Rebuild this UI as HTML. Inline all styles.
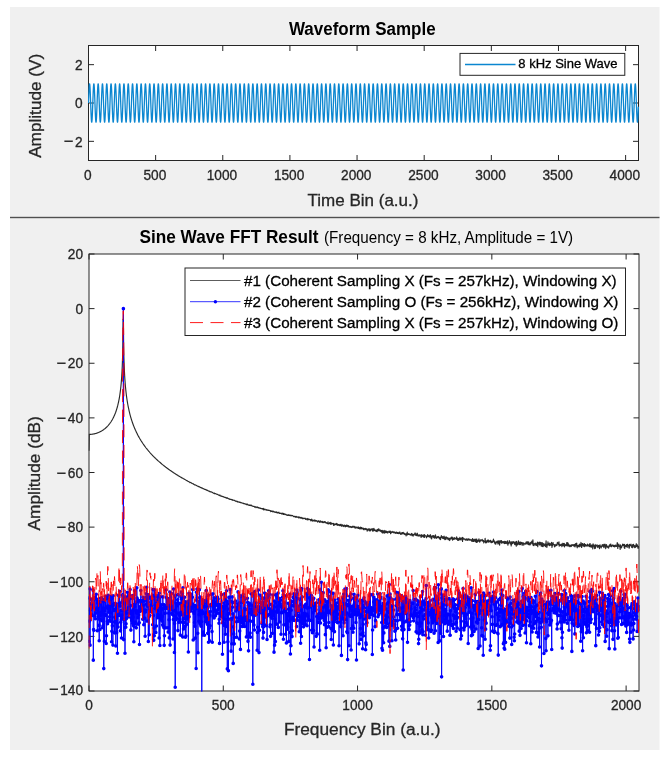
<!DOCTYPE html><html><head><meta charset="utf-8"><title>FFT</title><style>html,body{margin:0;padding:0;background:#fff;}svg{display:block;}text{font-family:'Liberation Sans', Arial, Helvetica, sans-serif;} .e{stroke:currentColor;stroke-width:0.3px;}</style></head><body><svg width="671" height="763" viewBox="0 0 671 763"><rect x="0" y="0" width="671" height="763" fill="#ffffff"/><rect x="10" y="7" width="649.5" height="743" fill="#f0f0f0"/><rect x="10" y="216.8" width="649.5" height="1.4" fill="#505050"/><defs><clipPath id="ct"><rect x="88.5" y="45.5" width="550.0" height="115.0"/></clipPath><clipPath id="ct2"><rect x="88" y="45" width="551.5" height="116"/></clipPath><clipPath id="cb2"><rect x="88.5" y="253.5" width="551" height="438"/></clipPath><clipPath id="cb"><rect x="89.0" y="254.0" width="550.0" height="437.0"/></clipPath></defs><rect x="88.5" y="45.5" width="550.0" height="115.0" fill="#fff"/><path d="M88.5 160.5V155M88.5 45.5V51M155.64 160.5V155M155.64 45.5V51M222.78 160.5V155M222.78 45.5V51M289.92 160.5V155M289.92 45.5V51M357.05 160.5V155M357.05 45.5V51M424.19 160.5V155M424.19 45.5V51M491.33 160.5V155M491.33 45.5V51M558.47 160.5V155M558.47 45.5V51M625.61 160.5V155M625.61 45.5V51M88.5 141.33H94M638.5 141.33H633M88.5 103H94M638.5 103H633M88.5 64.67H94M638.5 64.67H633" stroke="#262626" stroke-width="1" fill="none"/><rect x="88.5" y="45.5" width="550.0" height="115.0" fill="none" stroke="#262626" stroke-width="1"/><text class="e" transform="translate(87.7 180) scale(1 1.07)" font-size="13.7" fill="#262626" color="#262626" text-anchor="middle">0</text><text class="e" transform="translate(154.84 180) scale(1 1.07)" font-size="13.7" fill="#262626" color="#262626" text-anchor="middle">500</text><text class="e" transform="translate(221.98 180) scale(1 1.07)" font-size="13.7" fill="#262626" color="#262626" text-anchor="middle">1000</text><text class="e" transform="translate(289.12 180) scale(1 1.07)" font-size="13.7" fill="#262626" color="#262626" text-anchor="middle">1500</text><text class="e" transform="translate(356.25 180) scale(1 1.07)" font-size="13.7" fill="#262626" color="#262626" text-anchor="middle">2000</text><text class="e" transform="translate(423.39 180) scale(1 1.07)" font-size="13.7" fill="#262626" color="#262626" text-anchor="middle">2500</text><text class="e" transform="translate(490.53 180) scale(1 1.07)" font-size="13.7" fill="#262626" color="#262626" text-anchor="middle">3000</text><text class="e" transform="translate(557.67 180) scale(1 1.07)" font-size="13.7" fill="#262626" color="#262626" text-anchor="middle">3500</text><text class="e" transform="translate(624.81 180) scale(1 1.07)" font-size="13.7" fill="#262626" color="#262626" text-anchor="middle">4000</text><text class="e" transform="translate(82.5 146.52) scale(1 1.07)" font-size="13.7" fill="#262626" color="#262626" text-anchor="end"><tspan font-size="16.5" dy="0.8">−</tspan><tspan dx="1.6" dy="-0.8">2</tspan></text><text class="e" transform="translate(82.5 108.19) scale(1 1.07)" font-size="13.7" fill="#262626" color="#262626" text-anchor="end">0</text><text class="e" transform="translate(82.5 69.86) scale(1 1.07)" font-size="13.7" fill="#262626" color="#262626" text-anchor="end">2</text><path d="M88.5 103L88.63 99.26L88.77 95.67L88.9 92.35L89.04 89.45L89.17 87.06L89.31 85.29L89.44 84.2L89.57 83.83L89.71 84.2L89.84 85.29L89.98 87.06L90.11 89.45L90.25 92.35L90.38 95.67L90.51 99.26L90.65 103L90.78 106.74L90.92 110.33L91.05 113.65L91.19 116.55L91.32 118.94L91.45 120.71L91.59 121.8L91.72 122.17L91.86 121.8L91.99 120.71L92.13 118.94L92.26 116.55L92.39 113.65L92.53 110.33L92.66 106.74L92.8 103L92.93 99.26L93.07 95.67L93.2 92.35L93.33 89.45L93.47 87.06L93.6 85.29L93.74 84.2L93.87 83.83L94.01 84.2L94.14 85.29L94.27 87.06L94.41 89.45L94.54 92.35L94.68 95.67L94.81 99.26L94.95 103L95.08 106.74L95.21 110.33L95.35 113.65L95.48 116.55L95.62 118.94L95.75 120.71L95.89 121.8L96.02 122.17L96.15 121.8L96.29 120.71L96.42 118.94L96.56 116.55L96.69 113.65L96.83 110.33L96.96 106.74L97.09 103L97.23 99.26L97.36 95.67L97.5 92.35L97.63 89.45L97.77 87.06L97.9 85.29L98.03 84.2L98.17 83.83L98.3 84.2L98.44 85.29L98.57 87.06L98.71 89.45L98.84 92.35L98.97 95.67L99.11 99.26L99.24 103L99.38 106.74L99.51 110.33L99.65 113.65L99.78 116.55L99.91 118.94L100.05 120.71L100.18 121.8L100.32 122.17L100.45 121.8L100.58 120.71L100.72 118.94L100.85 116.55L100.99 113.65L101.12 110.33L101.26 106.74L101.39 103L101.52 99.26L101.66 95.67L101.79 92.35L101.93 89.45L102.06 87.06L102.2 85.29L102.33 84.2L102.46 83.83L102.6 84.2L102.73 85.29L102.87 87.06L103 89.45L103.14 92.35L103.27 95.67L103.4 99.26L103.54 103L103.67 106.74L103.81 110.33L103.94 113.65L104.08 116.55L104.21 118.94L104.34 120.71L104.48 121.8L104.61 122.17L104.75 121.8L104.88 120.71L105.02 118.94L105.15 116.55L105.28 113.65L105.42 110.33L105.55 106.74L105.69 103L105.82 99.26L105.96 95.67L106.09 92.35L106.22 89.45L106.36 87.06L106.49 85.29L106.63 84.2L106.76 83.83L106.9 84.2L107.03 85.29L107.16 87.06L107.3 89.45L107.43 92.35L107.57 95.67L107.7 99.26L107.84 103L107.97 106.74L108.1 110.33L108.24 113.65L108.37 116.55L108.51 118.94L108.64 120.71L108.78 121.8L108.91 122.17L109.04 121.8L109.18 120.71L109.31 118.94L109.45 116.55L109.58 113.65L109.72 110.33L109.85 106.74L109.98 103L110.12 99.26L110.25 95.67L110.39 92.35L110.52 89.45L110.66 87.06L110.79 85.29L110.92 84.2L111.06 83.83L111.19 84.2L111.33 85.29L111.46 87.06L111.6 89.45L111.73 92.35L111.86 95.67L112 99.26L112.13 103L112.27 106.74L112.4 110.33L112.54 113.65L112.67 116.55L112.8 118.94L112.94 120.71L113.07 121.8L113.21 122.17L113.34 121.8L113.48 120.71L113.61 118.94L113.74 116.55L113.88 113.65L114.01 110.33L114.15 106.74L114.28 103L114.42 99.26L114.55 95.67L114.68 92.35L114.82 89.45L114.95 87.06L115.09 85.29L115.22 84.2L115.36 83.83L115.49 84.2L115.62 85.29L115.76 87.06L115.89 89.45L116.03 92.35L116.16 95.67L116.3 99.26L116.43 103L116.56 106.74L116.7 110.33L116.83 113.65L116.97 116.55L117.1 118.94L117.24 120.71L117.37 121.8L117.5 122.17L117.64 121.8L117.77 120.71L117.91 118.94L118.04 116.55L118.18 113.65L118.31 110.33L118.44 106.74L118.58 103L118.71 99.26L118.85 95.67L118.98 92.35L119.12 89.45L119.25 87.06L119.38 85.29L119.52 84.2L119.65 83.83L119.79 84.2L119.92 85.29L120.06 87.06L120.19 89.45L120.32 92.35L120.46 95.67L120.59 99.26L120.73 103L120.86 106.74L121 110.33L121.13 113.65L121.26 116.55L121.4 118.94L121.53 120.71L121.67 121.8L121.8 122.17L121.94 121.8L122.07 120.71L122.2 118.94L122.34 116.55L122.47 113.65L122.61 110.33L122.74 106.74L122.88 103L123.01 99.26L123.14 95.67L123.28 92.35L123.41 89.45L123.55 87.06L123.68 85.29L123.81 84.2L123.95 83.83L124.08 84.2L124.22 85.29L124.35 87.06L124.49 89.45L124.62 92.35L124.75 95.67L124.89 99.26L125.02 103L125.16 106.74L125.29 110.33L125.43 113.65L125.56 116.55L125.69 118.94L125.83 120.71L125.96 121.8L126.1 122.17L126.23 121.8L126.37 120.71L126.5 118.94L126.63 116.55L126.77 113.65L126.9 110.33L127.04 106.74L127.17 103L127.31 99.26L127.44 95.67L127.57 92.35L127.71 89.45L127.84 87.06L127.98 85.29L128.11 84.2L128.25 83.83L128.38 84.2L128.51 85.29L128.65 87.06L128.78 89.45L128.92 92.35L129.05 95.67L129.19 99.26L129.32 103L129.45 106.74L129.59 110.33L129.72 113.65L129.86 116.55L129.99 118.94L130.13 120.71L130.26 121.8L130.39 122.17L130.53 121.8L130.66 120.71L130.8 118.94L130.93 116.55L131.07 113.65L131.2 110.33L131.33 106.74L131.47 103L131.6 99.26L131.74 95.67L131.87 92.35L132.01 89.45L132.14 87.06L132.27 85.29L132.41 84.2L132.54 83.83L132.68 84.2L132.81 85.29L132.95 87.06L133.08 89.45L133.21 92.35L133.35 95.67L133.48 99.26L133.62 103L133.75 106.74L133.89 110.33L134.02 113.65L134.15 116.55L134.29 118.94L134.42 120.71L134.56 121.8L134.69 122.17L134.83 121.8L134.96 120.71L135.09 118.94L135.23 116.55L135.36 113.65L135.5 110.33L135.63 106.74L135.77 103L135.9 99.26L136.03 95.67L136.17 92.35L136.3 89.45L136.44 87.06L136.57 85.29L136.71 84.2L136.84 83.83L136.97 84.2L137.11 85.29L137.24 87.06L137.38 89.45L137.51 92.35L137.65 95.67L137.78 99.26L137.91 103L138.05 106.74L138.18 110.33L138.32 113.65L138.45 116.55L138.59 118.94L138.72 120.71L138.85 121.8L138.99 122.17L139.12 121.8L139.26 120.71L139.39 118.94L139.53 116.55L139.66 113.65L139.79 110.33L139.93 106.74L140.06 103L140.2 99.26L140.33 95.67L140.47 92.35L140.6 89.45L140.73 87.06L140.87 85.29L141 84.2L141.14 83.83L141.27 84.2L141.41 85.29L141.54 87.06L141.67 89.45L141.81 92.35L141.94 95.67L142.08 99.26L142.21 103L142.35 106.74L142.48 110.33L142.61 113.65L142.75 116.55L142.88 118.94L143.02 120.71L143.15 121.8L143.29 122.17L143.42 121.8L143.55 120.71L143.69 118.94L143.82 116.55L143.96 113.65L144.09 110.33L144.23 106.74L144.36 103L144.49 99.26L144.63 95.67L144.76 92.35L144.9 89.45L145.03 87.06L145.17 85.29L145.3 84.2L145.43 83.83L145.57 84.2L145.7 85.29L145.84 87.06L145.97 89.45L146.1 92.35L146.24 95.67L146.37 99.26L146.51 103L146.64 106.74L146.78 110.33L146.91 113.65L147.04 116.55L147.18 118.94L147.31 120.71L147.45 121.8L147.58 122.17L147.72 121.8L147.85 120.71L147.98 118.94L148.12 116.55L148.25 113.65L148.39 110.33L148.52 106.74L148.66 103L148.79 99.26L148.92 95.67L149.06 92.35L149.19 89.45L149.33 87.06L149.46 85.29L149.6 84.2L149.73 83.83L149.86 84.2L150 85.29L150.13 87.06L150.27 89.45L150.4 92.35L150.54 95.67L150.67 99.26L150.8 103L150.94 106.74L151.07 110.33L151.21 113.65L151.34 116.55L151.48 118.94L151.61 120.71L151.74 121.8L151.88 122.17L152.01 121.8L152.15 120.71L152.28 118.94L152.42 116.55L152.55 113.65L152.68 110.33L152.82 106.74L152.95 103L153.09 99.26L153.22 95.67L153.36 92.35L153.49 89.45L153.62 87.06L153.76 85.29L153.89 84.2L154.03 83.83L154.16 84.2L154.3 85.29L154.43 87.06L154.56 89.45L154.7 92.35L154.83 95.67L154.97 99.26L155.1 103L155.24 106.74L155.37 110.33L155.5 113.65L155.64 116.55L155.77 118.94L155.91 120.71L156.04 121.8L156.18 122.17L156.31 121.8L156.44 120.71L156.58 118.94L156.71 116.55L156.85 113.65L156.98 110.33L157.12 106.74L157.25 103L157.38 99.26L157.52 95.67L157.65 92.35L157.79 89.45L157.92 87.06L158.06 85.29L158.19 84.2L158.32 83.83L158.46 84.2L158.59 85.29L158.73 87.06L158.86 89.45L159 92.35L159.13 95.67L159.26 99.26L159.4 103L159.53 106.74L159.67 110.33L159.8 113.65L159.94 116.55L160.07 118.94L160.2 120.71L160.34 121.8L160.47 122.17L160.61 121.8L160.74 120.71L160.88 118.94L161.01 116.55L161.14 113.65L161.28 110.33L161.41 106.74L161.55 103L161.68 99.26L161.82 95.67L161.95 92.35L162.08 89.45L162.22 87.06L162.35 85.29L162.49 84.2L162.62 83.83L162.76 84.2L162.89 85.29L163.02 87.06L163.16 89.45L163.29 92.35L163.43 95.67L163.56 99.26L163.7 103L163.83 106.74L163.96 110.33L164.1 113.65L164.23 116.55L164.37 118.94L164.5 120.71L164.64 121.8L164.77 122.17L164.9 121.8L165.04 120.71L165.17 118.94L165.31 116.55L165.44 113.65L165.58 110.33L165.71 106.74L165.84 103L165.98 99.26L166.11 95.67L166.25 92.35L166.38 89.45L166.52 87.06L166.65 85.29L166.78 84.2L166.92 83.83L167.05 84.2L167.19 85.29L167.32 87.06L167.46 89.45L167.59 92.35L167.72 95.67L167.86 99.26L167.99 103L168.13 106.74L168.26 110.33L168.4 113.65L168.53 116.55L168.66 118.94L168.8 120.71L168.93 121.8L169.07 122.17L169.2 121.8L169.33 120.71L169.47 118.94L169.6 116.55L169.74 113.65L169.87 110.33L170.01 106.74L170.14 103L170.27 99.26L170.41 95.67L170.54 92.35L170.68 89.45L170.81 87.06L170.95 85.29L171.08 84.2L171.21 83.83L171.35 84.2L171.48 85.29L171.62 87.06L171.75 89.45L171.89 92.35L172.02 95.67L172.15 99.26L172.29 103L172.42 106.74L172.56 110.33L172.69 113.65L172.83 116.55L172.96 118.94L173.09 120.71L173.23 121.8L173.36 122.17L173.5 121.8L173.63 120.71L173.77 118.94L173.9 116.55L174.03 113.65L174.17 110.33L174.3 106.74L174.44 103L174.57 99.26L174.71 95.67L174.84 92.35L174.97 89.45L175.11 87.06L175.24 85.29L175.38 84.2L175.51 83.83L175.65 84.2L175.78 85.29L175.91 87.06L176.05 89.45L176.18 92.35L176.32 95.67L176.45 99.26L176.59 103L176.72 106.74L176.85 110.33L176.99 113.65L177.12 116.55L177.26 118.94L177.39 120.71L177.53 121.8L177.66 122.17L177.79 121.8L177.93 120.71L178.06 118.94L178.2 116.55L178.33 113.65L178.47 110.33L178.6 106.74L178.73 103L178.87 99.26L179 95.67L179.14 92.35L179.27 89.45L179.41 87.06L179.54 85.29L179.67 84.2L179.81 83.83L179.94 84.2L180.08 85.29L180.21 87.06L180.35 89.45L180.48 92.35L180.61 95.67L180.75 99.26L180.88 103L181.02 106.74L181.15 110.33L181.29 113.65L181.42 116.55L181.55 118.94L181.69 120.71L181.82 121.8L181.96 122.17L182.09 121.8L182.23 120.71L182.36 118.94L182.49 116.55L182.63 113.65L182.76 110.33L182.9 106.74L183.03 103L183.17 99.26L183.3 95.67L183.43 92.35L183.57 89.45L183.7 87.06L183.84 85.29L183.97 84.2L184.11 83.83L184.24 84.2L184.37 85.29L184.51 87.06L184.64 89.45L184.78 92.35L184.91 95.67L185.05 99.26L185.18 103L185.31 106.74L185.45 110.33L185.58 113.65L185.72 116.55L185.85 118.94L185.99 120.71L186.12 121.8L186.25 122.17L186.39 121.8L186.52 120.71L186.66 118.94L186.79 116.55L186.93 113.65L187.06 110.33L187.19 106.74L187.33 103L187.46 99.26L187.6 95.67L187.73 92.35L187.87 89.45L188 87.06L188.13 85.29L188.27 84.2L188.4 83.83L188.54 84.2L188.67 85.29L188.81 87.06L188.94 89.45L189.07 92.35L189.21 95.67L189.34 99.26L189.48 103L189.61 106.74L189.75 110.33L189.88 113.65L190.01 116.55L190.15 118.94L190.28 120.71L190.42 121.8L190.55 122.17L190.69 121.8L190.82 120.71L190.95 118.94L191.09 116.55L191.22 113.65L191.36 110.33L191.49 106.74L191.62 103L191.76 99.26L191.89 95.67L192.03 92.35L192.16 89.45L192.3 87.06L192.43 85.29L192.56 84.2L192.7 83.83L192.83 84.2L192.97 85.29L193.1 87.06L193.24 89.45L193.37 92.35L193.5 95.67L193.64 99.26L193.77 103L193.91 106.74L194.04 110.33L194.18 113.65L194.31 116.55L194.44 118.94L194.58 120.71L194.71 121.8L194.85 122.17L194.98 121.8L195.12 120.71L195.25 118.94L195.38 116.55L195.52 113.65L195.65 110.33L195.79 106.74L195.92 103L196.06 99.26L196.19 95.67L196.32 92.35L196.46 89.45L196.59 87.06L196.73 85.29L196.86 84.2L197 83.83L197.13 84.2L197.26 85.29L197.4 87.06L197.53 89.45L197.67 92.35L197.8 95.67L197.94 99.26L198.07 103L198.2 106.74L198.34 110.33L198.47 113.65L198.61 116.55L198.74 118.94L198.88 120.71L199.01 121.8L199.14 122.17L199.28 121.8L199.41 120.71L199.55 118.94L199.68 116.55L199.82 113.65L199.95 110.33L200.08 106.74L200.22 103L200.35 99.26L200.49 95.67L200.62 92.35L200.76 89.45L200.89 87.06L201.02 85.29L201.16 84.2L201.29 83.83L201.43 84.2L201.56 85.29L201.7 87.06L201.83 89.45L201.96 92.35L202.1 95.67L202.23 99.26L202.37 103L202.5 106.74L202.64 110.33L202.77 113.65L202.9 116.55L203.04 118.94L203.17 120.71L203.31 121.8L203.44 122.17L203.58 121.8L203.71 120.71L203.84 118.94L203.98 116.55L204.11 113.65L204.25 110.33L204.38 106.74L204.52 103L204.65 99.26L204.78 95.67L204.92 92.35L205.05 89.45L205.19 87.06L205.32 85.29L205.46 84.2L205.59 83.83L205.72 84.2L205.86 85.29L205.99 87.06L206.13 89.45L206.26 92.35L206.4 95.67L206.53 99.26L206.66 103L206.8 106.74L206.93 110.33L207.07 113.65L207.2 116.55L207.34 118.94L207.47 120.71L207.6 121.8L207.74 122.17L207.87 121.8L208.01 120.71L208.14 118.94L208.28 116.55L208.41 113.65L208.54 110.33L208.68 106.74L208.81 103L208.95 99.26L209.08 95.67L209.22 92.35L209.35 89.45L209.48 87.06L209.62 85.29L209.75 84.2L209.89 83.83L210.02 84.2L210.16 85.29L210.29 87.06L210.42 89.45L210.56 92.35L210.69 95.67L210.83 99.26L210.96 103L211.1 106.74L211.23 110.33L211.36 113.65L211.5 116.55L211.63 118.94L211.77 120.71L211.9 121.8L212.04 122.17L212.17 121.8L212.3 120.71L212.44 118.94L212.57 116.55L212.71 113.65L212.84 110.33L212.98 106.74L213.11 103L213.24 99.26L213.38 95.67L213.51 92.35L213.65 89.45L213.78 87.06L213.92 85.29L214.05 84.2L214.18 83.83L214.32 84.2L214.45 85.29L214.59 87.06L214.72 89.45L214.85 92.35L214.99 95.67L215.12 99.26L215.26 103L215.39 106.74L215.53 110.33L215.66 113.65L215.79 116.55L215.93 118.94L216.06 120.71L216.2 121.8L216.33 122.17L216.47 121.8L216.6 120.71L216.73 118.94L216.87 116.55L217 113.65L217.14 110.33L217.27 106.74L217.41 103L217.54 99.26L217.67 95.67L217.81 92.35L217.94 89.45L218.08 87.06L218.21 85.29L218.35 84.2L218.48 83.83L218.61 84.2L218.75 85.29L218.88 87.06L219.02 89.45L219.15 92.35L219.29 95.67L219.42 99.26L219.55 103L219.69 106.74L219.82 110.33L219.96 113.65L220.09 116.55L220.23 118.94L220.36 120.71L220.49 121.8L220.63 122.17L220.76 121.8L220.9 120.71L221.03 118.94L221.17 116.55L221.3 113.65L221.43 110.33L221.57 106.74L221.7 103L221.84 99.26L221.97 95.67L222.11 92.35L222.24 89.45L222.37 87.06L222.51 85.29L222.64 84.2L222.78 83.83L222.91 84.2L223.05 85.29L223.18 87.06L223.31 89.45L223.45 92.35L223.58 95.67L223.72 99.26L223.85 103L223.99 106.74L224.12 110.33L224.25 113.65L224.39 116.55L224.52 118.94L224.66 120.71L224.79 121.8L224.93 122.17L225.06 121.8L225.19 120.71L225.33 118.94L225.46 116.55L225.6 113.65L225.73 110.33L225.87 106.74L226 103L226.13 99.26L226.27 95.67L226.4 92.35L226.54 89.45L226.67 87.06L226.81 85.29L226.94 84.2L227.07 83.83L227.21 84.2L227.34 85.29L227.48 87.06L227.61 89.45L227.75 92.35L227.88 95.67L228.01 99.26L228.15 103L228.28 106.74L228.42 110.33L228.55 113.65L228.69 116.55L228.82 118.94L228.95 120.71L229.09 121.8L229.22 122.17L229.36 121.8L229.49 120.71L229.63 118.94L229.76 116.55L229.89 113.65L230.03 110.33L230.16 106.74L230.3 103L230.43 99.26L230.57 95.67L230.7 92.35L230.83 89.45L230.97 87.06L231.1 85.29L231.24 84.2L231.37 83.83L231.51 84.2L231.64 85.29L231.77 87.06L231.91 89.45L232.04 92.35L232.18 95.67L232.31 99.26L232.45 103L232.58 106.74L232.71 110.33L232.85 113.65L232.98 116.55L233.12 118.94L233.25 120.71L233.39 121.8L233.52 122.17L233.65 121.8L233.79 120.71L233.92 118.94L234.06 116.55L234.19 113.65L234.33 110.33L234.46 106.74L234.59 103L234.73 99.26L234.86 95.67L235 92.35L235.13 89.45L235.27 87.06L235.4 85.29L235.53 84.2L235.67 83.83L235.8 84.2L235.94 85.29L236.07 87.06L236.21 89.45L236.34 92.35L236.47 95.67L236.61 99.26L236.74 103L236.88 106.74L237.01 110.33L237.15 113.65L237.28 116.55L237.41 118.94L237.55 120.71L237.68 121.8L237.82 122.17L237.95 121.8L238.08 120.71L238.22 118.94L238.35 116.55L238.49 113.65L238.62 110.33L238.76 106.74L238.89 103L239.02 99.26L239.16 95.67L239.29 92.35L239.43 89.45L239.56 87.06L239.7 85.29L239.83 84.2L239.96 83.83L240.1 84.2L240.23 85.29L240.37 87.06L240.5 89.45L240.64 92.35L240.77 95.67L240.9 99.26L241.04 103L241.17 106.74L241.31 110.33L241.44 113.65L241.58 116.55L241.71 118.94L241.84 120.71L241.98 121.8L242.11 122.17L242.25 121.8L242.38 120.71L242.52 118.94L242.65 116.55L242.78 113.65L242.92 110.33L243.05 106.74L243.19 103L243.32 99.26L243.46 95.67L243.59 92.35L243.72 89.45L243.86 87.06L243.99 85.29L244.13 84.2L244.26 83.83L244.4 84.2L244.53 85.29L244.66 87.06L244.8 89.45L244.93 92.35L245.07 95.67L245.2 99.26L245.34 103L245.47 106.74L245.6 110.33L245.74 113.65L245.87 116.55L246.01 118.94L246.14 120.71L246.28 121.8L246.41 122.17L246.54 121.8L246.68 120.71L246.81 118.94L246.95 116.55L247.08 113.65L247.22 110.33L247.35 106.74L247.48 103L247.62 99.26L247.75 95.67L247.89 92.35L248.02 89.45L248.16 87.06L248.29 85.29L248.42 84.2L248.56 83.83L248.69 84.2L248.83 85.29L248.96 87.06L249.1 89.45L249.23 92.35L249.36 95.67L249.5 99.26L249.63 103L249.77 106.74L249.9 110.33L250.04 113.65L250.17 116.55L250.3 118.94L250.44 120.71L250.57 121.8L250.71 122.17L250.84 121.8L250.98 120.71L251.11 118.94L251.24 116.55L251.38 113.65L251.51 110.33L251.65 106.74L251.78 103L251.92 99.26L252.05 95.67L252.18 92.35L252.32 89.45L252.45 87.06L252.59 85.29L252.72 84.2L252.86 83.83L252.99 84.2L253.12 85.29L253.26 87.06L253.39 89.45L253.53 92.35L253.66 95.67L253.8 99.26L253.93 103L254.06 106.74L254.2 110.33L254.33 113.65L254.47 116.55L254.6 118.94L254.74 120.71L254.87 121.8L255 122.17L255.14 121.8L255.27 120.71L255.41 118.94L255.54 116.55L255.68 113.65L255.81 110.33L255.94 106.74L256.08 103L256.21 99.26L256.35 95.67L256.48 92.35L256.62 89.45L256.75 87.06L256.88 85.29L257.02 84.2L257.15 83.83L257.29 84.2L257.42 85.29L257.56 87.06L257.69 89.45L257.82 92.35L257.96 95.67L258.09 99.26L258.23 103L258.36 106.74L258.5 110.33L258.63 113.65L258.76 116.55L258.9 118.94L259.03 120.71L259.17 121.8L259.3 122.17L259.44 121.8L259.57 120.71L259.7 118.94L259.84 116.55L259.97 113.65L260.11 110.33L260.24 106.74L260.38 103L260.51 99.26L260.64 95.67L260.78 92.35L260.91 89.45L261.05 87.06L261.18 85.29L261.31 84.2L261.45 83.83L261.58 84.2L261.72 85.29L261.85 87.06L261.99 89.45L262.12 92.35L262.25 95.67L262.39 99.26L262.52 103L262.66 106.74L262.79 110.33L262.93 113.65L263.06 116.55L263.19 118.94L263.33 120.71L263.46 121.8L263.6 122.17L263.73 121.8L263.87 120.71L264 118.94L264.13 116.55L264.27 113.65L264.4 110.33L264.54 106.74L264.67 103L264.81 99.26L264.94 95.67L265.07 92.35L265.21 89.45L265.34 87.06L265.48 85.29L265.61 84.2L265.75 83.83L265.88 84.2L266.01 85.29L266.15 87.06L266.28 89.45L266.42 92.35L266.55 95.67L266.69 99.26L266.82 103L266.95 106.74L267.09 110.33L267.22 113.65L267.36 116.55L267.49 118.94L267.63 120.71L267.76 121.8L267.89 122.17L268.03 121.8L268.16 120.71L268.3 118.94L268.43 116.55L268.57 113.65L268.7 110.33L268.83 106.74L268.97 103L269.1 99.26L269.24 95.67L269.37 92.35L269.51 89.45L269.64 87.06L269.77 85.29L269.91 84.2L270.04 83.83L270.18 84.2L270.31 85.29L270.45 87.06L270.58 89.45L270.71 92.35L270.85 95.67L270.98 99.26L271.12 103L271.25 106.74L271.39 110.33L271.52 113.65L271.65 116.55L271.79 118.94L271.92 120.71L272.06 121.8L272.19 122.17L272.33 121.8L272.46 120.71L272.59 118.94L272.73 116.55L272.86 113.65L273 110.33L273.13 106.74L273.27 103L273.4 99.26L273.53 95.67L273.67 92.35L273.8 89.45L273.94 87.06L274.07 85.29L274.21 84.2L274.34 83.83L274.47 84.2L274.61 85.29L274.74 87.06L274.88 89.45L275.01 92.35L275.15 95.67L275.28 99.26L275.41 103L275.55 106.74L275.68 110.33L275.82 113.65L275.95 116.55L276.09 118.94L276.22 120.71L276.35 121.8L276.49 122.17L276.62 121.8L276.76 120.71L276.89 118.94L277.03 116.55L277.16 113.65L277.29 110.33L277.43 106.74L277.56 103L277.7 99.26L277.83 95.67L277.97 92.35L278.1 89.45L278.23 87.06L278.37 85.29L278.5 84.2L278.64 83.83L278.77 84.2L278.91 85.29L279.04 87.06L279.17 89.45L279.31 92.35L279.44 95.67L279.58 99.26L279.71 103L279.85 106.74L279.98 110.33L280.11 113.65L280.25 116.55L280.38 118.94L280.52 120.71L280.65 121.8L280.79 122.17L280.92 121.8L281.05 120.71L281.19 118.94L281.32 116.55L281.46 113.65L281.59 110.33L281.73 106.74L281.86 103L281.99 99.26L282.13 95.67L282.26 92.35L282.4 89.45L282.53 87.06L282.67 85.29L282.8 84.2L282.93 83.83L283.07 84.2L283.2 85.29L283.34 87.06L283.47 89.45L283.6 92.35L283.74 95.67L283.87 99.26L284.01 103L284.14 106.74L284.28 110.33L284.41 113.65L284.54 116.55L284.68 118.94L284.81 120.71L284.95 121.8L285.08 122.17L285.22 121.8L285.35 120.71L285.48 118.94L285.62 116.55L285.75 113.65L285.89 110.33L286.02 106.74L286.16 103L286.29 99.26L286.42 95.67L286.56 92.35L286.69 89.45L286.83 87.06L286.96 85.29L287.1 84.2L287.23 83.83L287.36 84.2L287.5 85.29L287.63 87.06L287.77 89.45L287.9 92.35L288.04 95.67L288.17 99.26L288.3 103L288.44 106.74L288.57 110.33L288.71 113.65L288.84 116.55L288.98 118.94L289.11 120.71L289.24 121.8L289.38 122.17L289.51 121.8L289.65 120.71L289.78 118.94L289.92 116.55L290.05 113.65L290.18 110.33L290.32 106.74L290.45 103L290.59 99.26L290.72 95.67L290.86 92.35L290.99 89.45L291.12 87.06L291.26 85.29L291.39 84.2L291.53 83.83L291.66 84.2L291.8 85.29L291.93 87.06L292.06 89.45L292.2 92.35L292.33 95.67L292.47 99.26L292.6 103L292.74 106.74L292.87 110.33L293 113.65L293.14 116.55L293.27 118.94L293.41 120.71L293.54 121.8L293.68 122.17L293.81 121.8L293.94 120.71L294.08 118.94L294.21 116.55L294.35 113.65L294.48 110.33L294.62 106.74L294.75 103L294.88 99.26L295.02 95.67L295.15 92.35L295.29 89.45L295.42 87.06L295.56 85.29L295.69 84.2L295.82 83.83L295.96 84.2L296.09 85.29L296.23 87.06L296.36 89.45L296.5 92.35L296.63 95.67L296.76 99.26L296.9 103L297.03 106.74L297.17 110.33L297.3 113.65L297.44 116.55L297.57 118.94L297.7 120.71L297.84 121.8L297.97 122.17L298.11 121.8L298.24 120.71L298.38 118.94L298.51 116.55L298.64 113.65L298.78 110.33L298.91 106.74L299.05 103L299.18 99.26L299.32 95.67L299.45 92.35L299.58 89.45L299.72 87.06L299.85 85.29L299.99 84.2L300.12 83.83L300.26 84.2L300.39 85.29L300.52 87.06L300.66 89.45L300.79 92.35L300.93 95.67L301.06 99.26L301.2 103L301.33 106.74L301.46 110.33L301.6 113.65L301.73 116.55L301.87 118.94L302 120.71L302.14 121.8L302.27 122.17L302.4 121.8L302.54 120.71L302.67 118.94L302.81 116.55L302.94 113.65L303.08 110.33L303.21 106.74L303.34 103L303.48 99.26L303.61 95.67L303.75 92.35L303.88 89.45L304.02 87.06L304.15 85.29L304.28 84.2L304.42 83.83L304.55 84.2L304.69 85.29L304.82 87.06L304.96 89.45L305.09 92.35L305.22 95.67L305.36 99.26L305.49 103L305.63 106.74L305.76 110.33L305.9 113.65L306.03 116.55L306.16 118.94L306.3 120.71L306.43 121.8L306.57 122.17L306.7 121.8L306.83 120.71L306.97 118.94L307.1 116.55L307.24 113.65L307.37 110.33L307.51 106.74L307.64 103L307.77 99.26L307.91 95.67L308.04 92.35L308.18 89.45L308.31 87.06L308.45 85.29L308.58 84.2L308.71 83.83L308.85 84.2L308.98 85.29L309.12 87.06L309.25 89.45L309.39 92.35L309.52 95.67L309.65 99.26L309.79 103L309.92 106.74L310.06 110.33L310.19 113.65L310.33 116.55L310.46 118.94L310.59 120.71L310.73 121.8L310.86 122.17L311 121.8L311.13 120.71L311.27 118.94L311.4 116.55L311.53 113.65L311.67 110.33L311.8 106.74L311.94 103L312.07 99.26L312.21 95.67L312.34 92.35L312.47 89.45L312.61 87.06L312.74 85.29L312.88 84.2L313.01 83.83L313.15 84.2L313.28 85.29L313.41 87.06L313.55 89.45L313.68 92.35L313.82 95.67L313.95 99.26L314.09 103L314.22 106.74L314.35 110.33L314.49 113.65L314.62 116.55L314.76 118.94L314.89 120.71L315.03 121.8L315.16 122.17L315.29 121.8L315.43 120.71L315.56 118.94L315.7 116.55L315.83 113.65L315.97 110.33L316.1 106.74L316.23 103L316.37 99.26L316.5 95.67L316.64 92.35L316.77 89.45L316.91 87.06L317.04 85.29L317.17 84.2L317.31 83.83L317.44 84.2L317.58 85.29L317.71 87.06L317.85 89.45L317.98 92.35L318.11 95.67L318.25 99.26L318.38 103L318.52 106.74L318.65 110.33L318.79 113.65L318.92 116.55L319.05 118.94L319.19 120.71L319.32 121.8L319.46 122.17L319.59 121.8L319.73 120.71L319.86 118.94L319.99 116.55L320.13 113.65L320.26 110.33L320.4 106.74L320.53 103L320.67 99.26L320.8 95.67L320.93 92.35L321.07 89.45L321.2 87.06L321.34 85.29L321.47 84.2L321.61 83.83L321.74 84.2L321.87 85.29L322.01 87.06L322.14 89.45L322.28 92.35L322.41 95.67L322.55 99.26L322.68 103L322.81 106.74L322.95 110.33L323.08 113.65L323.22 116.55L323.35 118.94L323.49 120.71L323.62 121.8L323.75 122.17L323.89 121.8L324.02 120.71L324.16 118.94L324.29 116.55L324.43 113.65L324.56 110.33L324.69 106.74L324.83 103L324.96 99.26L325.1 95.67L325.23 92.35L325.37 89.45L325.5 87.06L325.63 85.29L325.77 84.2L325.9 83.83L326.04 84.2L326.17 85.29L326.31 87.06L326.44 89.45L326.57 92.35L326.71 95.67L326.84 99.26L326.98 103L327.11 106.74L327.25 110.33L327.38 113.65L327.51 116.55L327.65 118.94L327.78 120.71L327.92 121.8L328.05 122.17L328.19 121.8L328.32 120.71L328.45 118.94L328.59 116.55L328.72 113.65L328.86 110.33L328.99 106.74L329.12 103L329.26 99.26L329.39 95.67L329.53 92.35L329.66 89.45L329.8 87.06L329.93 85.29L330.06 84.2L330.2 83.83L330.33 84.2L330.47 85.29L330.6 87.06L330.74 89.45L330.87 92.35L331 95.67L331.14 99.26L331.27 103L331.41 106.74L331.54 110.33L331.68 113.65L331.81 116.55L331.94 118.94L332.08 120.71L332.21 121.8L332.35 122.17L332.48 121.8L332.62 120.71L332.75 118.94L332.88 116.55L333.02 113.65L333.15 110.33L333.29 106.74L333.42 103L333.56 99.26L333.69 95.67L333.82 92.35L333.96 89.45L334.09 87.06L334.23 85.29L334.36 84.2L334.5 83.83L334.63 84.2L334.76 85.29L334.9 87.06L335.03 89.45L335.17 92.35L335.3 95.67L335.44 99.26L335.57 103L335.7 106.74L335.84 110.33L335.97 113.65L336.11 116.55L336.24 118.94L336.38 120.71L336.51 121.8L336.64 122.17L336.78 121.8L336.91 120.71L337.05 118.94L337.18 116.55L337.32 113.65L337.45 110.33L337.58 106.74L337.72 103L337.85 99.26L337.99 95.67L338.12 92.35L338.26 89.45L338.39 87.06L338.52 85.29L338.66 84.2L338.79 83.83L338.93 84.2L339.06 85.29L339.2 87.06L339.33 89.45L339.46 92.35L339.6 95.67L339.73 99.26L339.87 103L340 106.74L340.14 110.33L340.27 113.65L340.4 116.55L340.54 118.94L340.67 120.71L340.81 121.8L340.94 122.17L341.08 121.8L341.21 120.71L341.34 118.94L341.48 116.55L341.61 113.65L341.75 110.33L341.88 106.74L342.02 103L342.15 99.26L342.28 95.67L342.42 92.35L342.55 89.45L342.69 87.06L342.82 85.29L342.96 84.2L343.09 83.83L343.22 84.2L343.36 85.29L343.49 87.06L343.63 89.45L343.76 92.35L343.9 95.67L344.03 99.26L344.16 103L344.3 106.74L344.43 110.33L344.57 113.65L344.7 116.55L344.84 118.94L344.97 120.71L345.1 121.8L345.24 122.17L345.37 121.8L345.51 120.71L345.64 118.94L345.78 116.55L345.91 113.65L346.04 110.33L346.18 106.74L346.31 103L346.45 99.26L346.58 95.67L346.72 92.35L346.85 89.45L346.98 87.06L347.12 85.29L347.25 84.2L347.39 83.83L347.52 84.2L347.66 85.29L347.79 87.06L347.92 89.45L348.06 92.35L348.19 95.67L348.33 99.26L348.46 103L348.6 106.74L348.73 110.33L348.86 113.65L349 116.55L349.13 118.94L349.27 120.71L349.4 121.8L349.54 122.17L349.67 121.8L349.8 120.71L349.94 118.94L350.07 116.55L350.21 113.65L350.34 110.33L350.48 106.74L350.61 103L350.74 99.26L350.88 95.67L351.01 92.35L351.15 89.45L351.28 87.06L351.42 85.29L351.55 84.2L351.68 83.83L351.82 84.2L351.95 85.29L352.09 87.06L352.22 89.45L352.35 92.35L352.49 95.67L352.62 99.26L352.76 103L352.89 106.74L353.03 110.33L353.16 113.65L353.29 116.55L353.43 118.94L353.56 120.71L353.7 121.8L353.83 122.17L353.97 121.8L354.1 120.71L354.23 118.94L354.37 116.55L354.5 113.65L354.64 110.33L354.77 106.74L354.91 103L355.04 99.26L355.17 95.67L355.31 92.35L355.44 89.45L355.58 87.06L355.71 85.29L355.85 84.2L355.98 83.83L356.11 84.2L356.25 85.29L356.38 87.06L356.52 89.45L356.65 92.35L356.79 95.67L356.92 99.26L357.05 103L357.19 106.74L357.32 110.33L357.46 113.65L357.59 116.55L357.73 118.94L357.86 120.71L357.99 121.8L358.13 122.17L358.26 121.8L358.4 120.71L358.53 118.94L358.67 116.55L358.8 113.65L358.93 110.33L359.07 106.74L359.2 103L359.34 99.26L359.47 95.67L359.61 92.35L359.74 89.45L359.87 87.06L360.01 85.29L360.14 84.2L360.28 83.83L360.41 84.2L360.55 85.29L360.68 87.06L360.81 89.45L360.95 92.35L361.08 95.67L361.22 99.26L361.35 103L361.49 106.74L361.62 110.33L361.75 113.65L361.89 116.55L362.02 118.94L362.16 120.71L362.29 121.8L362.43 122.17L362.56 121.8L362.69 120.71L362.83 118.94L362.96 116.55L363.1 113.65L363.23 110.33L363.37 106.74L363.5 103L363.63 99.26L363.77 95.67L363.9 92.35L364.04 89.45L364.17 87.06L364.31 85.29L364.44 84.2L364.57 83.83L364.71 84.2L364.84 85.29L364.98 87.06L365.11 89.45L365.25 92.35L365.38 95.67L365.51 99.26L365.65 103L365.78 106.74L365.92 110.33L366.05 113.65L366.19 116.55L366.32 118.94L366.45 120.71L366.59 121.8L366.72 122.17L366.86 121.8L366.99 120.71L367.13 118.94L367.26 116.55L367.39 113.65L367.53 110.33L367.66 106.74L367.8 103L367.93 99.26L368.07 95.67L368.2 92.35L368.33 89.45L368.47 87.06L368.6 85.29L368.74 84.2L368.87 83.83L369.01 84.2L369.14 85.29L369.27 87.06L369.41 89.45L369.54 92.35L369.68 95.67L369.81 99.26L369.95 103L370.08 106.74L370.21 110.33L370.35 113.65L370.48 116.55L370.62 118.94L370.75 120.71L370.89 121.8L371.02 122.17L371.15 121.8L371.29 120.71L371.42 118.94L371.56 116.55L371.69 113.65L371.83 110.33L371.96 106.74L372.09 103L372.23 99.26L372.36 95.67L372.5 92.35L372.63 89.45L372.77 87.06L372.9 85.29L373.03 84.2L373.17 83.83L373.3 84.2L373.44 85.29L373.57 87.06L373.71 89.45L373.84 92.35L373.97 95.67L374.11 99.26L374.24 103L374.38 106.74L374.51 110.33L374.65 113.65L374.78 116.55L374.91 118.94L375.05 120.71L375.18 121.8L375.32 122.17L375.45 121.8L375.58 120.71L375.72 118.94L375.85 116.55L375.99 113.65L376.12 110.33L376.26 106.74L376.39 103L376.52 99.26L376.66 95.67L376.79 92.35L376.93 89.45L377.06 87.06L377.2 85.29L377.33 84.2L377.46 83.83L377.6 84.2L377.73 85.29L377.87 87.06L378 89.45L378.14 92.35L378.27 95.67L378.4 99.26L378.54 103L378.67 106.74L378.81 110.33L378.94 113.65L379.08 116.55L379.21 118.94L379.34 120.71L379.48 121.8L379.61 122.17L379.75 121.8L379.88 120.71L380.02 118.94L380.15 116.55L380.28 113.65L380.42 110.33L380.55 106.74L380.69 103L380.82 99.26L380.96 95.67L381.09 92.35L381.22 89.45L381.36 87.06L381.49 85.29L381.63 84.2L381.76 83.83L381.9 84.2L382.03 85.29L382.16 87.06L382.3 89.45L382.43 92.35L382.57 95.67L382.7 99.26L382.84 103L382.97 106.74L383.1 110.33L383.24 113.65L383.37 116.55L383.51 118.94L383.64 120.71L383.78 121.8L383.91 122.17L384.04 121.8L384.18 120.71L384.31 118.94L384.45 116.55L384.58 113.65L384.72 110.33L384.85 106.74L384.98 103L385.12 99.26L385.25 95.67L385.39 92.35L385.52 89.45L385.66 87.06L385.79 85.29L385.92 84.2L386.06 83.83L386.19 84.2L386.33 85.29L386.46 87.06L386.6 89.45L386.73 92.35L386.86 95.67L387 99.26L387.13 103L387.27 106.74L387.4 110.33L387.54 113.65L387.67 116.55L387.8 118.94L387.94 120.71L388.07 121.8L388.21 122.17L388.34 121.8L388.48 120.71L388.61 118.94L388.74 116.55L388.88 113.65L389.01 110.33L389.15 106.74L389.28 103L389.42 99.26L389.55 95.67L389.68 92.35L389.82 89.45L389.95 87.06L390.09 85.29L390.22 84.2L390.36 83.83L390.49 84.2L390.62 85.29L390.76 87.06L390.89 89.45L391.03 92.35L391.16 95.67L391.3 99.26L391.43 103L391.56 106.74L391.7 110.33L391.83 113.65L391.97 116.55L392.1 118.94L392.24 120.71L392.37 121.8L392.5 122.17L392.64 121.8L392.77 120.71L392.91 118.94L393.04 116.55L393.18 113.65L393.31 110.33L393.44 106.74L393.58 103L393.71 99.26L393.85 95.67L393.98 92.35L394.12 89.45L394.25 87.06L394.38 85.29L394.52 84.2L394.65 83.83L394.79 84.2L394.92 85.29L395.06 87.06L395.19 89.45L395.32 92.35L395.46 95.67L395.59 99.26L395.73 103L395.86 106.74L396 110.33L396.13 113.65L396.26 116.55L396.4 118.94L396.53 120.71L396.67 121.8L396.8 122.17L396.94 121.8L397.07 120.71L397.2 118.94L397.34 116.55L397.47 113.65L397.61 110.33L397.74 106.74L397.88 103L398.01 99.26L398.14 95.67L398.28 92.35L398.41 89.45L398.55 87.06L398.68 85.29L398.81 84.2L398.95 83.83L399.08 84.2L399.22 85.29L399.35 87.06L399.49 89.45L399.62 92.35L399.75 95.67L399.89 99.26L400.02 103L400.16 106.74L400.29 110.33L400.43 113.65L400.56 116.55L400.69 118.94L400.83 120.71L400.96 121.8L401.1 122.17L401.23 121.8L401.37 120.71L401.5 118.94L401.63 116.55L401.77 113.65L401.9 110.33L402.04 106.74L402.17 103L402.31 99.26L402.44 95.67L402.57 92.35L402.71 89.45L402.84 87.06L402.98 85.29L403.11 84.2L403.25 83.83L403.38 84.2L403.51 85.29L403.65 87.06L403.78 89.45L403.92 92.35L404.05 95.67L404.19 99.26L404.32 103L404.45 106.74L404.59 110.33L404.72 113.65L404.86 116.55L404.99 118.94L405.13 120.71L405.26 121.8L405.39 122.17L405.53 121.8L405.66 120.71L405.8 118.94L405.93 116.55L406.07 113.65L406.2 110.33L406.33 106.74L406.47 103L406.6 99.26L406.74 95.67L406.87 92.35L407.01 89.45L407.14 87.06L407.27 85.29L407.41 84.2L407.54 83.83L407.68 84.2L407.81 85.29L407.95 87.06L408.08 89.45L408.21 92.35L408.35 95.67L408.48 99.26L408.62 103L408.75 106.74L408.89 110.33L409.02 113.65L409.15 116.55L409.29 118.94L409.42 120.71L409.56 121.8L409.69 122.17L409.83 121.8L409.96 120.71L410.09 118.94L410.23 116.55L410.36 113.65L410.5 110.33L410.63 106.74L410.77 103L410.9 99.26L411.03 95.67L411.17 92.35L411.3 89.45L411.44 87.06L411.57 85.29L411.71 84.2L411.84 83.83L411.97 84.2L412.11 85.29L412.24 87.06L412.38 89.45L412.51 92.35L412.65 95.67L412.78 99.26L412.91 103L413.05 106.74L413.18 110.33L413.32 113.65L413.45 116.55L413.59 118.94L413.72 120.71L413.85 121.8L413.99 122.17L414.12 121.8L414.26 120.71L414.39 118.94L414.53 116.55L414.66 113.65L414.79 110.33L414.93 106.74L415.06 103L415.2 99.26L415.33 95.67L415.47 92.35L415.6 89.45L415.73 87.06L415.87 85.29L416 84.2L416.14 83.83L416.27 84.2L416.41 85.29L416.54 87.06L416.67 89.45L416.81 92.35L416.94 95.67L417.08 99.26L417.21 103L417.35 106.74L417.48 110.33L417.61 113.65L417.75 116.55L417.88 118.94L418.02 120.71L418.15 121.8L418.29 122.17L418.42 121.8L418.55 120.71L418.69 118.94L418.82 116.55L418.96 113.65L419.09 110.33L419.23 106.74L419.36 103L419.49 99.26L419.63 95.67L419.76 92.35L419.9 89.45L420.03 87.06L420.17 85.29L420.3 84.2L420.43 83.83L420.57 84.2L420.7 85.29L420.84 87.06L420.97 89.45L421.1 92.35L421.24 95.67L421.37 99.26L421.51 103L421.64 106.74L421.78 110.33L421.91 113.65L422.04 116.55L422.18 118.94L422.31 120.71L422.45 121.8L422.58 122.17L422.72 121.8L422.85 120.71L422.98 118.94L423.12 116.55L423.25 113.65L423.39 110.33L423.52 106.74L423.66 103L423.79 99.26L423.92 95.67L424.06 92.35L424.19 89.45L424.33 87.06L424.46 85.29L424.6 84.2L424.73 83.83L424.86 84.2L425 85.29L425.13 87.06L425.27 89.45L425.4 92.35L425.54 95.67L425.67 99.26L425.8 103L425.94 106.74L426.07 110.33L426.21 113.65L426.34 116.55L426.48 118.94L426.61 120.71L426.74 121.8L426.88 122.17L427.01 121.8L427.15 120.71L427.28 118.94L427.42 116.55L427.55 113.65L427.68 110.33L427.82 106.74L427.95 103L428.09 99.26L428.22 95.67L428.36 92.35L428.49 89.45L428.62 87.06L428.76 85.29L428.89 84.2L429.03 83.83L429.16 84.2L429.3 85.29L429.43 87.06L429.56 89.45L429.7 92.35L429.83 95.67L429.97 99.26L430.1 103L430.24 106.74L430.37 110.33L430.5 113.65L430.64 116.55L430.77 118.94L430.91 120.71L431.04 121.8L431.18 122.17L431.31 121.8L431.44 120.71L431.58 118.94L431.71 116.55L431.85 113.65L431.98 110.33L432.12 106.74L432.25 103L432.38 99.26L432.52 95.67L432.65 92.35L432.79 89.45L432.92 87.06L433.06 85.29L433.19 84.2L433.32 83.83L433.46 84.2L433.59 85.29L433.73 87.06L433.86 89.45L434 92.35L434.13 95.67L434.26 99.26L434.4 103L434.53 106.74L434.67 110.33L434.8 113.65L434.94 116.55L435.07 118.94L435.2 120.71L435.34 121.8L435.47 122.17L435.61 121.8L435.74 120.71L435.88 118.94L436.01 116.55L436.14 113.65L436.28 110.33L436.41 106.74L436.55 103L436.68 99.26L436.82 95.67L436.95 92.35L437.08 89.45L437.22 87.06L437.35 85.29L437.49 84.2L437.62 83.83L437.76 84.2L437.89 85.29L438.02 87.06L438.16 89.45L438.29 92.35L438.43 95.67L438.56 99.26L438.7 103L438.83 106.74L438.96 110.33L439.1 113.65L439.23 116.55L439.37 118.94L439.5 120.71L439.64 121.8L439.77 122.17L439.9 121.8L440.04 120.71L440.17 118.94L440.31 116.55L440.44 113.65L440.58 110.33L440.71 106.74L440.84 103L440.98 99.26L441.11 95.67L441.25 92.35L441.38 89.45L441.52 87.06L441.65 85.29L441.78 84.2L441.92 83.83L442.05 84.2L442.19 85.29L442.32 87.06L442.46 89.45L442.59 92.35L442.72 95.67L442.86 99.26L442.99 103L443.13 106.74L443.26 110.33L443.4 113.65L443.53 116.55L443.66 118.94L443.8 120.71L443.93 121.8L444.07 122.17L444.2 121.8L444.33 120.71L444.47 118.94L444.6 116.55L444.74 113.65L444.87 110.33L445.01 106.74L445.14 103L445.27 99.26L445.41 95.67L445.54 92.35L445.68 89.45L445.81 87.06L445.95 85.29L446.08 84.2L446.21 83.83L446.35 84.2L446.48 85.29L446.62 87.06L446.75 89.45L446.89 92.35L447.02 95.67L447.15 99.26L447.29 103L447.42 106.74L447.56 110.33L447.69 113.65L447.83 116.55L447.96 118.94L448.09 120.71L448.23 121.8L448.36 122.17L448.5 121.8L448.63 120.71L448.77 118.94L448.9 116.55L449.03 113.65L449.17 110.33L449.3 106.74L449.44 103L449.57 99.26L449.71 95.67L449.84 92.35L449.97 89.45L450.11 87.06L450.24 85.29L450.38 84.2L450.51 83.83L450.65 84.2L450.78 85.29L450.91 87.06L451.05 89.45L451.18 92.35L451.32 95.67L451.45 99.26L451.59 103L451.72 106.74L451.85 110.33L451.99 113.65L452.12 116.55L452.26 118.94L452.39 120.71L452.53 121.8L452.66 122.17L452.79 121.8L452.93 120.71L453.06 118.94L453.2 116.55L453.33 113.65L453.47 110.33L453.6 106.74L453.73 103L453.87 99.26L454 95.67L454.14 92.35L454.27 89.45L454.41 87.06L454.54 85.29L454.67 84.2L454.81 83.83L454.94 84.2L455.08 85.29L455.21 87.06L455.35 89.45L455.48 92.35L455.61 95.67L455.75 99.26L455.88 103L456.02 106.74L456.15 110.33L456.29 113.65L456.42 116.55L456.55 118.94L456.69 120.71L456.82 121.8L456.96 122.17L457.09 121.8L457.23 120.71L457.36 118.94L457.49 116.55L457.63 113.65L457.76 110.33L457.9 106.74L458.03 103L458.17 99.26L458.3 95.67L458.43 92.35L458.57 89.45L458.7 87.06L458.84 85.29L458.97 84.2L459.11 83.83L459.24 84.2L459.37 85.29L459.51 87.06L459.64 89.45L459.78 92.35L459.91 95.67L460.05 99.26L460.18 103L460.31 106.74L460.45 110.33L460.58 113.65L460.72 116.55L460.85 118.94L460.99 120.71L461.12 121.8L461.25 122.17L461.39 121.8L461.52 120.71L461.66 118.94L461.79 116.55L461.93 113.65L462.06 110.33L462.19 106.74L462.33 103L462.46 99.26L462.6 95.67L462.73 92.35L462.87 89.45L463 87.06L463.13 85.29L463.27 84.2L463.4 83.83L463.54 84.2L463.67 85.29L463.81 87.06L463.94 89.45L464.07 92.35L464.21 95.67L464.34 99.26L464.48 103L464.61 106.74L464.75 110.33L464.88 113.65L465.01 116.55L465.15 118.94L465.28 120.71L465.42 121.8L465.55 122.17L465.69 121.8L465.82 120.71L465.95 118.94L466.09 116.55L466.22 113.65L466.36 110.33L466.49 106.74L466.62 103L466.76 99.26L466.89 95.67L467.03 92.35L467.16 89.45L467.3 87.06L467.43 85.29L467.56 84.2L467.7 83.83L467.83 84.2L467.97 85.29L468.1 87.06L468.24 89.45L468.37 92.35L468.5 95.67L468.64 99.26L468.77 103L468.91 106.74L469.04 110.33L469.18 113.65L469.31 116.55L469.44 118.94L469.58 120.71L469.71 121.8L469.85 122.17L469.98 121.8L470.12 120.71L470.25 118.94L470.38 116.55L470.52 113.65L470.65 110.33L470.79 106.74L470.92 103L471.06 99.26L471.19 95.67L471.32 92.35L471.46 89.45L471.59 87.06L471.73 85.29L471.86 84.2L472 83.83L472.13 84.2L472.26 85.29L472.4 87.06L472.53 89.45L472.67 92.35L472.8 95.67L472.94 99.26L473.07 103L473.2 106.74L473.34 110.33L473.47 113.65L473.61 116.55L473.74 118.94L473.88 120.71L474.01 121.8L474.14 122.17L474.28 121.8L474.41 120.71L474.55 118.94L474.68 116.55L474.82 113.65L474.95 110.33L475.08 106.74L475.22 103L475.35 99.26L475.49 95.67L475.62 92.35L475.76 89.45L475.89 87.06L476.02 85.29L476.16 84.2L476.29 83.83L476.43 84.2L476.56 85.29L476.7 87.06L476.83 89.45L476.96 92.35L477.1 95.67L477.23 99.26L477.37 103L477.5 106.74L477.64 110.33L477.77 113.65L477.9 116.55L478.04 118.94L478.17 120.71L478.31 121.8L478.44 122.17L478.58 121.8L478.71 120.71L478.84 118.94L478.98 116.55L479.11 113.65L479.25 110.33L479.38 106.74L479.52 103L479.65 99.26L479.78 95.67L479.92 92.35L480.05 89.45L480.19 87.06L480.32 85.29L480.46 84.2L480.59 83.83L480.72 84.2L480.86 85.29L480.99 87.06L481.13 89.45L481.26 92.35L481.4 95.67L481.53 99.26L481.66 103L481.8 106.74L481.93 110.33L482.07 113.65L482.2 116.55L482.34 118.94L482.47 120.71L482.6 121.8L482.74 122.17L482.87 121.8L483.01 120.71L483.14 118.94L483.28 116.55L483.41 113.65L483.54 110.33L483.68 106.74L483.81 103L483.95 99.26L484.08 95.67L484.22 92.35L484.35 89.45L484.48 87.06L484.62 85.29L484.75 84.2L484.89 83.83L485.02 84.2L485.16 85.29L485.29 87.06L485.42 89.45L485.56 92.35L485.69 95.67L485.83 99.26L485.96 103L486.1 106.74L486.23 110.33L486.36 113.65L486.5 116.55L486.63 118.94L486.77 120.71L486.9 121.8L487.04 122.17L487.17 121.8L487.3 120.71L487.44 118.94L487.57 116.55L487.71 113.65L487.84 110.33L487.98 106.74L488.11 103L488.24 99.26L488.38 95.67L488.51 92.35L488.65 89.45L488.78 87.06L488.92 85.29L489.05 84.2L489.18 83.83L489.32 84.2L489.45 85.29L489.59 87.06L489.72 89.45L489.85 92.35L489.99 95.67L490.12 99.26L490.26 103L490.39 106.74L490.53 110.33L490.66 113.65L490.79 116.55L490.93 118.94L491.06 120.71L491.2 121.8L491.33 122.17L491.47 121.8L491.6 120.71L491.73 118.94L491.87 116.55L492 113.65L492.14 110.33L492.27 106.74L492.41 103L492.54 99.26L492.67 95.67L492.81 92.35L492.94 89.45L493.08 87.06L493.21 85.29L493.35 84.2L493.48 83.83L493.61 84.2L493.75 85.29L493.88 87.06L494.02 89.45L494.15 92.35L494.29 95.67L494.42 99.26L494.55 103L494.69 106.74L494.82 110.33L494.96 113.65L495.09 116.55L495.23 118.94L495.36 120.71L495.49 121.8L495.63 122.17L495.76 121.8L495.9 120.71L496.03 118.94L496.17 116.55L496.3 113.65L496.43 110.33L496.57 106.74L496.7 103L496.84 99.26L496.97 95.67L497.11 92.35L497.24 89.45L497.37 87.06L497.51 85.29L497.64 84.2L497.78 83.83L497.91 84.2L498.05 85.29L498.18 87.06L498.31 89.45L498.45 92.35L498.58 95.67L498.72 99.26L498.85 103L498.99 106.74L499.12 110.33L499.25 113.65L499.39 116.55L499.52 118.94L499.66 120.71L499.79 121.8L499.93 122.17L500.06 121.8L500.19 120.71L500.33 118.94L500.46 116.55L500.6 113.65L500.73 110.33L500.87 106.74L501 103L501.13 99.26L501.27 95.67L501.4 92.35L501.54 89.45L501.67 87.06L501.81 85.29L501.94 84.2L502.07 83.83L502.21 84.2L502.34 85.29L502.48 87.06L502.61 89.45L502.75 92.35L502.88 95.67L503.01 99.26L503.15 103L503.28 106.74L503.42 110.33L503.55 113.65L503.69 116.55L503.82 118.94L503.95 120.71L504.09 121.8L504.22 122.17L504.36 121.8L504.49 120.71L504.63 118.94L504.76 116.55L504.89 113.65L505.03 110.33L505.16 106.74L505.3 103L505.43 99.26L505.57 95.67L505.7 92.35L505.83 89.45L505.97 87.06L506.1 85.29L506.24 84.2L506.37 83.83L506.51 84.2L506.64 85.29L506.77 87.06L506.91 89.45L507.04 92.35L507.18 95.67L507.31 99.26L507.45 103L507.58 106.74L507.71 110.33L507.85 113.65L507.98 116.55L508.12 118.94L508.25 120.71L508.39 121.8L508.52 122.17L508.65 121.8L508.79 120.71L508.92 118.94L509.06 116.55L509.19 113.65L509.33 110.33L509.46 106.74L509.59 103L509.73 99.26L509.86 95.67L510 92.35L510.13 89.45L510.27 87.06L510.4 85.29L510.53 84.2L510.67 83.83L510.8 84.2L510.94 85.29L511.07 87.06L511.21 89.45L511.34 92.35L511.47 95.67L511.61 99.26L511.74 103L511.88 106.74L512.01 110.33L512.15 113.65L512.28 116.55L512.41 118.94L512.55 120.71L512.68 121.8L512.82 122.17L512.95 121.8L513.08 120.71L513.22 118.94L513.35 116.55L513.49 113.65L513.62 110.33L513.76 106.74L513.89 103L514.02 99.26L514.16 95.67L514.29 92.35L514.43 89.45L514.56 87.06L514.7 85.29L514.83 84.2L514.96 83.83L515.1 84.2L515.23 85.29L515.37 87.06L515.5 89.45L515.64 92.35L515.77 95.67L515.9 99.26L516.04 103L516.17 106.74L516.31 110.33L516.44 113.65L516.58 116.55L516.71 118.94L516.84 120.71L516.98 121.8L517.11 122.17L517.25 121.8L517.38 120.71L517.52 118.94L517.65 116.55L517.78 113.65L517.92 110.33L518.05 106.74L518.19 103L518.32 99.26L518.46 95.67L518.59 92.35L518.72 89.45L518.86 87.06L518.99 85.29L519.13 84.2L519.26 83.83L519.4 84.2L519.53 85.29L519.66 87.06L519.8 89.45L519.93 92.35L520.07 95.67L520.2 99.26L520.34 103L520.47 106.74L520.6 110.33L520.74 113.65L520.87 116.55L521.01 118.94L521.14 120.71L521.28 121.8L521.41 122.17L521.54 121.8L521.68 120.71L521.81 118.94L521.95 116.55L522.08 113.65L522.22 110.33L522.35 106.74L522.48 103L522.62 99.26L522.75 95.67L522.89 92.35L523.02 89.45L523.16 87.06L523.29 85.29L523.42 84.2L523.56 83.83L523.69 84.2L523.83 85.29L523.96 87.06L524.1 89.45L524.23 92.35L524.36 95.67L524.5 99.26L524.63 103L524.77 106.74L524.9 110.33L525.04 113.65L525.17 116.55L525.3 118.94L525.44 120.71L525.57 121.8L525.71 122.17L525.84 121.8L525.98 120.71L526.11 118.94L526.24 116.55L526.38 113.65L526.51 110.33L526.65 106.74L526.78 103L526.92 99.26L527.05 95.67L527.18 92.35L527.32 89.45L527.45 87.06L527.59 85.29L527.72 84.2L527.86 83.83L527.99 84.2L528.12 85.29L528.26 87.06L528.39 89.45L528.53 92.35L528.66 95.67L528.8 99.26L528.93 103L529.06 106.74L529.2 110.33L529.33 113.65L529.47 116.55L529.6 118.94L529.74 120.71L529.87 121.8L530 122.17L530.14 121.8L530.27 120.71L530.41 118.94L530.54 116.55L530.68 113.65L530.81 110.33L530.94 106.74L531.08 103L531.21 99.26L531.35 95.67L531.48 92.35L531.62 89.45L531.75 87.06L531.88 85.29L532.02 84.2L532.15 83.83L532.29 84.2L532.42 85.29L532.56 87.06L532.69 89.45L532.82 92.35L532.96 95.67L533.09 99.26L533.23 103L533.36 106.74L533.5 110.33L533.63 113.65L533.76 116.55L533.9 118.94L534.03 120.71L534.17 121.8L534.3 122.17L534.44 121.8L534.57 120.71L534.7 118.94L534.84 116.55L534.97 113.65L535.11 110.33L535.24 106.74L535.38 103L535.51 99.26L535.64 95.67L535.78 92.35L535.91 89.45L536.05 87.06L536.18 85.29L536.31 84.2L536.45 83.83L536.58 84.2L536.72 85.29L536.85 87.06L536.99 89.45L537.12 92.35L537.25 95.67L537.39 99.26L537.52 103L537.66 106.74L537.79 110.33L537.93 113.65L538.06 116.55L538.19 118.94L538.33 120.71L538.46 121.8L538.6 122.17L538.73 121.8L538.87 120.71L539 118.94L539.13 116.55L539.27 113.65L539.4 110.33L539.54 106.74L539.67 103L539.81 99.26L539.94 95.67L540.07 92.35L540.21 89.45L540.34 87.06L540.48 85.29L540.61 84.2L540.75 83.83L540.88 84.2L541.01 85.29L541.15 87.06L541.28 89.45L541.42 92.35L541.55 95.67L541.69 99.26L541.82 103L541.95 106.74L542.09 110.33L542.22 113.65L542.36 116.55L542.49 118.94L542.63 120.71L542.76 121.8L542.89 122.17L543.03 121.8L543.16 120.71L543.3 118.94L543.43 116.55L543.57 113.65L543.7 110.33L543.83 106.74L543.97 103L544.1 99.26L544.24 95.67L544.37 92.35L544.51 89.45L544.64 87.06L544.77 85.29L544.91 84.2L545.04 83.83L545.18 84.2L545.31 85.29L545.45 87.06L545.58 89.45L545.71 92.35L545.85 95.67L545.98 99.26L546.12 103L546.25 106.74L546.39 110.33L546.52 113.65L546.65 116.55L546.79 118.94L546.92 120.71L547.06 121.8L547.19 122.17L547.33 121.8L547.46 120.71L547.59 118.94L547.73 116.55L547.86 113.65L548 110.33L548.13 106.74L548.27 103L548.4 99.26L548.53 95.67L548.67 92.35L548.8 89.45L548.94 87.06L549.07 85.29L549.21 84.2L549.34 83.83L549.47 84.2L549.61 85.29L549.74 87.06L549.88 89.45L550.01 92.35L550.15 95.67L550.28 99.26L550.41 103L550.55 106.74L550.68 110.33L550.82 113.65L550.95 116.55L551.09 118.94L551.22 120.71L551.35 121.8L551.49 122.17L551.62 121.8L551.76 120.71L551.89 118.94L552.03 116.55L552.16 113.65L552.29 110.33L552.43 106.74L552.56 103L552.7 99.26L552.83 95.67L552.97 92.35L553.1 89.45L553.23 87.06L553.37 85.29L553.5 84.2L553.64 83.83L553.77 84.2L553.91 85.29L554.04 87.06L554.17 89.45L554.31 92.35L554.44 95.67L554.58 99.26L554.71 103L554.85 106.74L554.98 110.33L555.11 113.65L555.25 116.55L555.38 118.94L555.52 120.71L555.65 121.8L555.79 122.17L555.92 121.8L556.05 120.71L556.19 118.94L556.32 116.55L556.46 113.65L556.59 110.33L556.73 106.74L556.86 103L556.99 99.26L557.13 95.67L557.26 92.35L557.4 89.45L557.53 87.06L557.67 85.29L557.8 84.2L557.93 83.83L558.07 84.2L558.2 85.29L558.34 87.06L558.47 89.45L558.6 92.35L558.74 95.67L558.87 99.26L559.01 103L559.14 106.74L559.28 110.33L559.41 113.65L559.54 116.55L559.68 118.94L559.81 120.71L559.95 121.8L560.08 122.17L560.22 121.8L560.35 120.71L560.48 118.94L560.62 116.55L560.75 113.65L560.89 110.33L561.02 106.74L561.16 103L561.29 99.26L561.42 95.67L561.56 92.35L561.69 89.45L561.83 87.06L561.96 85.29L562.1 84.2L562.23 83.83L562.36 84.2L562.5 85.29L562.63 87.06L562.77 89.45L562.9 92.35L563.04 95.67L563.17 99.26L563.3 103L563.44 106.74L563.57 110.33L563.71 113.65L563.84 116.55L563.98 118.94L564.11 120.71L564.24 121.8L564.38 122.17L564.51 121.8L564.65 120.71L564.78 118.94L564.92 116.55L565.05 113.65L565.18 110.33L565.32 106.74L565.45 103L565.59 99.26L565.72 95.67L565.86 92.35L565.99 89.45L566.12 87.06L566.26 85.29L566.39 84.2L566.53 83.83L566.66 84.2L566.8 85.29L566.93 87.06L567.06 89.45L567.2 92.35L567.33 95.67L567.47 99.26L567.6 103L567.74 106.74L567.87 110.33L568 113.65L568.14 116.55L568.27 118.94L568.41 120.71L568.54 121.8L568.68 122.17L568.81 121.8L568.94 120.71L569.08 118.94L569.21 116.55L569.35 113.65L569.48 110.33L569.62 106.74L569.75 103L569.88 99.26L570.02 95.67L570.15 92.35L570.29 89.45L570.42 87.06L570.56 85.29L570.69 84.2L570.82 83.83L570.96 84.2L571.09 85.29L571.23 87.06L571.36 89.45L571.5 92.35L571.63 95.67L571.76 99.26L571.9 103L572.03 106.74L572.17 110.33L572.3 113.65L572.44 116.55L572.57 118.94L572.7 120.71L572.84 121.8L572.97 122.17L573.11 121.8L573.24 120.71L573.38 118.94L573.51 116.55L573.64 113.65L573.78 110.33L573.91 106.74L574.05 103L574.18 99.26L574.32 95.67L574.45 92.35L574.58 89.45L574.72 87.06L574.85 85.29L574.99 84.2L575.12 83.83L575.26 84.2L575.39 85.29L575.52 87.06L575.66 89.45L575.79 92.35L575.93 95.67L576.06 99.26L576.2 103L576.33 106.74L576.46 110.33L576.6 113.65L576.73 116.55L576.87 118.94L577 120.71L577.14 121.8L577.27 122.17L577.4 121.8L577.54 120.71L577.67 118.94L577.81 116.55L577.94 113.65L578.08 110.33L578.21 106.74L578.34 103L578.48 99.26L578.61 95.67L578.75 92.35L578.88 89.45L579.02 87.06L579.15 85.29L579.28 84.2L579.42 83.83L579.55 84.2L579.69 85.29L579.82 87.06L579.96 89.45L580.09 92.35L580.22 95.67L580.36 99.26L580.49 103L580.63 106.74L580.76 110.33L580.9 113.65L581.03 116.55L581.16 118.94L581.3 120.71L581.43 121.8L581.57 122.17L581.7 121.8L581.83 120.71L581.97 118.94L582.1 116.55L582.24 113.65L582.37 110.33L582.51 106.74L582.64 103L582.77 99.26L582.91 95.67L583.04 92.35L583.18 89.45L583.31 87.06L583.45 85.29L583.58 84.2L583.71 83.83L583.85 84.2L583.98 85.29L584.12 87.06L584.25 89.45L584.39 92.35L584.52 95.67L584.65 99.26L584.79 103L584.92 106.74L585.06 110.33L585.19 113.65L585.33 116.55L585.46 118.94L585.59 120.71L585.73 121.8L585.86 122.17L586 121.8L586.13 120.71L586.27 118.94L586.4 116.55L586.53 113.65L586.67 110.33L586.8 106.74L586.94 103L587.07 99.26L587.21 95.67L587.34 92.35L587.47 89.45L587.61 87.06L587.74 85.29L587.88 84.2L588.01 83.83L588.15 84.2L588.28 85.29L588.41 87.06L588.55 89.45L588.68 92.35L588.82 95.67L588.95 99.26L589.09 103L589.22 106.74L589.35 110.33L589.49 113.65L589.62 116.55L589.76 118.94L589.89 120.71L590.03 121.8L590.16 122.17L590.29 121.8L590.43 120.71L590.56 118.94L590.7 116.55L590.83 113.65L590.97 110.33L591.1 106.74L591.23 103L591.37 99.26L591.5 95.67L591.64 92.35L591.77 89.45L591.91 87.06L592.04 85.29L592.17 84.2L592.31 83.83L592.44 84.2L592.58 85.29L592.71 87.06L592.85 89.45L592.98 92.35L593.11 95.67L593.25 99.26L593.38 103L593.52 106.74L593.65 110.33L593.79 113.65L593.92 116.55L594.05 118.94L594.19 120.71L594.32 121.8L594.46 122.17L594.59 121.8L594.73 120.71L594.86 118.94L594.99 116.55L595.13 113.65L595.26 110.33L595.4 106.74L595.53 103L595.67 99.26L595.8 95.67L595.93 92.35L596.07 89.45L596.2 87.06L596.34 85.29L596.47 84.2L596.61 83.83L596.74 84.2L596.87 85.29L597.01 87.06L597.14 89.45L597.28 92.35L597.41 95.67L597.55 99.26L597.68 103L597.81 106.74L597.95 110.33L598.08 113.65L598.22 116.55L598.35 118.94L598.49 120.71L598.62 121.8L598.75 122.17L598.89 121.8L599.02 120.71L599.16 118.94L599.29 116.55L599.43 113.65L599.56 110.33L599.69 106.74L599.83 103L599.96 99.26L600.1 95.67L600.23 92.35L600.37 89.45L600.5 87.06L600.63 85.29L600.77 84.2L600.9 83.83L601.04 84.2L601.17 85.29L601.31 87.06L601.44 89.45L601.57 92.35L601.71 95.67L601.84 99.26L601.98 103L602.11 106.74L602.25 110.33L602.38 113.65L602.51 116.55L602.65 118.94L602.78 120.71L602.92 121.8L603.05 122.17L603.19 121.8L603.32 120.71L603.45 118.94L603.59 116.55L603.72 113.65L603.86 110.33L603.99 106.74L604.12 103L604.26 99.26L604.39 95.67L604.53 92.35L604.66 89.45L604.8 87.06L604.93 85.29L605.06 84.2L605.2 83.83L605.33 84.2L605.47 85.29L605.6 87.06L605.74 89.45L605.87 92.35L606 95.67L606.14 99.26L606.27 103L606.41 106.74L606.54 110.33L606.68 113.65L606.81 116.55L606.94 118.94L607.08 120.71L607.21 121.8L607.35 122.17L607.48 121.8L607.62 120.71L607.75 118.94L607.88 116.55L608.02 113.65L608.15 110.33L608.29 106.74L608.42 103L608.56 99.26L608.69 95.67L608.82 92.35L608.96 89.45L609.09 87.06L609.23 85.29L609.36 84.2L609.5 83.83L609.63 84.2L609.76 85.29L609.9 87.06L610.03 89.45L610.17 92.35L610.3 95.67L610.44 99.26L610.57 103L610.7 106.74L610.84 110.33L610.97 113.65L611.11 116.55L611.24 118.94L611.38 120.71L611.51 121.8L611.64 122.17L611.78 121.8L611.91 120.71L612.05 118.94L612.18 116.55L612.32 113.65L612.45 110.33L612.58 106.74L612.72 103L612.85 99.26L612.99 95.67L613.12 92.35L613.26 89.45L613.39 87.06L613.52 85.29L613.66 84.2L613.79 83.83L613.93 84.2L614.06 85.29L614.2 87.06L614.33 89.45L614.46 92.35L614.6 95.67L614.73 99.26L614.87 103L615 106.74L615.14 110.33L615.27 113.65L615.4 116.55L615.54 118.94L615.67 120.71L615.81 121.8L615.94 122.17L616.08 121.8L616.21 120.71L616.34 118.94L616.48 116.55L616.61 113.65L616.75 110.33L616.88 106.74L617.02 103L617.15 99.26L617.28 95.67L617.42 92.35L617.55 89.45L617.69 87.06L617.82 85.29L617.96 84.2L618.09 83.83L618.22 84.2L618.36 85.29L618.49 87.06L618.63 89.45L618.76 92.35L618.9 95.67L619.03 99.26L619.16 103L619.3 106.74L619.43 110.33L619.57 113.65L619.7 116.55L619.84 118.94L619.97 120.71L620.1 121.8L620.24 122.17L620.37 121.8L620.51 120.71L620.64 118.94L620.78 116.55L620.91 113.65L621.04 110.33L621.18 106.74L621.31 103L621.45 99.26L621.58 95.67L621.72 92.35L621.85 89.45L621.98 87.06L622.12 85.29L622.25 84.2L622.39 83.83L622.52 84.2L622.66 85.29L622.79 87.06L622.92 89.45L623.06 92.35L623.19 95.67L623.33 99.26L623.46 103L623.6 106.74L623.73 110.33L623.86 113.65L624 116.55L624.13 118.94L624.27 120.71L624.4 121.8L624.54 122.17L624.67 121.8L624.8 120.71L624.94 118.94L625.07 116.55L625.21 113.65L625.34 110.33L625.48 106.74L625.61 103L625.74 99.26L625.88 95.67L626.01 92.35L626.15 89.45L626.28 87.06L626.42 85.29L626.55 84.2L626.68 83.83L626.82 84.2L626.95 85.29L627.09 87.06L627.22 89.45L627.35 92.35L627.49 95.67L627.62 99.26L627.76 103L627.89 106.74L628.03 110.33L628.16 113.65L628.29 116.55L628.43 118.94L628.56 120.71L628.7 121.8L628.83 122.17L628.97 121.8L629.1 120.71L629.23 118.94L629.37 116.55L629.5 113.65L629.64 110.33L629.77 106.74L629.91 103L630.04 99.26L630.17 95.67L630.31 92.35L630.44 89.45L630.58 87.06L630.71 85.29L630.85 84.2L630.98 83.83L631.11 84.2L631.25 85.29L631.38 87.06L631.52 89.45L631.65 92.35L631.79 95.67L631.92 99.26L632.05 103L632.19 106.74L632.32 110.33L632.46 113.65L632.59 116.55L632.73 118.94L632.86 120.71L632.99 121.8L633.13 122.17L633.26 121.8L633.4 120.71L633.53 118.94L633.67 116.55L633.8 113.65L633.93 110.33L634.07 106.74L634.2 103L634.34 99.26L634.47 95.67L634.61 92.35L634.74 89.45L634.87 87.06L635.01 85.29L635.14 84.2L635.28 83.83L635.41 84.2L635.55 85.29L635.68 87.06L635.81 89.45L635.95 92.35L636.08 95.67L636.22 99.26L636.35 103L636.49 106.74L636.62 110.33L636.75 113.65L636.89 116.55L637.02 118.94L637.16 120.71L637.29 121.8L637.43 122.17L637.56 121.8L637.69 120.71L637.83 118.94L637.96 116.55L638.1 113.65L638.23 110.33L638.37 106.74" fill="none" stroke="#0b86d0" stroke-width="1.3" stroke-linejoin="round" clip-path="url(#ct2)"/><text transform="translate(362.3 35.0) scale(1 1.05)" font-size="17" font-weight="bold" fill="#000" text-anchor="middle">Waveform Sample</text><text class="e" x="363" y="205.6" font-size="17" fill="#262626" color="#262626" text-anchor="middle">Time Bin (a.u.)</text><text class="e" transform="translate(40.8 105.8) rotate(-90)" font-size="17.2" fill="#262626" color="#262626" text-anchor="middle">Amplitude (V)</text><rect x="460" y="53.4" width="164.8" height="21.9" fill="#fff" stroke="#262626" stroke-width="1"/><path d="M465 64.5H515.5" stroke="#0b86d0" stroke-width="1.5"/><text class="e" x="518.3" y="68.3" font-size="13" fill="#000" color="#000">8 kHz Sine Wave</text><rect x="89.0" y="254.0" width="550.0" height="437.0" fill="#fff"/><path d="M89 691V685.5M89 254V259.5M223.28 691V685.5M223.28 254V259.5M357.55 691V685.5M357.55 254V259.5M491.83 691V685.5M491.83 254V259.5M626.11 691V685.5M626.11 254V259.5M89 691H94.5M639 691H633.5M89 636.38H94.5M639 636.38H633.5M89 581.75H94.5M639 581.75H633.5M89 527.12H94.5M639 527.12H633.5M89 472.5H94.5M639 472.5H633.5M89 417.88H94.5M639 417.88H633.5M89 363.25H94.5M639 363.25H633.5M89 308.62H94.5M639 308.62H633.5M89 254H94.5M639 254H633.5" stroke="#262626" stroke-width="1" fill="none"/><rect x="89.0" y="254.0" width="550.0" height="437.0" fill="none" stroke="#262626" stroke-width="1"/><text class="e" transform="translate(89 710.4) scale(1 1.07)" font-size="13.7" fill="#262626" color="#262626" text-anchor="middle">0</text><text class="e" transform="translate(223.28 710.4) scale(1 1.07)" font-size="13.7" fill="#262626" color="#262626" text-anchor="middle">500</text><text class="e" transform="translate(357.55 710.4) scale(1 1.07)" font-size="13.7" fill="#262626" color="#262626" text-anchor="middle">1000</text><text class="e" transform="translate(491.83 710.4) scale(1 1.07)" font-size="13.7" fill="#262626" color="#262626" text-anchor="middle">1500</text><text class="e" transform="translate(626.11 710.4) scale(1 1.07)" font-size="13.7" fill="#262626" color="#262626" text-anchor="middle">2000</text><text class="e" transform="translate(83 694.59) scale(1 1.07)" font-size="13.7" fill="#262626" color="#262626" text-anchor="end"><tspan font-size="16.5" dy="0.8">−</tspan><tspan dx="1.6" dy="-0.8">140</tspan></text><text class="e" transform="translate(83 641.56) scale(1 1.07)" font-size="13.7" fill="#262626" color="#262626" text-anchor="end"><tspan font-size="16.5" dy="0.8">−</tspan><tspan dx="1.6" dy="-0.8">120</tspan></text><text class="e" transform="translate(83 586.94) scale(1 1.07)" font-size="13.7" fill="#262626" color="#262626" text-anchor="end"><tspan font-size="16.5" dy="0.8">−</tspan><tspan dx="1.6" dy="-0.8">100</tspan></text><text class="e" transform="translate(83 532.31) scale(1 1.07)" font-size="13.7" fill="#262626" color="#262626" text-anchor="end"><tspan font-size="16.5" dy="0.8">−</tspan><tspan dx="1.6" dy="-0.8">80</tspan></text><text class="e" transform="translate(83 477.69) scale(1 1.07)" font-size="13.7" fill="#262626" color="#262626" text-anchor="end"><tspan font-size="16.5" dy="0.8">−</tspan><tspan dx="1.6" dy="-0.8">60</tspan></text><text class="e" transform="translate(83 423.06) scale(1 1.07)" font-size="13.7" fill="#262626" color="#262626" text-anchor="end"><tspan font-size="16.5" dy="0.8">−</tspan><tspan dx="1.6" dy="-0.8">40</tspan></text><text class="e" transform="translate(83 368.44) scale(1 1.07)" font-size="13.7" fill="#262626" color="#262626" text-anchor="end"><tspan font-size="16.5" dy="0.8">−</tspan><tspan dx="1.6" dy="-0.8">20</tspan></text><text class="e" transform="translate(83 313.81) scale(1 1.07)" font-size="13.7" fill="#262626" color="#262626" text-anchor="end">0</text><text class="e" transform="translate(83 259.19) scale(1 1.07)" font-size="13.7" fill="#262626" color="#262626" text-anchor="end">20</text><g clip-path="url(#cb2)"><path d="M89 450.65L89.27 434.4L89.54 434.41L89.81 434.41L90.07 434.4L90.34 434.4L90.61 434.37L90.88 434.32L91.15 434.31L91.42 434.28L91.69 434.29L91.95 434.25L92.22 434.21L92.49 434.16L92.76 434.12L93.03 434.08L93.3 434.03L93.57 433.98L93.83 433.92L94.1 433.9L94.37 433.83L94.64 433.74L94.91 433.68L95.18 433.63L95.45 433.56L95.71 433.47L95.98 433.41L96.25 433.32L96.52 433.26L96.79 433.16L97.06 433.05L97.33 432.97L97.59 432.86L97.86 432.76L98.13 432.67L98.4 432.56L98.67 432.44L98.94 432.31L99.21 432.21L99.47 432.07L99.74 431.96L100.01 431.82L100.28 431.7L100.55 431.54L100.82 431.41L101.08 431.26L101.35 431.1L101.62 430.95L101.89 430.79L102.16 430.61L102.43 430.43L102.7 430.27L102.96 430.1L103.23 429.92L103.5 429.72L103.77 429.52L104.04 429.31L104.31 429.12L104.58 428.91L104.84 428.69L105.11 428.46L105.38 428.23L105.65 428L105.92 427.76L106.19 427.5L106.46 427.26L106.72 426.98L106.99 426.73L107.26 426.47L107.53 426.16L107.8 425.87L108.07 425.59L108.34 425.28L108.6 424.96L108.87 424.65L109.14 424.32L109.41 423.98L109.68 423.63L109.95 423.27L110.22 422.88L110.48 422.53L110.75 422.12L111.02 421.73L111.29 421.32L111.56 420.88L111.83 420.45L112.1 420L112.36 419.53L112.63 419.04L112.9 418.55L113.17 418.02L113.44 417.49L113.71 416.93L113.98 416.36L114.24 415.78L114.51 415.17L114.78 414.53L115.05 413.87L115.32 413.17L115.59 412.47L115.86 411.72L116.12 410.95L116.39 410.14L116.66 409.29L116.93 408.4L117.2 407.48L117.47 406.5L117.74 405.47L118 404.38L118.27 403.23L118.54 402.02L118.81 400.72L119.08 399.33L119.35 397.85L119.62 396.25L119.88 394.52L120.15 392.64L120.42 390.58L120.69 388.3L120.96 385.76L121.23 382.89L121.5 379.59L121.76 375.72L122.03 371.06L122.3 365.19L122.57 357.31L122.84 345.29L123.11 319.38L123.38 319.29L123.64 345.51L123.91 357.73L124.18 365.81L124.45 371.86L124.72 376.72L124.99 380.77L125.25 384.26L125.52 387.31L125.79 390.04L126.06 392.5L126.33 394.75L126.6 396.82L126.87 398.73L127.13 400.52L127.4 402.18L127.67 403.76L127.94 405.23L128.21 406.63L128.48 407.98L128.75 409.24L129.01 410.45L129.28 411.62L129.55 412.74L129.82 413.81L130.09 414.84L130.36 415.84L130.63 416.8L130.89 417.73L131.16 418.64L131.43 419.5L131.7 420.36L131.97 421.17L132.24 421.97L132.51 422.75L132.77 423.5L133.04 424.25L133.31 424.98L133.58 425.68L133.85 426.36L134.12 427.04L134.39 427.7L134.65 428.35L134.92 428.98L135.19 429.58L135.46 430.2L135.73 430.78L136 431.35L136.27 431.95L136.53 432.5L136.8 433.06L137.07 433.6L137.34 434.12L137.61 434.64L137.88 435.16L138.15 435.66L138.41 436.15L138.68 436.64L138.95 437.15L139.22 437.6L139.49 438.1L139.76 438.55L140.03 439.04L140.29 439.45L140.56 439.9L140.83 440.34L141.1 440.74L141.37 441.18L141.64 441.6L141.91 442.02L142.17 442.43L142.44 442.83L142.71 443.27L142.98 443.67L143.25 443.99L143.52 444.44L143.79 444.8L144.05 445.18L144.32 445.56L144.59 445.93L144.86 446.29L145.13 446.66L145.4 447L145.67 447.34L145.93 447.73L146.2 448.08L146.47 448.39L146.74 448.75L147.01 449.05L147.28 449.42L147.54 449.73L147.81 450.04L148.08 450.4L148.35 450.72L148.62 451.05L148.89 451.37L149.16 451.71L149.42 451.96L149.69 452.29L149.96 452.55L150.23 452.9L150.5 453.23L150.77 453.48L151.04 453.72L151.3 454.07L151.57 454.35L151.84 454.62L152.11 454.95L152.38 455.23L152.65 455.47L152.92 455.76L153.18 456.07L153.45 456.37L153.72 456.57L153.99 456.93L154.26 457.14L154.53 457.36L154.8 457.72L155.06 457.94L155.33 458.17L155.6 458.43L155.87 458.73L156.14 458.92L156.41 459.26L156.68 459.43L156.94 459.7L157.21 459.98L157.48 460.26L157.75 460.48L158.02 460.65L158.29 460.95L158.56 461.17L158.82 461.43L159.09 461.67L159.36 461.92L159.63 462.06L159.9 462.33L160.17 462.52L160.44 462.79L160.7 463.01L160.97 463.27L161.24 463.58L161.51 463.76L161.78 464.03L162.05 464.21L162.32 464.39L162.58 464.64L162.85 464.84L163.12 465.07L163.39 465.31L163.66 465.46L163.93 465.73L164.2 465.88L164.46 466.07L164.73 466.37L165 466.48L165.27 466.79L165.54 466.92L165.81 467.22L166.08 467.44L166.34 467.47L166.61 467.71L166.88 468.07L167.15 468.26L167.42 468.4L167.69 468.51L167.96 468.77L168.22 469.05L168.49 469.24L168.76 469.37L169.03 469.6L169.3 469.68L169.57 469.97L169.83 470.14L170.1 470.42L170.37 470.54L170.64 470.6L170.91 470.91L171.18 471.08L171.45 471.17L171.71 471.51L171.98 471.56L172.25 471.79L172.52 471.98L172.79 472.1L173.06 472.38L173.33 472.49L173.59 472.7L173.86 472.88L174.13 473.1L174.4 473.22L174.67 473.34L174.94 473.61L175.21 473.79L175.47 473.96L175.74 474.17L176.01 474.21L176.28 474.51L176.55 474.69L176.82 474.78L177.09 474.89L177.35 475.04L177.62 475.2L177.89 475.49L178.16 475.65L178.43 475.7L178.7 475.99L178.97 476.09L179.23 476.34L179.5 476.53L179.77 476.49L180.04 476.68L180.31 476.98L180.58 477.13L180.85 477.19L181.11 477.32L181.38 477.49L181.65 477.74L181.92 477.94L182.19 477.93L182.46 478.19L182.73 478.28L182.99 478.39L183.26 478.56L183.53 478.72L183.8 478.83L184.07 479.03L184.34 479.26L184.61 479.31L184.87 479.54L185.14 479.59L185.41 479.79L185.68 479.86L185.95 480.17L186.22 480.34L186.49 480.28L186.75 480.65L187.02 480.77L187.29 480.82L187.56 480.97L187.83 481.18L188.1 481.36L188.37 481.44L188.63 481.5L188.9 481.71L189.17 481.91L189.44 482.09L189.71 482.17L189.98 482.55L190.25 482.42L190.51 482.56L190.78 482.71L191.05 482.66L191.32 482.89L191.59 483.2L191.86 483.24L192.12 483.42L192.39 483.58L192.66 483.79L192.93 483.79L193.2 483.73L193.47 484.02L193.74 484.26L194 484.49L194.27 484.6L194.54 484.85L194.81 484.83L195.08 484.83L195.35 484.93L195.62 485.04L195.88 485.2L196.15 485.38L196.42 485.46L196.69 485.67L196.96 485.84L197.23 485.77L197.5 486.15L197.76 486.02L198.03 486.17L198.3 486.49L198.57 486.65L198.84 486.49L199.11 486.74L199.38 486.86L199.64 486.82L199.91 487.16L200.18 487.27L200.45 487.36L200.72 487.6L200.99 487.68L201.26 487.76L201.52 487.7L201.79 488.09L202.06 487.85L202.33 488.29L202.6 488.34L202.87 488.57L203.14 488.76L203.4 488.66L203.67 488.94L203.94 489L204.21 489.09L204.48 489.09L204.75 489.5L205.02 489.45L205.28 489.42L205.55 489.72L205.82 489.67L206.09 489.95L206.36 490.12L206.63 490.19L206.9 489.97L207.16 490.33L207.43 490.39L207.7 490.62L207.97 490.7L208.24 490.76L208.51 491.03L208.78 491.12L209.04 491.04L209.31 491.14L209.58 491.5L209.85 491.77L210.12 491.63L210.39 491.85L210.66 491.86L210.92 491.66L211.19 492.03L211.46 492.06L211.73 492.15L212 492.29L212.27 492.35L212.54 492.49L212.8 492.72L213.07 492.73L213.34 493.13L213.61 492.98L213.88 493.1L214.15 493.51L214.42 493.6L214.68 493.16L214.95 493.7L215.22 493.68L215.49 493.63L215.76 493.72L216.03 493.88L216.29 493.96L216.56 494.19L216.83 494.2L217.1 494.32L217.37 494.47L217.64 494.3L217.91 494.71L218.17 494.96L218.44 494.95L218.71 494.96L218.98 495.23L219.25 495.42L219.52 495.21L219.79 495.67L220.05 495.11L220.32 495.72L220.59 495.77L220.86 496.06L221.13 495.95L221.4 496.11L221.67 496.33L221.93 496.19L222.2 496.37L222.47 496.34L222.74 496.66L223.01 496.63L223.28 496.67L223.55 496.71L223.81 497.04L224.08 497.25L224.35 497.06L224.62 497.36L224.89 497.4L225.16 497.51L225.43 497.75L225.69 497.42L225.96 497.59L226.23 497.54L226.5 498.16L226.77 498.11L227.04 498.16L227.31 498.22L227.57 497.97L227.84 498.32L228.11 498.26L228.38 498.67L228.65 498.72L228.92 498.73L229.19 499.05L229.45 498.95L229.72 499.01L229.99 499.44L230.26 499.11L230.53 499.29L230.8 499.44L231.07 499.51L231.33 499.54L231.6 499.38L231.87 500L232.14 500.05L232.41 499.7L232.68 500.31L232.95 500.25L233.21 500.1L233.48 500.25L233.75 500.24L234.02 500.34L234.29 500.38L234.56 500.73L234.83 500.46L235.09 500.62L235.36 501.04L235.63 500.99L235.9 501.35L236.17 501.14L236.44 501.12L236.71 501.41L236.97 501.52L237.24 501.81L237.51 501.35L237.78 501.75L238.05 501.93L238.32 502.05L238.58 501.94L238.85 501.82L239.12 502.2L239.39 502.07L239.66 502.43L239.93 501.98L240.2 502.28L240.46 502.29L240.73 502.82L241 502.69L241.27 502.69L241.54 502.89L241.81 502.9L242.08 503.11L242.34 503.27L242.61 503.2L242.88 503.09L243.15 502.99L243.42 503.56L243.69 503.54L243.96 503.79L244.22 503.81L244.49 503.62L244.76 503.74L245.03 503.75L245.3 504L245.57 504.07L245.84 504.02L246.1 504.37L246.37 504.24L246.64 504.03L246.91 504.94L247.18 504.69L247.45 504L247.72 504.7L247.98 504.49L248.25 505.08L248.52 504.99L248.79 505.28L249.06 505.3L249.33 504.93L249.6 505.4L249.86 505.41L250.13 505.24L250.4 505.1L250.67 505.21L250.94 505.6L251.21 505.01L251.48 505.53L251.74 505.52L252.01 506.03L252.28 506.28L252.55 506.15L252.82 506.22L253.09 506.35L253.36 506.38L253.62 506.41L253.89 506.23L254.16 506.55L254.43 506.57L254.7 507.27L254.97 506.82L255.24 506.67L255.5 506.9L255.77 507.24L256.04 507.71L256.31 507.37L256.58 507.29L256.85 506.93L257.12 506.82L257.38 507.57L257.65 507.67L257.92 507.28L258.19 507.44L258.46 507.87L258.73 507.52L259 507.74L259.26 508.22L259.53 508.27L259.8 508.25L260.07 507.93L260.34 508.27L260.61 508.51L260.88 508.49L261.14 508.6L261.41 508.66L261.68 508.73L261.95 508.41L262.22 508.81L262.49 509.16L262.75 508.77L263.02 508.59L263.29 508.37L263.56 509.85L263.83 508.91L264.1 509.42L264.37 509.61L264.63 509.57L264.9 509.05L265.17 509.62L265.44 509.7L265.71 509.84L265.98 509.97L266.25 509.71L266.51 510.07L266.78 509.74L267.05 510.04L267.32 509.92L267.59 510.15L267.86 510.34L268.13 510.52L268.39 510.15L268.66 510.45L268.93 510.14L269.2 510.39L269.47 510.31L269.74 510.6L270.01 510.7L270.27 510.5L270.54 510.89L270.81 511.72L271.08 510.73L271.35 511.23L271.62 511.38L271.89 511.12L272.15 511.16L272.42 511.14L272.69 511.85L272.96 511.46L273.23 511.12L273.5 511.65L273.77 511.85L274.03 511.49L274.3 512.12L274.57 512.06L274.84 512.12L275.11 512.14L275.38 511.94L275.65 512.36L275.91 512.35L276.18 512.19L276.45 512.67L276.72 511.82L276.99 512.25L277.26 512.21L277.53 512.94L277.79 512.75L278.06 512.5L278.33 512.76L278.6 512.96L278.87 512.14L279.14 512.75L279.41 513.39L279.67 513.47L279.94 513.37L280.21 513.41L280.48 513.15L280.75 513.37L281.02 513.48L281.29 513.53L281.55 513.25L281.82 514.2L282.09 513.59L282.36 513.88L282.63 513.16L282.9 513.26L283.17 513.95L283.43 514.27L283.7 513.43L283.97 513.89L284.24 514.57L284.51 514.38L284.78 513.92L285.04 514.16L285.31 514.43L285.58 514.75L285.85 514.23L286.12 514.7L286.39 514.71L286.66 515.24L286.92 514.81L287.19 514.95L287.46 515.42L287.73 515.1L288 515.26L288.27 515.11L288.54 515.41L288.8 514.61L289.07 514.94L289.34 515.58L289.61 515.44L289.88 515.53L290.15 515.47L290.42 515.17L290.68 515.82L290.95 515.74L291.22 515.7L291.49 515.27L291.76 515.82L292.03 515.61L292.3 515.74L292.56 515.52L292.83 515.43L293.1 515.95L293.37 516.37L293.64 516.65L293.91 516.62L294.18 516.33L294.44 516.68L294.71 516.4L294.98 516.38L295.25 517.09L295.52 516.58L295.79 517.18L296.06 516.27L296.32 516.71L296.59 516.65L296.86 517.29L297.13 517.08L297.4 517.25L297.67 517.13L297.94 517.3L298.2 516.81L298.47 517.75L298.74 517.85L299.01 517.06L299.28 517.59L299.55 517.26L299.82 517.78L300.08 517.27L300.35 517.7L300.62 518.02L300.89 518.16L301.16 517.41L301.43 517.54L301.7 518.26L301.96 518.08L302.23 517.84L302.5 518.72L302.77 518.14L303.04 518.72L303.31 518.71L303.58 518.22L303.84 518.44L304.11 518.23L304.38 518.28L304.65 518.34L304.92 518.7L305.19 518.21L305.46 519.34L305.72 519.07L305.99 519.05L306.26 518.75L306.53 518.77L306.8 519.6L307.07 519.4L307.33 518.96L307.6 519.86L307.87 518.44L308.14 519.66L308.41 519.24L308.68 519.62L308.95 519.15L309.21 519.4L309.48 519.25L309.75 519.21L310.02 519.81L310.29 519.65L310.56 519.93L310.83 520.83L311.09 519.58L311.36 520.76L311.63 519.07L311.9 519.55L312.17 519.84L312.44 521.16L312.71 520.16L312.97 520.1L313.24 520.35L313.51 520.75L313.78 521L314.05 520.13L314.32 521.07L314.59 520.08L314.85 519.99L315.12 521.08L315.39 520.34L315.66 521.04L315.93 520.78L316.2 520.52L316.47 521.04L316.73 520.77L317 521.32L317.27 521.3L317.54 522.07L317.81 521.05L318.08 521.58L318.35 521.59L318.61 520.85L318.88 520.71L319.15 521.56L319.42 522.14L319.69 522.32L319.96 521.27L320.23 522.26L320.49 520.81L320.76 521.69L321.03 521.88L321.3 522.04L321.57 522.04L321.84 521.41L322.11 522.56L322.37 521.34L322.64 522.49L322.91 521.83L323.18 522.74L323.45 522.35L323.72 521.91L323.99 522.39L324.25 522.55L324.52 521.54L324.79 522.06L325.06 521.55L325.33 522.43L325.6 522.36L325.87 522.53L326.13 523.23L326.4 522.68L326.67 523.2L326.94 522.95L327.21 523.28L327.48 523.66L327.75 523.31L328.01 521.92L328.28 523.38L328.55 523.97L328.82 523.63L329.09 523.51L329.36 523.54L329.62 522.65L329.89 523.54L330.16 523.94L330.43 523.42L330.7 522.3L330.97 524.5L331.24 523.86L331.5 523.31L331.77 523.15L332.04 523.46L332.31 523.87L332.58 523.53L332.85 523.49L333.12 523.76L333.38 523.37L333.65 525.4L333.92 523.63L334.19 523.8L334.46 525.05L334.73 524.82L335 524.79L335.26 524.29L335.53 523.95L335.8 524.35L336.07 523.74L336.34 524.84L336.61 523.23L336.88 524.17L337.14 524.09L337.41 524.12L337.68 525.51L337.95 524.21L338.22 525.1L338.49 525.05L338.76 524.67L339.02 524.67L339.29 525.57L339.56 525.67L339.83 525.41L340.1 524.42L340.37 524.37L340.64 525.72L340.9 525.73L341.17 524.4L341.44 526.28L341.71 525.46L341.98 525.23L342.25 525.03L342.52 524.8L342.78 525.69L343.05 526.42L343.32 526.53L343.59 525.33L343.86 525.28L344.13 525.54L344.4 526.04L344.66 525.17L344.93 525.62L345.2 526.82L345.47 525.57L345.74 526.2L346.01 526.41L346.28 525.55L346.54 525L346.81 526.02L347.08 526.64L347.35 525.83L347.62 525.38L347.89 525.4L348.16 525.61L348.42 526.92L348.69 525.7L348.96 526.88L349.23 526.87L349.5 527.18L349.77 526.58L350.04 526.33L350.3 527.13L350.57 527.07L350.84 526.51L351.11 526.86L351.38 527.53L351.65 527.31L351.92 526.93L352.18 526.41L352.45 527.29L352.72 527.14L352.99 526.07L353.26 526.48L353.53 527.01L353.79 527.19L354.06 526.69L354.33 526.43L354.6 527.41L354.87 527.85L355.14 526.88L355.41 528.07L355.67 527.76L355.94 527.12L356.21 527.5L356.48 527.7L356.75 527.21L357.02 528.18L357.29 527.67L357.55 527.97L357.82 527.81L358.09 526.72L358.36 528.32L358.63 528.26L358.9 527.33L359.17 528.61L359.43 527.91L359.7 528.88L359.97 528.19L360.24 527.57L360.51 527.13L360.78 528.94L361.05 528.67L361.31 527.52L361.58 527.45L361.85 528.93L362.12 527.89L362.39 528.36L362.66 528.24L362.93 528.59L363.19 529.34L363.46 528.62L363.73 528.17L364 529.84L364.27 528.53L364.54 528.64L364.81 528.71L365.07 529.03L365.34 529.58L365.61 528.32L365.88 529.13L366.15 528.99L366.42 528.84L366.69 529.91L366.95 528.93L367.22 531.08L367.49 530.11L367.76 529.8L368.03 529.79L368.3 529.19L368.57 530.19L368.83 528.88L369.1 528.57L369.37 530.95L369.64 529.57L369.91 529.43L370.18 529.58L370.45 530.84L370.71 529.64L370.98 528.92L371.25 529.52L371.52 529.63L371.79 529.93L372.06 528.52L372.33 530.29L372.59 531.15L372.86 529.29L373.13 528.79L373.4 531.03L373.67 529.72L373.94 528.36L374.21 530.42L374.47 530.33L374.74 529.74L375.01 529.74L375.28 531.02L375.55 530.92L375.82 531.13L376.08 530.68L376.35 529.97L376.62 531.55L376.89 530.77L377.16 531.6L377.43 529.33L377.7 530.24L377.96 530.64L378.23 530.67L378.5 528.81L378.77 530.67L379.04 529.17L379.31 530.78L379.58 530.74L379.84 530.32L380.11 530.94L380.38 529.95L380.65 531.49L380.92 530.29L381.19 530.97L381.46 532.03L381.72 530.51L381.99 531.37L382.26 532.9L382.53 531.33L382.8 530.27L383.07 532.92L383.34 532.22L383.6 531.16L383.87 531.54L384.14 531.07L384.41 533.15L384.68 530.8L384.95 530.44L385.22 532.42L385.48 532.07L385.75 532.74L386.02 531.32L386.29 531.25L386.56 531.2L386.83 532.65L387.1 532.85L387.36 531.68L387.63 532.01L387.9 532.83L388.17 531.95L388.44 532.01L388.71 531.86L388.98 531.16L389.24 532.45L389.51 531.41L389.78 532.01L390.05 532.49L390.32 531.05L390.59 533.64L390.86 533.06L391.12 532.18L391.39 532.16L391.66 532.7L391.93 531.8L392.2 531.48L392.47 531.78L392.74 532.33L393 532.48L393.27 532.49L393.54 531.75L393.81 532.94L394.08 531.81L394.35 532.49L394.62 532.45L394.88 532.25L395.15 533.43L395.42 532.41L395.69 532.48L395.96 533.14L396.23 532.29L396.5 533.25L396.76 532.14L397.03 532.92L397.3 532.54L397.57 533.47L397.84 532.69L398.11 532.82L398.38 533.49L398.64 533.59L398.91 532.37L399.18 532.2L399.45 533.3L399.72 532.05L399.99 532.27L400.25 533.46L400.52 534.32L400.79 533.86L401.06 533.46L401.33 534.27L401.6 533.27L401.87 532.62L402.13 533.97L402.4 532.52L402.67 533.01L402.94 533.7L403.21 532.33L403.48 533.68L403.75 533.72L404.01 533.19L404.28 534.28L404.55 533.3L404.82 534.51L405.09 534.59L405.36 534.02L405.63 534.6L405.89 533.73L406.16 535.81L406.43 534.47L406.7 533.57L406.97 533.47L407.24 532.16L407.51 534.95L407.77 533.7L408.04 534.1L408.31 534.33L408.58 533.64L408.85 534.4L409.12 534.44L409.39 534.34L409.65 533.95L409.92 534.89L410.19 534.23L410.46 535.12L410.73 534.81L411 534.71L411.27 534.05L411.53 533.44L411.8 535.15L412.07 535.61L412.34 534.15L412.61 535.2L412.88 534.26L413.15 536.12L413.41 534.66L413.68 534.72L413.95 534.89L414.22 534.22L414.49 533.92L414.76 534.12L415.03 532.79L415.29 535.24L415.56 535.18L415.83 533.89L416.1 534.65L416.37 535.58L416.64 535.31L416.91 534.56L417.17 533.2L417.44 533.52L417.71 535.72L417.98 535.98L418.25 535.05L418.52 535.77L418.79 535.15L419.05 536.15L419.32 534.88L419.59 535.81L419.86 535.08L420.13 535.29L420.4 535.34L420.67 535.04L420.93 537.18L421.2 535.64L421.47 537.1L421.74 534.66L422.01 535.53L422.28 535.32L422.54 535.66L422.81 536.71L423.08 534.97L423.35 536.5L423.62 535.62L423.89 537.4L424.16 534.47L424.42 537.51L424.69 534.79L424.96 535.92L425.23 535.75L425.5 535.71L425.77 535.78L426.04 536.04L426.3 537.37L426.57 537.77L426.84 536.03L427.11 536.36L427.38 536.66L427.65 534.62L427.92 536.4L428.18 536.17L428.45 536.1L428.72 536.47L428.99 535.26L429.26 537.26L429.53 536.6L429.8 536.42L430.06 536.31L430.33 534.57L430.6 537.27L430.87 537.41L431.14 538.35L431.41 536.39L431.68 538.98L431.94 535.8L432.21 535.75L432.48 536.92L432.75 535.89L433.02 535.85L433.29 537.15L433.56 535.69L433.82 537.7L434.09 536L434.36 536.09L434.63 537.29L434.9 538.35L435.17 536.21L435.44 534.85L435.7 537.35L435.97 536.04L436.24 537.58L436.51 538.3L436.78 538.11L437.05 537.28L437.32 537.59L437.58 536.58L437.85 536.72L438.12 537.5L438.39 536.45L438.66 536.91L438.93 536.98L439.2 538.54L439.46 538.95L439.73 537.62L440 537.18L440.27 537.98L440.54 539.72L440.81 537.35L441.08 537.66L441.34 535.52L441.61 536.7L441.88 537.38L442.15 537.37L442.42 538.28L442.69 536.68L442.96 536.94L443.22 538.6L443.49 538.14L443.76 537.83L444.03 536.07L444.3 538.56L444.57 538.03L444.83 539.78L445.1 537.17L445.37 539.55L445.64 538.18L445.91 537.96L446.18 536.83L446.45 537.91L446.71 537.23L446.98 539.2L447.25 537.54L447.52 537.91L447.79 538.21L448.06 538.25L448.33 539.79L448.59 539.06L448.86 537.94L449.13 538.21L449.4 539.72L449.67 540.57L449.94 538.63L450.21 538.52L450.47 538.5L450.74 539.04L451.01 537.21L451.28 538.95L451.55 538.33L451.82 536.96L452.09 537.05L452.35 537.46L452.62 540.2L452.89 538.67L453.16 537.83L453.43 538.55L453.7 539.36L453.97 538.38L454.23 538.77L454.5 539.09L454.77 537.46L455.04 538.6L455.31 538.71L455.58 538.57L455.85 538.91L456.11 539.2L456.38 538.51L456.65 536.83L456.92 537.92L457.19 539.66L457.46 538.88L457.73 540.52L457.99 538.31L458.26 539.06L458.53 538.72L458.8 540.36L459.07 538.69L459.34 539.69L459.61 538.99L459.87 537.31L460.14 539.49L460.41 538.7L460.68 539.53L460.95 540.11L461.22 538.18L461.49 539.01L461.75 539.04L462.02 537.94L462.29 537.51L462.56 541.48L462.83 537.34L463.1 538.26L463.37 539.1L463.63 539.17L463.9 538.51L464.17 539.06L464.44 538.98L464.71 539.13L464.98 539.11L465.25 540.16L465.51 539.19L465.78 539.49L466.05 539.71L466.32 540.06L466.59 540.05L466.86 538.49L467.12 539.81L467.39 539.28L467.66 540.45L467.93 539.32L468.2 539.51L468.47 538.72L468.74 539.09L469 540.13L469.27 540.19L469.54 539.91L469.81 539.1L470.08 539.89L470.35 539.98L470.62 540.11L470.88 539.72L471.15 540.4L471.42 539.69L471.69 541.04L471.96 541.43L472.23 541.13L472.5 538.64L472.76 539.97L473.03 541.39L473.3 539.32L473.57 541.34L473.84 540.91L474.11 539.87L474.38 541.06L474.64 540.58L474.91 539.05L475.18 540.91L475.45 541.82L475.72 540.01L475.99 539.05L476.26 541.58L476.52 542.47L476.79 539.1L477.06 540.35L477.33 542.14L477.6 540.72L477.87 541.52L478.14 540.41L478.4 540.83L478.67 540.21L478.94 538.83L479.21 541.11L479.48 540.18L479.75 542.23L480.02 540.31L480.28 540.84L480.55 539.83L480.82 540.92L481.09 540.27L481.36 540.13L481.63 540.21L481.9 540.29L482.16 539.41L482.43 541.12L482.7 540.3L482.97 540.86L483.24 541.13L483.51 540.45L483.78 543L484.04 541.51L484.31 541.86L484.58 541.77L484.85 541.42L485.12 538.31L485.39 541.43L485.66 542.85L485.92 541.01L486.19 541.32L486.46 542.03L486.73 542.76L487 540.69L487.27 540.26L487.54 540.53L487.8 541.63L488.07 539.81L488.34 542.29L488.61 540.31L488.88 541.86L489.15 540.98L489.42 541.1L489.68 540.9L489.95 541.81L490.22 541.58L490.49 540.22L490.76 542.13L491.03 542.03L491.29 542.72L491.56 542.66L491.83 541.01L492.1 541.22L492.37 541.62L492.64 542.38L492.91 540.97L493.17 541.74L493.44 539.16L493.71 540.93L493.98 540.88L494.25 540.93L494.52 542.83L494.79 542.74L495.05 543.88L495.32 542.24L495.59 542.05L495.86 544.11L496.13 542.14L496.4 542.06L496.67 542.25L496.93 541.24L497.2 542.63L497.47 541.11L497.74 542.23L498.01 544.05L498.28 542.62L498.55 540.78L498.81 542.35L499.08 541.05L499.35 543.85L499.62 545.12L499.89 540.86L500.16 541.54L500.43 541.46L500.69 540.71L500.96 542.41L501.23 542.82L501.5 540.59L501.77 543.12L502.04 542.82L502.31 541.59L502.57 541.89L502.84 542.71L503.11 542.47L503.38 541.65L503.65 542.45L503.92 541.91L504.19 543.57L504.45 542.15L504.72 541.22L504.99 543.31L505.26 541.91L505.53 543.54L505.8 541.45L506.07 542.53L506.33 543.13L506.6 542.15L506.87 543.74L507.14 541.78L507.41 540.79L507.68 543.05L507.95 545.09L508.21 542.85L508.48 542.98L508.75 543.46L509.02 543.01L509.29 540.56L509.56 541.74L509.83 541.98L510.09 541.64L510.36 543.9L510.63 543.17L510.9 543.3L511.17 545.99L511.44 541.78L511.71 544.42L511.97 542.48L512.24 541.8L512.51 542.01L512.78 543.43L513.05 542.4L513.32 541.78L513.58 543.04L513.85 541.48L514.12 542.34L514.39 542.41L514.66 544.38L514.93 542.62L515.2 544.63L515.46 544.08L515.73 542.04L516 541.67L516.27 546.1L516.54 541.3L516.81 542.24L517.08 543.7L517.34 544.72L517.61 544.93L517.88 543.87L518.15 543.02L518.42 540.71L518.69 543.87L518.96 542.93L519.22 544.57L519.49 542.82L519.76 542.27L520.03 542.04L520.3 544.58L520.57 544.45L520.84 541.96L521.1 543.74L521.37 542.65L521.64 542.52L521.91 543.45L522.18 545.3L522.45 543.87L522.72 543.65L522.98 542.49L523.25 543.62L523.52 543.29L523.79 545.21L524.06 543.8L524.33 543.59L524.6 543.99L524.86 543.25L525.13 543.79L525.4 543.4L525.67 544.1L525.94 543.05L526.21 541.93L526.48 543.15L526.74 543.79L527.01 542.12L527.28 541.83L527.55 541.91L527.82 543.72L528.09 544.7L528.36 543.23L528.62 541.93L528.89 544.03L529.16 544.8L529.43 543.14L529.7 543.28L529.97 544.87L530.24 544.8L530.5 542.91L530.77 542.23L531.04 543.09L531.31 542.3L531.58 542.22L531.85 541.18L532.12 543.92L532.38 543.34L532.65 543.28L532.92 539.88L533.19 545.45L533.46 545.06L533.73 543.83L534 545.77L534.26 543.9L534.53 544.08L534.8 544.24L535.07 543.25L535.34 543.14L535.61 544.81L535.88 545.31L536.14 543.31L536.41 544.84L536.68 545.44L536.95 544.37L537.22 545.47L537.49 542.01L537.75 546.73L538.02 542.97L538.29 543.88L538.56 543.45L538.83 542.43L539.1 542.43L539.37 544.86L539.63 544.36L539.9 541.97L540.17 543.56L540.44 544.67L540.71 544.86L540.98 542.64L541.25 546.11L541.51 544.73L541.78 544.23L542.05 542.7L542.32 546.34L542.59 542.89L542.86 543.77L543.13 546.7L543.39 544.68L543.66 543.88L543.93 543.61L544.2 545.23L544.47 545.41L544.74 545.25L545.01 545.92L545.27 544.02L545.54 546.71L545.81 545.08L546.08 540.91L546.35 545.91L546.62 544.67L546.89 547.32L547.15 545.3L547.42 544.06L547.69 544.45L547.96 541.75L548.23 545.07L548.5 543.51L548.77 544.58L549.03 544.55L549.3 543.11L549.57 545.6L549.84 544.01L550.11 544.62L550.38 544.25L550.65 543.69L550.91 545.35L551.18 544.39L551.45 542.4L551.72 542.61L551.99 547.45L552.26 545.66L552.53 545.47L552.79 543.96L553.06 542.62L553.33 543.88L553.6 544.63L553.87 544.36L554.14 544.95L554.41 546.38L554.67 546.85L554.94 545L555.21 544.45L555.48 545.95L555.75 545.97L556.02 545.35L556.29 545.49L556.55 544.65L556.82 544.08L557.09 545.31L557.36 542.38L557.63 543.66L557.9 542.72L558.17 543.09L558.43 544.02L558.7 544.71L558.97 541.74L559.24 546.18L559.51 545.14L559.78 544.73L560.04 545.61L560.31 544.87L560.58 545.48L560.85 545.14L561.12 544.13L561.39 545.11L561.66 544.2L561.92 546.72L562.19 544.36L562.46 545.72L562.73 543.39L563 543.28L563.27 545.11L563.54 545.85L563.8 543.67L564.07 544.14L564.34 543.45L564.61 547.03L564.88 545L565.15 544.77L565.42 545.28L565.68 545.36L565.95 544.34L566.22 544.14L566.49 545.8L566.76 542.65L567.03 543.29L567.3 542.55L567.56 545.9L567.83 545.98L568.1 543.04L568.37 545.38L568.64 544.34L568.91 545.2L569.18 546.62L569.44 546.31L569.71 545.21L569.98 546.27L570.25 545.33L570.52 545.22L570.79 546.64L571.06 546.52L571.32 546.39L571.59 544.96L571.86 544.71L572.13 544.87L572.4 545.33L572.67 544.94L572.94 544.51L573.2 545.81L573.47 544.98L573.74 545.34L574.01 546.14L574.28 544.28L574.55 545.41L574.82 544.78L575.08 546.96L575.35 544.65L575.62 543.57L575.89 543.82L576.16 545.63L576.43 545.86L576.7 542.97L576.96 546.54L577.23 547.81L577.5 545.6L577.77 545.49L578.04 546.39L578.31 545.34L578.58 545.16L578.84 546.13L579.11 546.96L579.38 546.5L579.65 544.06L579.92 546.19L580.19 544.92L580.46 546.08L580.72 545.24L580.99 542.45L581.26 543.86L581.53 547.46L581.8 547.11L582.07 545.18L582.33 543.68L582.6 543.92L582.87 543.57L583.14 545.25L583.41 546.21L583.68 544.75L583.95 545.63L584.21 546.13L584.48 543.46L584.75 546.74L585.02 545.33L585.29 545.98L585.56 544.56L585.83 544.53L586.09 545.7L586.36 545.99L586.63 545.66L586.9 545.76L587.17 546.05L587.44 543.96L587.71 545.71L587.97 545.16L588.24 545.64L588.51 545.33L588.78 544.78L589.05 546.36L589.32 544.94L589.59 543.88L589.85 546.6L590.12 543.66L590.39 544.95L590.66 545.96L590.93 547.09L591.2 545.34L591.47 547.29L591.73 545L592 545.56L592.27 544.99L592.54 546.21L592.81 548.82L593.08 543.78L593.35 545.35L593.61 546.1L593.88 545.42L594.15 545.46L594.42 547.68L594.69 548.6L594.96 546.62L595.23 544.45L595.49 548.29L595.76 545.39L596.03 545.9L596.3 545.83L596.57 545.48L596.84 544.96L597.11 544.81L597.37 546.85L597.64 546.7L597.91 547.71L598.18 546.08L598.45 545.53L598.72 545.45L598.99 546.59L599.25 545.34L599.52 548.7L599.79 546.63L600.06 544.94L600.33 546.11L600.6 546.31L600.87 546.24L601.13 548.04L601.4 546.94L601.67 545.86L601.94 545.66L602.21 544.73L602.48 546.16L602.75 544.7L603.01 546.51L603.28 546.44L603.55 547.01L603.82 544.34L604.09 547.58L604.36 544.93L604.62 545.14L604.89 544.09L605.16 546.27L605.43 544.8L605.7 548.65L605.97 546.64L606.24 544.84L606.5 544.6L606.77 546.97L607.04 546.33L607.31 546.2L607.58 546.35L607.85 547.56L608.12 547.55L608.38 546.75L608.65 548.2L608.92 546.62L609.19 545.21L609.46 546.43L609.73 545.61L610 544.25L610.26 546.12L610.53 544.68L610.8 544.06L611.07 545.81L611.34 546.73L611.61 546.66L611.88 545.74L612.14 545.35L612.41 544.98L612.68 545.62L612.95 545.98L613.22 545.68L613.49 546.49L613.76 545.02L614.02 546.58L614.29 546.24L614.56 545.46L614.83 546.85L615.1 545.51L615.37 546.21L615.64 545L615.9 546.37L616.17 545.66L616.44 546.36L616.71 545.94L616.98 545.15L617.25 542.68L617.52 543.88L617.78 548.42L618.05 544.76L618.32 545.8L618.59 546.18L618.86 543.96L619.13 546.4L619.4 546.54L619.66 546.09L619.93 547.09L620.2 549.32L620.47 544.94L620.74 545.53L621.01 546.04L621.28 546.65L621.54 547.87L621.81 546.16L622.08 545.86L622.35 545.92L622.62 544.18L622.89 544.04L623.16 545.36L623.42 544.59L623.69 545.14L623.96 544.9L624.23 547.69L624.5 544.44L624.77 548.49L625.04 545.14L625.3 546.38L625.57 546.21L625.84 545.95L626.11 546.5L626.38 546.05L626.65 544.47L626.92 544.69L627.18 547.47L627.45 544.2L627.72 544.86L627.99 545.69L628.26 545.29L628.53 545.11L628.79 546.86L629.06 548.14L629.33 547.97L629.6 544.21L629.87 546.22L630.14 545.55L630.41 545.04L630.67 545.19L630.94 544.02L631.21 545.6L631.48 545.53L631.75 547.43L632.02 545.64L632.29 545.34L632.55 544.79L632.82 547.8L633.09 544.52L633.36 544.37L633.63 545.41L633.9 546.28L634.17 545.23L634.43 546.23L634.7 547.73L634.97 547.52L635.24 545.8L635.51 546.79L635.78 547.11L636.05 544.94L636.31 543.7L636.58 546.54L636.85 545.63L637.12 546.2L637.39 544.81L637.66 546.29L637.93 548.12L638.19 548.37L638.46 546.27L638.73 547.89" fill="none" stroke="#2a2a2a" stroke-width="1.15" stroke-linejoin="round"/><path d="M89 641.56L89.27 597.92L89.54 621.15L89.81 588.87L90.07 645.14L90.34 610.18L90.61 608.54L90.88 604.41L91.15 603.75L91.42 599.57L91.69 602.98L91.95 614.92L92.22 615.49L92.49 604.16L92.76 607.8L93.03 590.16L93.3 660.17L93.57 629.54L93.83 630.37L94.1 598.11L94.37 597.81L94.64 616.31L94.91 597.7L95.18 597.27L95.45 618.68L95.71 613.32L95.98 609.52L96.25 594.26L96.52 599.1L96.79 610.06L97.06 607.95L97.33 630.76L97.59 602.88L97.86 612.14L98.13 607.01L98.4 616.39L98.67 601.61L98.94 625.39L99.21 640.69L99.47 619.23L99.74 602.94L100.01 629.48L100.28 615.61L100.55 598.32L100.82 600.42L101.08 619.93L101.35 612.34L101.62 597.92L101.89 620.72L102.16 599.09L102.43 610.37L102.7 627.58L102.96 626.04L103.23 608.07L103.5 601.44L103.77 668.62L104.04 614.32L104.31 641.27L104.58 611.01L104.84 599.66L105.11 608.56L105.38 596.6L105.65 614.91L105.92 615.57L106.19 643.57L106.46 635.82L106.72 607.25L106.99 598.32L107.26 621.47L107.53 623.82L107.8 606.12L108.07 595.26L108.34 607.24L108.6 609.24L108.87 612.19L109.14 605.98L109.41 620.55L109.68 616.87L109.95 600.03L110.22 621.23L110.48 597.95L110.75 613.01L111.02 605.88L111.29 596.32L111.56 641.75L111.83 631.26L112.1 598.33L112.36 625.87L112.63 606.05L112.9 645.11L113.17 595.72L113.44 604.06L113.71 609.65L113.98 610.41L114.24 622.05L114.51 632.84L114.78 617.3L115.05 605.05L115.32 603.25L115.59 620.79L115.86 646L116.12 608.23L116.39 617.18L116.66 632.67L116.93 605.5L117.2 623.48L117.47 653.21L117.74 614.96L118 626.98L118.27 595.27L118.54 603.8L118.81 613.39L119.08 615.47L119.35 604.31L119.62 591.19L119.88 602.68L120.15 606.08L120.42 630.86L120.69 622.31L120.96 610.46L121.23 619.88L121.5 638.07L121.76 617.88L122.03 594.96L122.3 615.08L122.57 600.78L122.84 594.8L123.11 603.5L123.38 308.63L123.64 639.58L123.91 610.49L124.18 599.04L124.45 599.37L124.72 619.64L124.99 653.22L125.25 627.46L125.52 596.81L125.79 627.26L126.06 623.7L126.33 618.64L126.6 613.26L126.87 610.19L127.13 600.16L127.4 592.23L127.67 598.5L127.94 616.93L128.21 607.88L128.48 597.27L128.75 607.59L129.01 613.63L129.28 598.88L129.55 595.09L129.82 613.68L130.09 589.58L130.36 610.59L130.63 605.46L130.89 630.11L131.16 617.91L131.43 614.31L131.7 620.49L131.97 612.2L132.24 598.5L132.51 623.23L132.77 595.66L133.04 617.34L133.31 625.62L133.58 604.68L133.85 641.68L134.12 626.57L134.39 624.23L134.65 590.6L134.92 606.44L135.19 621.93L135.46 603.17L135.73 602.05L136 610.76L136.27 627.83L136.53 612.89L136.8 587.76L137.07 598.04L137.34 598.96L137.61 601.2L137.88 617.67L138.15 624.15L138.41 601.32L138.68 615.04L138.95 610.32L139.22 622.79L139.49 644.48L139.76 606.87L140.03 611.44L140.29 600.66L140.56 601.22L140.83 590.56L141.1 602.99L141.37 610.18L141.64 604.44L141.91 608.74L142.17 601.7L142.44 600.49L142.71 619.23L142.98 597.24L143.25 610.51L143.52 605.21L143.79 624.69L144.05 599.05L144.32 600.89L144.59 618.09L144.86 618.32L145.13 636.32L145.4 612.07L145.67 609.93L145.93 597.6L146.2 593.72L146.47 604.25L146.74 587.3L147.01 621.09L147.28 606.21L147.54 597.84L147.81 602.23L148.08 602.32L148.35 641.47L148.62 594.91L148.89 598.3L149.16 634.82L149.42 616.36L149.69 615.36L149.96 605.56L150.23 597.04L150.5 611.56L150.77 609.89L151.04 605.45L151.3 609.29L151.57 597.64L151.84 604.91L152.11 599.24L152.38 596.92L152.65 624.69L152.92 589.52L153.18 595.43L153.45 615.53L153.72 640.33L153.99 627.88L154.26 635.79L154.53 589.89L154.8 595.91L155.06 608.43L155.33 595.44L155.6 605.58L155.87 632.44L156.14 626L156.41 625.95L156.68 601.12L156.94 596.44L157.21 610.69L157.48 617.74L157.75 595.81L158.02 617.39L158.29 614.78L158.56 606.41L158.82 597.21L159.09 637.98L159.36 593.32L159.63 606.65L159.9 645.43L160.17 615.22L160.44 618.71L160.7 596.71L160.97 619.45L161.24 604.85L161.51 620.16L161.78 608.18L162.05 621.26L162.32 616.23L162.58 624.69L162.85 596.87L163.12 626L163.39 609.55L163.66 604.53L163.93 627.7L164.2 645.34L164.46 635.71L164.73 613.49L165 612.77L165.27 613.28L165.54 607.35L165.81 627.86L166.08 589.81L166.34 608.11L166.61 597.62L166.88 605.38L167.15 608.38L167.42 598.89L167.69 603.15L167.96 627.69L168.22 632.1L168.49 598.74L168.76 613.26L169.03 619.81L169.3 637.92L169.57 601.9L169.83 592.04L170.1 645.1L170.37 594.7L170.64 607.4L170.91 601.13L171.18 609.59L171.45 593.44L171.71 606.15L171.98 613.53L172.25 607.78L172.52 614.42L172.79 601.93L173.06 639.07L173.33 619.48L173.59 589.08L173.86 610.21L174.13 615.92L174.4 652.53L174.67 623.38L174.94 596.68L175.21 687.3L175.47 619.89L175.74 594.99L176.01 612.1L176.28 603.51L176.55 618.46L176.82 603.24L177.09 605.66L177.35 602.98L177.62 599.82L177.89 630.61L178.16 594.5L178.43 603.05L178.7 613.75L178.97 622.34L179.23 615.04L179.5 613.04L179.77 619.19L180.04 603.66L180.31 635.11L180.58 614.85L180.85 596.74L181.11 592.15L181.38 598.84L181.65 612.51L181.92 592.83L182.19 622.26L182.46 593.18L182.73 636.95L182.99 587.85L183.26 605.27L183.53 628.94L183.8 622.65L184.07 613.43L184.34 618.54L184.61 597.2L184.87 614L185.14 626.53L185.41 637.26L185.68 601.88L185.95 636.02L186.22 606.8L186.49 612.07L186.75 617.62L187.02 624.28L187.29 604.7L187.56 619.06L187.83 603.72L188.1 612.86L188.37 652.04L188.63 601.14L188.9 593.25L189.17 616.78L189.44 610.95L189.71 605.59L189.98 596.12L190.25 606.81L190.51 609.39L190.78 611.1L191.05 595.24L191.32 594.21L191.59 608.41L191.86 607.9L192.12 605.42L192.39 597.2L192.66 589.49L192.93 603.93L193.2 640L193.47 605.31L193.74 611.89L194 613.42L194.27 610.88L194.54 622.41L194.81 626.2L195.08 605.59L195.35 638.11L195.62 607.67L195.88 608.85L196.15 668.57L196.42 592.26L196.69 600.24L196.96 588.95L197.23 598.08L197.5 607.21L197.76 633.34L198.03 652.69L198.3 608.27L198.57 601.86L198.84 621.37L199.11 614.65L199.38 589.65L199.64 611.21L199.91 623.51L200.18 597.01L200.45 613.02L200.72 624.95L200.99 626.25L201.26 610.41L201.52 621.72L201.79 693.91L202.06 613.76L202.33 599.91L202.6 611.72L202.87 635.12L203.14 632.16L203.4 603.84L203.67 604.22L203.94 607.04L204.21 600.62L204.48 635.23L204.75 613.95L205.02 606.52L205.28 616.82L205.55 621.64L205.82 602.85L206.09 603.32L206.36 590.46L206.63 612.19L206.9 618.78L207.16 599.79L207.43 624.33L207.7 633.36L207.97 607.33L208.24 595.41L208.51 642.31L208.78 617L209.04 614.05L209.31 628.23L209.58 640.85L209.85 615.17L210.12 625.84L210.39 611.47L210.66 604.86L210.92 604.59L211.19 605.73L211.46 594.35L211.73 604.2L212 631.61L212.27 642.31L212.54 603.5L212.8 603.43L213.07 593.72L213.34 616.67L213.61 600.79L213.88 607.22L214.15 618.03L214.42 597.86L214.68 610.3L214.95 602.54L215.22 602.95L215.49 615.84L215.76 612.07L216.03 603.19L216.29 605.24L216.56 601.79L216.83 599.15L217.1 600.87L217.37 597.07L217.64 613.26L217.91 609.53L218.17 599.07L218.44 605.17L218.71 604.42L218.98 623.3L219.25 619.19L219.52 643.42L219.79 607.29L220.05 613.64L220.32 607.5L220.59 604.33L220.86 616.27L221.13 606.83L221.4 594.65L221.67 612.49L221.93 615.04L222.2 605.99L222.47 654.3L222.74 622.94L223.01 617.51L223.28 607.07L223.55 623.37L223.81 602.69L224.08 642.3L224.35 625.38L224.62 593.71L224.89 608.78L225.16 599.65L225.43 634.24L225.69 619.57L225.96 605.88L226.23 626.4L226.5 590.75L226.77 601.08L227.04 601.24L227.31 668.88L227.57 603.75L227.84 641.74L228.11 614.47L228.38 670.63L228.65 619.14L228.92 597.42L229.19 608.95L229.45 613.2L229.72 597.23L229.99 597.22L230.26 589.6L230.53 610.42L230.8 600.98L231.07 651.17L231.33 619.68L231.6 618.56L231.87 643.83L232.14 596.88L232.41 607.24L232.68 602.59L232.95 613.88L233.21 663.38L233.48 626.89L233.75 633.9L234.02 616.8L234.29 643.85L234.56 637.39L234.83 601.86L235.09 602.78L235.36 601.05L235.63 601.02L235.9 610.91L236.17 607.13L236.44 621.72L236.71 637.22L236.97 618.08L237.24 609.53L237.51 609.31L237.78 604L238.05 591.92L238.32 604.28L238.58 621.24L238.85 607.78L239.12 606.28L239.39 638.93L239.66 631.08L239.93 602.54L240.2 595.85L240.46 649.39L240.73 618.62L241 616.85L241.27 596.29L241.54 621.95L241.81 622.77L242.08 621.06L242.34 626.38L242.61 618.11L242.88 595.64L243.15 594.65L243.42 602.54L243.69 621.06L243.96 624.25L244.22 617.09L244.49 597.68L244.76 626.51L245.03 599.03L245.3 608.8L245.57 609.62L245.84 618.03L246.1 620.82L246.37 637.06L246.64 618.78L246.91 636.45L247.18 616.89L247.45 598.23L247.72 602.4L247.98 641.35L248.25 605.48L248.52 650.83L248.79 636.08L249.06 613.07L249.33 603.29L249.6 605.48L249.86 620.75L250.13 632.97L250.4 637.14L250.67 609.03L250.94 605.04L251.21 593.84L251.48 611.49L251.74 612.26L252.01 614.64L252.28 605.26L252.55 621.41L252.82 684.32L253.09 593.54L253.36 593.71L253.62 615.34L253.89 624.93L254.16 602.83L254.43 629.99L254.7 591.55L254.97 609.52L255.24 615.24L255.5 614.08L255.77 606.7L256.04 602.86L256.31 614.52L256.58 607.39L256.85 609.98L257.12 650.32L257.38 632.47L257.65 627.3L257.92 608.74L258.19 606.59L258.46 589.97L258.73 611.17L259 652.59L259.26 610.3L259.53 630.18L259.8 611.04L260.07 595.17L260.34 602.36L260.61 607.3L260.88 602.71L261.14 609L261.41 604.74L261.68 613.31L261.95 623.85L262.22 598.63L262.49 597.83L262.75 626.65L263.02 638.08L263.29 602.86L263.56 632.39L263.83 626.62L264.1 598.76L264.37 624.91L264.63 592.99L264.9 603.37L265.17 612.16L265.44 616.87L265.71 598.02L265.98 614.68L266.25 625.71L266.51 600.86L266.78 594.38L267.05 639.52L267.32 616.01L267.59 606.03L267.86 606.61L268.13 597.69L268.39 597.4L268.66 590.86L268.93 597.47L269.2 614.5L269.47 608.73L269.74 594.16L270.01 626.65L270.27 624.82L270.54 636.37L270.81 611.65L271.08 617.29L271.35 604.39L271.62 613.86L271.89 618.24L272.15 609.95L272.42 633.36L272.69 616.02L272.96 595.04L273.23 612.81L273.5 614.53L273.77 606.01L274.03 652.17L274.3 601L274.57 645.17L274.84 611.72L275.11 619.29L275.38 641.61L275.65 602.95L275.91 594.45L276.18 595.54L276.45 607.02L276.72 624.13L276.99 597.67L277.26 612.12L277.53 610.34L277.79 611.82L278.06 593.13L278.33 627.42L278.6 598.3L278.87 605.31L279.14 601.42L279.41 599.22L279.67 622.04L279.94 598.54L280.21 603.5L280.48 605.43L280.75 600.28L281.02 634.32L281.29 612.82L281.55 606.93L281.82 612.15L282.09 612.78L282.36 605.94L282.63 597.02L282.9 590.85L283.17 594.84L283.43 639.19L283.7 607.55L283.97 624.85L284.24 602.76L284.51 611.3L284.78 609.31L285.04 611.13L285.31 610.28L285.58 634.28L285.85 612.22L286.12 595.82L286.39 642.98L286.66 613.18L286.92 624.04L287.19 629.15L287.46 614.7L287.73 627.21L288 615.5L288.27 603.36L288.54 609.28L288.8 641.38L289.07 603.28L289.34 613.38L289.61 620.91L289.88 594.18L290.15 632.49L290.42 654.05L290.68 600.88L290.95 645.75L291.22 610.3L291.49 605.18L291.76 601.55L292.03 636.61L292.3 630.73L292.56 619.27L292.83 617.33L293.1 597.47L293.37 596.71L293.64 606.05L293.91 593.88L294.18 620.41L294.44 601.33L294.71 596.64L294.98 601.27L295.25 605.25L295.52 597.76L295.79 615.26L296.06 595.02L296.32 609.93L296.59 626.61L296.86 590.07L297.13 592.2L297.4 620.24L297.67 598.29L297.94 606.27L298.2 611.18L298.47 609.47L298.74 607.83L299.01 615.23L299.28 631.82L299.55 616.93L299.82 599.16L300.08 610.3L300.35 621.44L300.62 643.31L300.89 604.49L301.16 590.47L301.43 636.45L301.7 588.61L301.96 618.99L302.23 597.02L302.5 623.5L302.77 619.23L303.04 606.12L303.31 616.18L303.58 626.86L303.84 618.84L304.11 624.81L304.38 613.42L304.65 606.92L304.92 621.31L305.19 615.37L305.46 624.51L305.72 604.27L305.99 607.21L306.26 604L306.53 593.45L306.8 614.07L307.07 625.82L307.33 608.08L307.6 588.46L307.87 616.39L308.14 620.15L308.41 619.48L308.68 607.82L308.95 589.89L309.21 597.89L309.48 659.57L309.75 593.4L310.02 607.07L310.29 596.2L310.56 599.08L310.83 605.32L311.09 620.41L311.36 595.58L311.63 630.2L311.9 605.29L312.17 598.46L312.44 632.73L312.71 629.83L312.97 612.8L313.24 599.11L313.51 630.46L313.78 598.19L314.05 646.95L314.32 603.86L314.59 609.69L314.85 607.42L315.12 604.3L315.39 610.52L315.66 606.27L315.93 609.87L316.2 636.36L316.47 602.68L316.73 616.45L317 633.5L317.27 634.17L317.54 614.82L317.81 614.32L318.08 622.4L318.35 617.29L318.61 614.22L318.88 599.76L319.15 613.59L319.42 618.82L319.69 650.23L319.96 589.61L320.23 602.25L320.49 623.04L320.76 618.11L321.03 610.89L321.3 582.2L321.57 611.44L321.84 615.64L322.11 601.35L322.37 614.78L322.64 613.75L322.91 617.22L323.18 592.67L323.45 607.19L323.72 618.26L323.99 613.19L324.25 620.57L324.52 624.66L324.79 599.9L325.06 623.48L325.33 634.66L325.6 605.63L325.87 615.48L326.13 647.69L326.4 601.76L326.67 627.56L326.94 603.25L327.21 607.25L327.48 612.67L327.75 601.78L328.01 611.55L328.28 589.87L328.55 626.59L328.82 622.56L329.09 611.08L329.36 596.22L329.62 596.99L329.89 598.68L330.16 612.83L330.43 611.57L330.7 592.13L330.97 628.47L331.24 639.49L331.5 605.8L331.77 614.28L332.04 607.45L332.31 610.44L332.58 630.45L332.85 611.85L333.12 593.26L333.38 644.96L333.65 599.97L333.92 611.47L334.19 621.63L334.46 631.64L334.73 600.06L335 617.61L335.26 620L335.53 605.12L335.8 616.94L336.07 611.64L336.34 602.98L336.61 610.23L336.88 618.39L337.14 606.89L337.41 622.61L337.68 614.22L337.95 608.06L338.22 598.91L338.49 606.66L338.76 602.42L339.02 645.68L339.29 600.91L339.56 608.28L339.83 621.76L340.1 613.86L340.37 621.49L340.64 626.6L340.9 618.12L341.17 611.75L341.44 655.41L341.71 612.01L341.98 606.42L342.25 608.49L342.52 618.9L342.78 597.79L343.05 635.7L343.32 618.55L343.59 594.23L343.86 605.61L344.13 622.72L344.4 619.38L344.66 606.14L344.93 589.05L345.2 603.98L345.47 614.32L345.74 603.73L346.01 619.61L346.28 604.87L346.54 588.66L346.81 631.73L347.08 613.07L347.35 632.82L347.62 659.58L347.89 605.81L348.16 604.43L348.42 600.31L348.69 601.06L348.96 645.69L349.23 601.57L349.5 615.15L349.77 596.32L350.04 616.27L350.3 608.17L350.57 599.92L350.84 594.06L351.11 650L351.38 628.52L351.65 616.39L351.92 611.03L352.18 614.57L352.45 606.32L352.72 626.09L352.99 632.23L353.26 605.73L353.53 598.18L353.79 628.18L354.06 594.39L354.33 604.17L354.6 614.47L354.87 597.79L355.14 612.07L355.41 606.6L355.67 598.85L355.94 622.44L356.21 597.96L356.48 660.06L356.75 606.13L357.02 607.66L357.29 606.98L357.55 614.92L357.82 595.3L358.09 606.44L358.36 607.07L358.63 607.67L358.9 611.96L359.17 643.85L359.43 609.34L359.7 600.97L359.97 617.76L360.24 613.9L360.51 628.57L360.78 634.19L361.05 639.46L361.31 602.21L361.58 616.07L361.85 608.7L362.12 634.5L362.39 600.31L362.66 648.69L362.93 632.8L363.19 624.21L363.46 635.83L363.73 605.47L364 597.72L364.27 619L364.54 607.95L364.81 601.16L365.07 611.56L365.34 615.77L365.61 649.81L365.88 642.9L366.15 644.39L366.42 617.38L366.69 603.44L366.95 622.74L367.22 603.12L367.49 615.08L367.76 616.6L368.03 614.59L368.3 605.18L368.57 615.44L368.83 602.85L369.1 602.36L369.37 617.71L369.64 611.86L369.91 595.97L370.18 614.2L370.45 594.51L370.71 614.8L370.98 608.6L371.25 611.81L371.52 607.85L371.79 608.02L372.06 613.95L372.33 654.56L372.59 629.96L372.86 594.43L373.13 609.33L373.4 610.79L373.67 602.02L373.94 597.28L374.21 615.81L374.47 601.22L374.74 599.64L375.01 626.64L375.28 603.24L375.55 620.64L375.82 611.58L376.08 599.88L376.35 604.3L376.62 600.21L376.89 603.39L377.16 609.09L377.43 603.4L377.7 593.95L377.96 616.79L378.23 608.17L378.5 607.67L378.77 614.86L379.04 605.84L379.31 600.73L379.58 607.92L379.84 607.11L380.11 593.69L380.38 610.76L380.65 598.21L380.92 597.05L381.19 612.67L381.46 606.52L381.72 622.54L381.99 648.2L382.26 609.41L382.53 650.19L382.8 605.52L383.07 603.38L383.34 627.87L383.6 642.76L383.87 632.91L384.14 599.48L384.41 599.16L384.68 606.2L384.95 620.05L385.22 626.66L385.48 615.35L385.75 622.68L386.02 608.86L386.29 615.19L386.56 627.38L386.83 603.86L387.1 595.92L387.36 623.68L387.63 617.01L387.9 611.44L388.17 595.62L388.44 602.52L388.71 612.45L388.98 641.13L389.24 584.52L389.51 625.88L389.78 646.4L390.05 594.05L390.32 624.84L390.59 597.8L390.86 622.42L391.12 605.61L391.39 625.17L391.66 605.43L391.93 640.69L392.2 621.43L392.47 605.98L392.74 605.26L393 599.7L393.27 623.77L393.54 609.96L393.81 617.02L394.08 626.03L394.35 625.66L394.62 624.46L394.88 631.16L395.15 620.56L395.42 630.39L395.69 639.97L395.96 599.07L396.23 592.33L396.5 605.64L396.76 614.67L397.03 602.86L397.3 620.72L397.57 628.29L397.84 614.45L398.11 592.82L398.38 604.11L398.64 599.12L398.91 595.91L399.18 610.17L399.45 595.41L399.72 608.11L399.99 614.07L400.25 619.69L400.52 616.65L400.79 608.39L401.06 598.21L401.33 595.83L401.6 626.34L401.87 629.87L402.13 617.82L402.4 601.4L402.67 638.86L402.94 612.81L403.21 670.02L403.48 607.42L403.75 602.81L404.01 629.58L404.28 622.25L404.55 596.71L404.82 600.21L405.09 611.28L405.36 607.33L405.63 596.66L405.89 613.56L406.16 606.79L406.43 621.1L406.7 599L406.97 607.45L407.24 620.54L407.51 642.34L407.77 621.95L408.04 602.54L408.31 607.38L408.58 605.28L408.85 625.93L409.12 629.51L409.39 619.27L409.65 625.09L409.92 600.54L410.19 621.41L410.46 615.35L410.73 606.4L411 608.82L411.27 614.87L411.53 602.82L411.8 603.39L412.07 615.96L412.34 615.54L412.61 615.99L412.88 603.39L413.15 590.58L413.41 617.73L413.68 620.86L413.95 615.12L414.22 599.41L414.49 612.85L414.76 615.75L415.03 611.13L415.29 607.79L415.56 610.29L415.83 598.99L416.1 631.69L416.37 614.2L416.64 613.52L416.91 622.82L417.17 633.03L417.44 604.8L417.71 600.84L417.98 616.41L418.25 623.45L418.52 643.62L418.79 639.27L419.05 601.78L419.32 633.62L419.59 612.68L419.86 611.9L420.13 626.26L420.4 596.77L420.67 607.5L420.93 631.93L421.2 623.16L421.47 602.16L421.74 610.58L422.01 629.88L422.28 609.51L422.54 591.61L422.81 634.79L423.08 631.44L423.35 616.23L423.62 619.04L423.89 601.15L424.16 603.22L424.42 609.99L424.69 605.08L424.96 602.69L425.23 614.21L425.5 635.08L425.77 608.74L426.04 598.54L426.3 585.59L426.57 609.13L426.84 627.47L427.11 629.65L427.38 612.52L427.65 621.5L427.92 602.63L428.18 623L428.45 606.1L428.72 637.98L428.99 629.84L429.26 615.03L429.53 614.82L429.8 604.9L430.06 600.92L430.33 605.24L430.6 611.99L430.87 631.4L431.14 609.21L431.41 610.93L431.68 630.29L431.94 617.57L432.21 608.37L432.48 614.89L432.75 622.84L433.02 599.37L433.29 620.81L433.56 610.15L433.82 612.6L434.09 633.29L434.36 588.96L434.63 587.19L434.9 619.4L435.17 606.65L435.44 630.76L435.7 587.85L435.97 621.15L436.24 596.33L436.51 607.4L436.78 623.33L437.05 610.75L437.32 617.72L437.58 599.58L437.85 603.96L438.12 642.5L438.39 584.68L438.66 607.76L438.93 608.12L439.2 616.53L439.46 612.54L439.73 640.88L440 614.78L440.27 624.73L440.54 633.32L440.81 607.53L441.08 593.94L441.34 588.89L441.61 676.86L441.88 598.12L442.15 621.44L442.42 603.01L442.69 603.64L442.96 622.07L443.22 604.71L443.49 636.43L443.76 595.65L444.03 600.53L444.3 599.19L444.57 615.56L444.83 623.65L445.1 609.48L445.37 620.23L445.64 610.67L445.91 618.77L446.18 590.2L446.45 617L446.71 604.95L446.98 599.22L447.25 631.13L447.52 622.46L447.79 614.13L448.06 621.49L448.33 623.98L448.59 624.13L448.86 623.56L449.13 598.67L449.4 614.95L449.67 621.33L449.94 635.18L450.21 635.29L450.47 610.68L450.74 621.13L451.01 600.91L451.28 601.39L451.55 603.42L451.82 625.62L452.09 624.49L452.35 600.93L452.62 606.18L452.89 598.9L453.16 615.13L453.43 628.56L453.7 615.65L453.97 599.43L454.23 608.3L454.5 599.71L454.77 618.26L455.04 624.12L455.31 604.77L455.58 611.53L455.85 616.65L456.11 631.3L456.38 622.46L456.65 608.72L456.92 618.43L457.19 628.12L457.46 617.41L457.73 598.76L457.99 605.35L458.26 590.8L458.53 606.38L458.8 600.59L459.07 602.95L459.34 608.71L459.61 593.38L459.87 613.18L460.14 629.7L460.41 603.05L460.68 638.99L460.95 601.54L461.22 621.32L461.49 635.68L461.75 596.92L462.02 605.09L462.29 613.03L462.56 611.99L462.83 611.27L463.1 588.58L463.37 596.42L463.63 628.01L463.9 629.99L464.17 616L464.44 627.25L464.71 598.58L464.98 613.52L465.25 607.48L465.51 618.76L465.78 594.94L466.05 622.29L466.32 623.3L466.59 614.52L466.86 625.15L467.12 601.68L467.39 604.56L467.66 597.13L467.93 600.86L468.2 643.47L468.47 601.04L468.74 605.27L469 612.24L469.27 612.16L469.54 606.82L469.81 598.05L470.08 599.59L470.35 603.43L470.62 627.09L470.88 618.8L471.15 587.78L471.42 635.65L471.69 613.25L471.96 629.33L472.23 600.66L472.5 634.84L472.76 618.03L473.03 627.15L473.3 626.28L473.57 605.65L473.84 607.48L474.11 631.57L474.38 605.31L474.64 608.74L474.91 607.01L475.18 594.23L475.45 601.45L475.72 610.72L475.99 629.06L476.26 614.02L476.52 622.16L476.79 603.46L477.06 601.48L477.33 611.71L477.6 623.11L477.87 615.19L478.14 648.53L478.4 605.97L478.67 619.6L478.94 592.47L479.21 613.57L479.48 610.78L479.75 601.8L480.02 645.99L480.28 610.7L480.55 596.03L480.82 603.96L481.09 603.04L481.36 595.68L481.63 627.83L481.9 635.66L482.16 604.17L482.43 610.35L482.7 600.9L482.97 636.15L483.24 655.25L483.51 593.02L483.78 604.12L484.04 594.48L484.31 619.93L484.58 601.85L484.85 614.02L485.12 639.2L485.39 595.87L485.66 629.14L485.92 601.2L486.19 623.16L486.46 607.33L486.73 612.47L487 606.05L487.27 603.71L487.54 601.04L487.8 604.93L488.07 614.31L488.34 606.82L488.61 610.76L488.88 610.94L489.15 593.29L489.42 600.6L489.68 607.69L489.95 606.17L490.22 650.18L490.49 645.77L490.76 596.97L491.03 598.51L491.29 610.77L491.56 601.54L491.83 598.92L492.1 616.69L492.37 624.38L492.64 631.16L492.91 599.72L493.17 596.05L493.44 600.92L493.71 592.15L493.98 604.23L494.25 632.38L494.52 597.66L494.79 631.45L495.05 597.95L495.32 606.8L495.59 597.55L495.86 625.55L496.13 609.33L496.4 608.07L496.67 602.16L496.93 614.35L497.2 624.62L497.47 613.05L497.74 633.24L498.01 633.7L498.28 655.11L498.55 599.82L498.81 620L499.08 616.19L499.35 609.06L499.62 612.36L499.89 610L500.16 626.64L500.43 597.98L500.69 605.15L500.96 594.06L501.23 625.76L501.5 609.52L501.77 610.11L502.04 590.07L502.31 624.6L502.57 612L502.84 595.55L503.11 618.27L503.38 643.68L503.65 612.07L503.92 642.61L504.19 648.26L504.45 608.98L504.72 649.26L504.99 620.72L505.26 610.46L505.53 642.41L505.8 619.22L506.07 622.93L506.33 621.08L506.6 597.77L506.87 622.26L507.14 606.36L507.41 614.26L507.68 611.64L507.95 598.91L508.21 612.24L508.48 605.55L508.75 626.28L509.02 605.47L509.29 618.79L509.56 617.51L509.83 638.12L510.09 597.12L510.36 623.28L510.63 613.89L510.9 603.28L511.17 607.75L511.44 627.05L511.71 644.56L511.97 618.09L512.24 610.05L512.51 614.15L512.78 600.27L513.05 610.76L513.32 625.29L513.58 611.31L513.85 600.21L514.12 637.32L514.39 640.82L514.66 634.09L514.93 613.8L515.2 599.7L515.46 614.51L515.73 616.97L516 602.59L516.27 605.19L516.54 602.25L516.81 621.94L517.08 611.84L517.34 607.58L517.61 592.95L517.88 621.29L518.15 603.69L518.42 603.06L518.69 623.21L518.96 591.24L519.22 631.14L519.49 609.08L519.76 610.87L520.03 635.35L520.3 620.51L520.57 604.95L520.84 622.17L521.1 628.51L521.37 604.11L521.64 601.36L521.91 619.17L522.18 588.41L522.45 605.77L522.72 625.42L522.98 617.31L523.25 596.53L523.52 619.48L523.79 601.3L524.06 607.03L524.33 593.57L524.6 619.32L524.86 598.86L525.13 633.02L525.4 624.67L525.67 591.25L525.94 607.3L526.21 611.63L526.48 642.71L526.74 620.86L527.01 607.55L527.28 616.23L527.55 609.92L527.82 614.15L528.09 597.46L528.36 599.77L528.62 600.95L528.89 610.64L529.16 617.74L529.43 625.65L529.7 604.47L529.97 606.83L530.24 622.06L530.5 602.49L530.77 643.69L531.04 597.61L531.31 613.43L531.58 606.84L531.85 627.64L532.12 632.02L532.38 626.33L532.65 611.44L532.92 600.29L533.19 602.64L533.46 610.55L533.73 628.21L534 601.52L534.26 623.77L534.53 613.58L534.8 607.99L535.07 611.19L535.34 596.32L535.61 606.32L535.88 616.43L536.14 621.66L536.41 632.45L536.68 613.7L536.95 591.45L537.22 605.13L537.49 619.46L537.75 613.47L538.02 637.02L538.29 633.68L538.56 632.9L538.83 618.47L539.1 612.49L539.37 628.14L539.63 647.03L539.9 622L540.17 595.01L540.44 602.28L540.71 592.98L540.98 622.86L541.25 627.3L541.51 665.87L541.78 599.01L542.05 619.32L542.32 605.85L542.59 617.91L542.86 620.92L543.13 601.35L543.39 615.14L543.66 613.22L543.93 653.53L544.2 610.05L544.47 618.07L544.74 610.58L545.01 604.49L545.27 604.48L545.54 607.9L545.81 638.41L546.08 650.74L546.35 619.81L546.62 621.58L546.89 606.12L547.15 602.56L547.42 602.13L547.69 613.22L547.96 635.86L548.23 590.91L548.5 614.35L548.77 604.31L549.03 612.25L549.3 609.57L549.57 618.71L549.84 624.88L550.11 602.11L550.38 610.83L550.65 622.67L550.91 590.4L551.18 620.49L551.45 620.4L551.72 649.53L551.99 600.27L552.26 604.17L552.53 596.56L552.79 600.75L553.06 608.24L553.33 610.48L553.6 601.13L553.87 609.07L554.14 612.79L554.41 598.83L554.67 598.53L554.94 593.65L555.21 606.48L555.48 611.99L555.75 600.17L556.02 613.3L556.29 606.22L556.55 608.67L556.82 597.2L557.09 628.96L557.36 624.04L557.63 601.14L557.9 615.6L558.17 604.36L558.43 593.63L558.7 600.45L558.97 609.82L559.24 609.4L559.51 601.16L559.78 611.04L560.04 621.94L560.31 615.49L560.58 611.45L560.85 621.99L561.12 628.83L561.39 599.86L561.66 594.49L561.92 637.8L562.19 648.09L562.46 632.34L562.73 611.87L563 619.01L563.27 616.95L563.54 616.52L563.8 597.14L564.07 621.92L564.34 606.91L564.61 590.54L564.88 616.86L565.15 594.52L565.42 620.1L565.68 593.48L565.95 614.49L566.22 598.67L566.49 606.75L566.76 606.56L567.03 600.39L567.3 623.27L567.56 604.55L567.83 597.71L568.1 613.45L568.37 607.19L568.64 610.6L568.91 630.19L569.18 601.45L569.44 609.85L569.71 619.71L569.98 613.6L570.25 610.25L570.52 617.85L570.79 595.42L571.06 619.77L571.32 613.53L571.59 600.64L571.86 651.38L572.13 623.19L572.4 598.49L572.67 619.93L572.94 610.05L573.2 596.87L573.47 610.39L573.74 601.67L574.01 625.39L574.28 608.12L574.55 600.84L574.82 633.89L575.08 595.7L575.35 603.79L575.62 617.44L575.89 611.57L576.16 623.51L576.43 609.48L576.7 601.56L576.96 612.27L577.23 619.71L577.5 613.84L577.77 626.5L578.04 595.66L578.31 624.22L578.58 602.87L578.84 596.43L579.11 625.65L579.38 611.03L579.65 611.09L579.92 614L580.19 616.84L580.46 603.79L580.72 641.32L580.99 606.51L581.26 631.76L581.53 628.62L581.8 611.17L582.07 596.47L582.33 611.41L582.6 650.75L582.87 609.52L583.14 600.96L583.41 637.81L583.68 615.51L583.95 618.83L584.21 622.19L584.48 603.51L584.75 612.11L585.02 602.98L585.29 624.22L585.56 623.29L585.83 611.73L586.09 596.39L586.36 632.82L586.63 607.71L586.9 626.63L587.17 623.97L587.44 610.32L587.71 625.61L587.97 630.87L588.24 619.58L588.51 606.63L588.78 621.09L589.05 601.47L589.32 614.41L589.59 632.24L589.85 591.51L590.12 597.51L590.39 591.17L590.66 622.54L590.93 599.93L591.2 619.35L591.47 605.64L591.73 589.59L592 600.92L592.27 591.28L592.54 603.42L592.81 609.13L593.08 611.68L593.35 606.95L593.61 597.46L593.88 603.11L594.15 600.8L594.42 598.81L594.69 623.87L594.96 598.38L595.23 607.51L595.49 618.19L595.76 645.66L596.03 603.91L596.3 599.62L596.57 628.49L596.84 595.2L597.11 607.95L597.37 607.52L597.64 610.76L597.91 606.1L598.18 608.84L598.45 635.07L598.72 614.02L598.99 613.7L599.25 631.36L599.52 592.27L599.79 627.85L600.06 606.07L600.33 598.67L600.6 609.42L600.87 610.57L601.13 605.74L601.4 615.61L601.67 621.98L601.94 607.38L602.21 592.94L602.48 624.46L602.75 603.03L603.01 600.1L603.28 616L603.55 596.78L603.82 618.86L604.09 626.68L604.36 600.74L604.62 597.54L604.89 595.65L605.16 641.38L605.43 606.4L605.7 612.93L605.97 616.99L606.24 611.06L606.5 620.99L606.77 636.22L607.04 629.71L607.31 613.52L607.58 598.45L607.85 601.55L608.12 622.12L608.38 603.86L608.65 594.44L608.92 605.97L609.19 648.64L609.46 622.59L609.73 599.65L610 601.03L610.26 603.1L610.53 596.07L610.8 620.02L611.07 611.82L611.34 603.27L611.61 625.68L611.88 630.66L612.14 621.38L612.41 623.34L612.68 590.69L612.95 639.37L613.22 598.92L613.49 621.96L613.76 613.21L614.02 588.56L614.29 604.41L614.56 630.72L614.83 648.94L615.1 603.69L615.37 608.29L615.64 622.43L615.9 618.62L616.17 625.05L616.44 606.16L616.71 614.92L616.98 622.67L617.25 605.96L617.52 620.39L617.78 638.18L618.05 621.94L618.32 637.53L618.59 618.07L618.86 604L619.13 597.92L619.4 605.99L619.66 611.69L619.93 617.85L620.2 609.18L620.47 602.66L620.74 591.25L621.01 603.43L621.28 605.48L621.54 624.52L621.81 600.81L622.08 611.28L622.35 601.01L622.62 617.66L622.89 608.33L623.16 623.19L623.42 598.4L623.69 602.03L623.96 594.53L624.23 597.57L624.5 616.64L624.77 624.15L625.04 594.36L625.3 619.33L625.57 610.99L625.84 626L626.11 621.08L626.38 611.78L626.65 632.4L626.92 604.66L627.18 605.65L627.45 624.69L627.72 621.7L627.99 608.04L628.26 623.59L628.53 617.84L628.79 615.86L629.06 613.55L629.33 614.76L629.6 638.97L629.87 642.34L630.14 614.47L630.41 607.46L630.67 616.55L630.94 632.16L631.21 622.96L631.48 624.94L631.75 605.3L632.02 603.61L632.29 616.81L632.55 608.53L632.82 604.16L633.09 638.9L633.36 619.33L633.63 629.93L633.9 623.51L634.17 601.7L634.43 612.88L634.7 613.2L634.97 614.93L635.24 608.82L635.51 605.94L635.78 612.72L636.05 611.43L636.31 619.15L636.58 616.5L636.85 604.32L637.12 631.44L637.39 611.07L637.66 606.05L637.93 597.97L638.19 607.4L638.46 609.58L638.73 606.51" fill="none" stroke="#0000ff" stroke-width="0.95" stroke-linejoin="round"/><path d="M89 641.56h0M89.27 597.92h0M89.54 621.15h0M89.81 588.87h0M90.07 645.14h0M90.34 610.18h0M90.61 608.54h0M90.88 604.41h0M91.15 603.75h0M91.42 599.57h0M91.69 602.98h0M91.95 614.92h0M92.22 615.49h0M92.49 604.16h0M92.76 607.8h0M93.03 590.16h0M93.3 660.17h0M93.57 629.54h0M93.83 630.37h0M94.1 598.11h0M94.37 597.81h0M94.64 616.31h0M94.91 597.7h0M95.18 597.27h0M95.45 618.68h0M95.71 613.32h0M95.98 609.52h0M96.25 594.26h0M96.52 599.1h0M96.79 610.06h0M97.06 607.95h0M97.33 630.76h0M97.59 602.88h0M97.86 612.14h0M98.13 607.01h0M98.4 616.39h0M98.67 601.61h0M98.94 625.39h0M99.21 640.69h0M99.47 619.23h0M99.74 602.94h0M100.01 629.48h0M100.28 615.61h0M100.55 598.32h0M100.82 600.42h0M101.08 619.93h0M101.35 612.34h0M101.62 597.92h0M101.89 620.72h0M102.16 599.09h0M102.43 610.37h0M102.7 627.58h0M102.96 626.04h0M103.23 608.07h0M103.5 601.44h0M103.77 668.62h0M104.04 614.32h0M104.31 641.27h0M104.58 611.01h0M104.84 599.66h0M105.11 608.56h0M105.38 596.6h0M105.65 614.91h0M105.92 615.57h0M106.19 643.57h0M106.46 635.82h0M106.72 607.25h0M106.99 598.32h0M107.26 621.47h0M107.53 623.82h0M107.8 606.12h0M108.07 595.26h0M108.34 607.24h0M108.6 609.24h0M108.87 612.19h0M109.14 605.98h0M109.41 620.55h0M109.68 616.87h0M109.95 600.03h0M110.22 621.23h0M110.48 597.95h0M110.75 613.01h0M111.02 605.88h0M111.29 596.32h0M111.56 641.75h0M111.83 631.26h0M112.1 598.33h0M112.36 625.87h0M112.63 606.05h0M112.9 645.11h0M113.17 595.72h0M113.44 604.06h0M113.71 609.65h0M113.98 610.41h0M114.24 622.05h0M114.51 632.84h0M114.78 617.3h0M115.05 605.05h0M115.32 603.25h0M115.59 620.79h0M115.86 646h0M116.12 608.23h0M116.39 617.18h0M116.66 632.67h0M116.93 605.5h0M117.2 623.48h0M117.47 653.21h0M117.74 614.96h0M118 626.98h0M118.27 595.27h0M118.54 603.8h0M118.81 613.39h0M119.08 615.47h0M119.35 604.31h0M119.62 591.19h0M119.88 602.68h0M120.15 606.08h0M120.42 630.86h0M120.69 622.31h0M120.96 610.46h0M121.23 619.88h0M121.5 638.07h0M121.76 617.88h0M122.03 594.96h0M122.3 615.08h0M122.57 600.78h0M122.84 594.8h0M123.11 603.5h0M123.38 308.63h0M123.64 639.58h0M123.91 610.49h0M124.18 599.04h0M124.45 599.37h0M124.72 619.64h0M124.99 653.22h0M125.25 627.46h0M125.52 596.81h0M125.79 627.26h0M126.06 623.7h0M126.33 618.64h0M126.6 613.26h0M126.87 610.19h0M127.13 600.16h0M127.4 592.23h0M127.67 598.5h0M127.94 616.93h0M128.21 607.88h0M128.48 597.27h0M128.75 607.59h0M129.01 613.63h0M129.28 598.88h0M129.55 595.09h0M129.82 613.68h0M130.09 589.58h0M130.36 610.59h0M130.63 605.46h0M130.89 630.11h0M131.16 617.91h0M131.43 614.31h0M131.7 620.49h0M131.97 612.2h0M132.24 598.5h0M132.51 623.23h0M132.77 595.66h0M133.04 617.34h0M133.31 625.62h0M133.58 604.68h0M133.85 641.68h0M134.12 626.57h0M134.39 624.23h0M134.65 590.6h0M134.92 606.44h0M135.19 621.93h0M135.46 603.17h0M135.73 602.05h0M136 610.76h0M136.27 627.83h0M136.53 612.89h0M136.8 587.76h0M137.07 598.04h0M137.34 598.96h0M137.61 601.2h0M137.88 617.67h0M138.15 624.15h0M138.41 601.32h0M138.68 615.04h0M138.95 610.32h0M139.22 622.79h0M139.49 644.48h0M139.76 606.87h0M140.03 611.44h0M140.29 600.66h0M140.56 601.22h0M140.83 590.56h0M141.1 602.99h0M141.37 610.18h0M141.64 604.44h0M141.91 608.74h0M142.17 601.7h0M142.44 600.49h0M142.71 619.23h0M142.98 597.24h0M143.25 610.51h0M143.52 605.21h0M143.79 624.69h0M144.05 599.05h0M144.32 600.89h0M144.59 618.09h0M144.86 618.32h0M145.13 636.32h0M145.4 612.07h0M145.67 609.93h0M145.93 597.6h0M146.2 593.72h0M146.47 604.25h0M146.74 587.3h0M147.01 621.09h0M147.28 606.21h0M147.54 597.84h0M147.81 602.23h0M148.08 602.32h0M148.35 641.47h0M148.62 594.91h0M148.89 598.3h0M149.16 634.82h0M149.42 616.36h0M149.69 615.36h0M149.96 605.56h0M150.23 597.04h0M150.5 611.56h0M150.77 609.89h0M151.04 605.45h0M151.3 609.29h0M151.57 597.64h0M151.84 604.91h0M152.11 599.24h0M152.38 596.92h0M152.65 624.69h0M152.92 589.52h0M153.18 595.43h0M153.45 615.53h0M153.72 640.33h0M153.99 627.88h0M154.26 635.79h0M154.53 589.89h0M154.8 595.91h0M155.06 608.43h0M155.33 595.44h0M155.6 605.58h0M155.87 632.44h0M156.14 626h0M156.41 625.95h0M156.68 601.12h0M156.94 596.44h0M157.21 610.69h0M157.48 617.74h0M157.75 595.81h0M158.02 617.39h0M158.29 614.78h0M158.56 606.41h0M158.82 597.21h0M159.09 637.98h0M159.36 593.32h0M159.63 606.65h0M159.9 645.43h0M160.17 615.22h0M160.44 618.71h0M160.7 596.71h0M160.97 619.45h0M161.24 604.85h0M161.51 620.16h0M161.78 608.18h0M162.05 621.26h0M162.32 616.23h0M162.58 624.69h0M162.85 596.87h0M163.12 626h0M163.39 609.55h0M163.66 604.53h0M163.93 627.7h0M164.2 645.34h0M164.46 635.71h0M164.73 613.49h0M165 612.77h0M165.27 613.28h0M165.54 607.35h0M165.81 627.86h0M166.08 589.81h0M166.34 608.11h0M166.61 597.62h0M166.88 605.38h0M167.15 608.38h0M167.42 598.89h0M167.69 603.15h0M167.96 627.69h0M168.22 632.1h0M168.49 598.74h0M168.76 613.26h0M169.03 619.81h0M169.3 637.92h0M169.57 601.9h0M169.83 592.04h0M170.1 645.1h0M170.37 594.7h0M170.64 607.4h0M170.91 601.13h0M171.18 609.59h0M171.45 593.44h0M171.71 606.15h0M171.98 613.53h0M172.25 607.78h0M172.52 614.42h0M172.79 601.93h0M173.06 639.07h0M173.33 619.48h0M173.59 589.08h0M173.86 610.21h0M174.13 615.92h0M174.4 652.53h0M174.67 623.38h0M174.94 596.68h0M175.21 687.3h0M175.47 619.89h0M175.74 594.99h0M176.01 612.1h0M176.28 603.51h0M176.55 618.46h0M176.82 603.24h0M177.09 605.66h0M177.35 602.98h0M177.62 599.82h0M177.89 630.61h0M178.16 594.5h0M178.43 603.05h0M178.7 613.75h0M178.97 622.34h0M179.23 615.04h0M179.5 613.04h0M179.77 619.19h0M180.04 603.66h0M180.31 635.11h0M180.58 614.85h0M180.85 596.74h0M181.11 592.15h0M181.38 598.84h0M181.65 612.51h0M181.92 592.83h0M182.19 622.26h0M182.46 593.18h0M182.73 636.95h0M182.99 587.85h0M183.26 605.27h0M183.53 628.94h0M183.8 622.65h0M184.07 613.43h0M184.34 618.54h0M184.61 597.2h0M184.87 614h0M185.14 626.53h0M185.41 637.26h0M185.68 601.88h0M185.95 636.02h0M186.22 606.8h0M186.49 612.07h0M186.75 617.62h0M187.02 624.28h0M187.29 604.7h0M187.56 619.06h0M187.83 603.72h0M188.1 612.86h0M188.37 652.04h0M188.63 601.14h0M188.9 593.25h0M189.17 616.78h0M189.44 610.95h0M189.71 605.59h0M189.98 596.12h0M190.25 606.81h0M190.51 609.39h0M190.78 611.1h0M191.05 595.24h0M191.32 594.21h0M191.59 608.41h0M191.86 607.9h0M192.12 605.42h0M192.39 597.2h0M192.66 589.49h0M192.93 603.93h0M193.2 640h0M193.47 605.31h0M193.74 611.89h0M194 613.42h0M194.27 610.88h0M194.54 622.41h0M194.81 626.2h0M195.08 605.59h0M195.35 638.11h0M195.62 607.67h0M195.88 608.85h0M196.15 668.57h0M196.42 592.26h0M196.69 600.24h0M196.96 588.95h0M197.23 598.08h0M197.5 607.21h0M197.76 633.34h0M198.03 652.69h0M198.3 608.27h0M198.57 601.86h0M198.84 621.37h0M199.11 614.65h0M199.38 589.65h0M199.64 611.21h0M199.91 623.51h0M200.18 597.01h0M200.45 613.02h0M200.72 624.95h0M200.99 626.25h0M201.26 610.41h0M201.52 621.72h0M201.79 693.91h0M202.06 613.76h0M202.33 599.91h0M202.6 611.72h0M202.87 635.12h0M203.14 632.16h0M203.4 603.84h0M203.67 604.22h0M203.94 607.04h0M204.21 600.62h0M204.48 635.23h0M204.75 613.95h0M205.02 606.52h0M205.28 616.82h0M205.55 621.64h0M205.82 602.85h0M206.09 603.32h0M206.36 590.46h0M206.63 612.19h0M206.9 618.78h0M207.16 599.79h0M207.43 624.33h0M207.7 633.36h0M207.97 607.33h0M208.24 595.41h0M208.51 642.31h0M208.78 617h0M209.04 614.05h0M209.31 628.23h0M209.58 640.85h0M209.85 615.17h0M210.12 625.84h0M210.39 611.47h0M210.66 604.86h0M210.92 604.59h0M211.19 605.73h0M211.46 594.35h0M211.73 604.2h0M212 631.61h0M212.27 642.31h0M212.54 603.5h0M212.8 603.43h0M213.07 593.72h0M213.34 616.67h0M213.61 600.79h0M213.88 607.22h0M214.15 618.03h0M214.42 597.86h0M214.68 610.3h0M214.95 602.54h0M215.22 602.95h0M215.49 615.84h0M215.76 612.07h0M216.03 603.19h0M216.29 605.24h0M216.56 601.79h0M216.83 599.15h0M217.1 600.87h0M217.37 597.07h0M217.64 613.26h0M217.91 609.53h0M218.17 599.07h0M218.44 605.17h0M218.71 604.42h0M218.98 623.3h0M219.25 619.19h0M219.52 643.42h0M219.79 607.29h0M220.05 613.64h0M220.32 607.5h0M220.59 604.33h0M220.86 616.27h0M221.13 606.83h0M221.4 594.65h0M221.67 612.49h0M221.93 615.04h0M222.2 605.99h0M222.47 654.3h0M222.74 622.94h0M223.01 617.51h0M223.28 607.07h0M223.55 623.37h0M223.81 602.69h0M224.08 642.3h0M224.35 625.38h0M224.62 593.71h0M224.89 608.78h0M225.16 599.65h0M225.43 634.24h0M225.69 619.57h0M225.96 605.88h0M226.23 626.4h0M226.5 590.75h0M226.77 601.08h0M227.04 601.24h0M227.31 668.88h0M227.57 603.75h0M227.84 641.74h0M228.11 614.47h0M228.38 670.63h0M228.65 619.14h0M228.92 597.42h0M229.19 608.95h0M229.45 613.2h0M229.72 597.23h0M229.99 597.22h0M230.26 589.6h0M230.53 610.42h0M230.8 600.98h0M231.07 651.17h0M231.33 619.68h0M231.6 618.56h0M231.87 643.83h0M232.14 596.88h0M232.41 607.24h0M232.68 602.59h0M232.95 613.88h0M233.21 663.38h0M233.48 626.89h0M233.75 633.9h0M234.02 616.8h0M234.29 643.85h0M234.56 637.39h0M234.83 601.86h0M235.09 602.78h0M235.36 601.05h0M235.63 601.02h0M235.9 610.91h0M236.17 607.13h0M236.44 621.72h0M236.71 637.22h0M236.97 618.08h0M237.24 609.53h0M237.51 609.31h0M237.78 604h0M238.05 591.92h0M238.32 604.28h0M238.58 621.24h0M238.85 607.78h0M239.12 606.28h0M239.39 638.93h0M239.66 631.08h0M239.93 602.54h0M240.2 595.85h0M240.46 649.39h0M240.73 618.62h0M241 616.85h0M241.27 596.29h0M241.54 621.95h0M241.81 622.77h0M242.08 621.06h0M242.34 626.38h0M242.61 618.11h0M242.88 595.64h0M243.15 594.65h0M243.42 602.54h0M243.69 621.06h0M243.96 624.25h0M244.22 617.09h0M244.49 597.68h0M244.76 626.51h0M245.03 599.03h0M245.3 608.8h0M245.57 609.62h0M245.84 618.03h0M246.1 620.82h0M246.37 637.06h0M246.64 618.78h0M246.91 636.45h0M247.18 616.89h0M247.45 598.23h0M247.72 602.4h0M247.98 641.35h0M248.25 605.48h0M248.52 650.83h0M248.79 636.08h0M249.06 613.07h0M249.33 603.29h0M249.6 605.48h0M249.86 620.75h0M250.13 632.97h0M250.4 637.14h0M250.67 609.03h0M250.94 605.04h0M251.21 593.84h0M251.48 611.49h0M251.74 612.26h0M252.01 614.64h0M252.28 605.26h0M252.55 621.41h0M252.82 684.32h0M253.09 593.54h0M253.36 593.71h0M253.62 615.34h0M253.89 624.93h0M254.16 602.83h0M254.43 629.99h0M254.7 591.55h0M254.97 609.52h0M255.24 615.24h0M255.5 614.08h0M255.77 606.7h0M256.04 602.86h0M256.31 614.52h0M256.58 607.39h0M256.85 609.98h0M257.12 650.32h0M257.38 632.47h0M257.65 627.3h0M257.92 608.74h0M258.19 606.59h0M258.46 589.97h0M258.73 611.17h0M259 652.59h0M259.26 610.3h0M259.53 630.18h0M259.8 611.04h0M260.07 595.17h0M260.34 602.36h0M260.61 607.3h0M260.88 602.71h0M261.14 609h0M261.41 604.74h0M261.68 613.31h0M261.95 623.85h0M262.22 598.63h0M262.49 597.83h0M262.75 626.65h0M263.02 638.08h0M263.29 602.86h0M263.56 632.39h0M263.83 626.62h0M264.1 598.76h0M264.37 624.91h0M264.63 592.99h0M264.9 603.37h0M265.17 612.16h0M265.44 616.87h0M265.71 598.02h0M265.98 614.68h0M266.25 625.71h0M266.51 600.86h0M266.78 594.38h0M267.05 639.52h0M267.32 616.01h0M267.59 606.03h0M267.86 606.61h0M268.13 597.69h0M268.39 597.4h0M268.66 590.86h0M268.93 597.47h0M269.2 614.5h0M269.47 608.73h0M269.74 594.16h0M270.01 626.65h0M270.27 624.82h0M270.54 636.37h0M270.81 611.65h0M271.08 617.29h0M271.35 604.39h0M271.62 613.86h0M271.89 618.24h0M272.15 609.95h0M272.42 633.36h0M272.69 616.02h0M272.96 595.04h0M273.23 612.81h0M273.5 614.53h0M273.77 606.01h0M274.03 652.17h0M274.3 601h0M274.57 645.17h0M274.84 611.72h0M275.11 619.29h0M275.38 641.61h0M275.65 602.95h0M275.91 594.45h0M276.18 595.54h0M276.45 607.02h0M276.72 624.13h0M276.99 597.67h0M277.26 612.12h0M277.53 610.34h0M277.79 611.82h0M278.06 593.13h0M278.33 627.42h0M278.6 598.3h0M278.87 605.31h0M279.14 601.42h0M279.41 599.22h0M279.67 622.04h0M279.94 598.54h0M280.21 603.5h0M280.48 605.43h0M280.75 600.28h0M281.02 634.32h0M281.29 612.82h0M281.55 606.93h0M281.82 612.15h0M282.09 612.78h0M282.36 605.94h0M282.63 597.02h0M282.9 590.85h0M283.17 594.84h0M283.43 639.19h0M283.7 607.55h0M283.97 624.85h0M284.24 602.76h0M284.51 611.3h0M284.78 609.31h0M285.04 611.13h0M285.31 610.28h0M285.58 634.28h0M285.85 612.22h0M286.12 595.82h0M286.39 642.98h0M286.66 613.18h0M286.92 624.04h0M287.19 629.15h0M287.46 614.7h0M287.73 627.21h0M288 615.5h0M288.27 603.36h0M288.54 609.28h0M288.8 641.38h0M289.07 603.28h0M289.34 613.38h0M289.61 620.91h0M289.88 594.18h0M290.15 632.49h0M290.42 654.05h0M290.68 600.88h0M290.95 645.75h0M291.22 610.3h0M291.49 605.18h0M291.76 601.55h0M292.03 636.61h0M292.3 630.73h0M292.56 619.27h0M292.83 617.33h0M293.1 597.47h0M293.37 596.71h0M293.64 606.05h0M293.91 593.88h0M294.18 620.41h0M294.44 601.33h0M294.71 596.64h0M294.98 601.27h0M295.25 605.25h0M295.52 597.76h0M295.79 615.26h0M296.06 595.02h0M296.32 609.93h0M296.59 626.61h0M296.86 590.07h0M297.13 592.2h0M297.4 620.24h0M297.67 598.29h0M297.94 606.27h0M298.2 611.18h0M298.47 609.47h0M298.74 607.83h0M299.01 615.23h0M299.28 631.82h0M299.55 616.93h0M299.82 599.16h0M300.08 610.3h0M300.35 621.44h0M300.62 643.31h0M300.89 604.49h0M301.16 590.47h0M301.43 636.45h0M301.7 588.61h0M301.96 618.99h0M302.23 597.02h0M302.5 623.5h0M302.77 619.23h0M303.04 606.12h0M303.31 616.18h0M303.58 626.86h0M303.84 618.84h0M304.11 624.81h0M304.38 613.42h0M304.65 606.92h0M304.92 621.31h0M305.19 615.37h0M305.46 624.51h0M305.72 604.27h0M305.99 607.21h0M306.26 604h0M306.53 593.45h0M306.8 614.07h0M307.07 625.82h0M307.33 608.08h0M307.6 588.46h0M307.87 616.39h0M308.14 620.15h0M308.41 619.48h0M308.68 607.82h0M308.95 589.89h0M309.21 597.89h0M309.48 659.57h0M309.75 593.4h0M310.02 607.07h0M310.29 596.2h0M310.56 599.08h0M310.83 605.32h0M311.09 620.41h0M311.36 595.58h0M311.63 630.2h0M311.9 605.29h0M312.17 598.46h0M312.44 632.73h0M312.71 629.83h0M312.97 612.8h0M313.24 599.11h0M313.51 630.46h0M313.78 598.19h0M314.05 646.95h0M314.32 603.86h0M314.59 609.69h0M314.85 607.42h0M315.12 604.3h0M315.39 610.52h0M315.66 606.27h0M315.93 609.87h0M316.2 636.36h0M316.47 602.68h0M316.73 616.45h0M317 633.5h0M317.27 634.17h0M317.54 614.82h0M317.81 614.32h0M318.08 622.4h0M318.35 617.29h0M318.61 614.22h0M318.88 599.76h0M319.15 613.59h0M319.42 618.82h0M319.69 650.23h0M319.96 589.61h0M320.23 602.25h0M320.49 623.04h0M320.76 618.11h0M321.03 610.89h0M321.3 582.2h0M321.57 611.44h0M321.84 615.64h0M322.11 601.35h0M322.37 614.78h0M322.64 613.75h0M322.91 617.22h0M323.18 592.67h0M323.45 607.19h0M323.72 618.26h0M323.99 613.19h0M324.25 620.57h0M324.52 624.66h0M324.79 599.9h0M325.06 623.48h0M325.33 634.66h0M325.6 605.63h0M325.87 615.48h0M326.13 647.69h0M326.4 601.76h0M326.67 627.56h0M326.94 603.25h0M327.21 607.25h0M327.48 612.67h0M327.75 601.78h0M328.01 611.55h0M328.28 589.87h0M328.55 626.59h0M328.82 622.56h0M329.09 611.08h0M329.36 596.22h0M329.62 596.99h0M329.89 598.68h0M330.16 612.83h0M330.43 611.57h0M330.7 592.13h0M330.97 628.47h0M331.24 639.49h0M331.5 605.8h0M331.77 614.28h0M332.04 607.45h0M332.31 610.44h0M332.58 630.45h0M332.85 611.85h0M333.12 593.26h0M333.38 644.96h0M333.65 599.97h0M333.92 611.47h0M334.19 621.63h0M334.46 631.64h0M334.73 600.06h0M335 617.61h0M335.26 620h0M335.53 605.12h0M335.8 616.94h0M336.07 611.64h0M336.34 602.98h0M336.61 610.23h0M336.88 618.39h0M337.14 606.89h0M337.41 622.61h0M337.68 614.22h0M337.95 608.06h0M338.22 598.91h0M338.49 606.66h0M338.76 602.42h0M339.02 645.68h0M339.29 600.91h0M339.56 608.28h0M339.83 621.76h0M340.1 613.86h0M340.37 621.49h0M340.64 626.6h0M340.9 618.12h0M341.17 611.75h0M341.44 655.41h0M341.71 612.01h0M341.98 606.42h0M342.25 608.49h0M342.52 618.9h0M342.78 597.79h0M343.05 635.7h0M343.32 618.55h0M343.59 594.23h0M343.86 605.61h0M344.13 622.72h0M344.4 619.38h0M344.66 606.14h0M344.93 589.05h0M345.2 603.98h0M345.47 614.32h0M345.74 603.73h0M346.01 619.61h0M346.28 604.87h0M346.54 588.66h0M346.81 631.73h0M347.08 613.07h0M347.35 632.82h0M347.62 659.58h0M347.89 605.81h0M348.16 604.43h0M348.42 600.31h0M348.69 601.06h0M348.96 645.69h0M349.23 601.57h0M349.5 615.15h0M349.77 596.32h0M350.04 616.27h0M350.3 608.17h0M350.57 599.92h0M350.84 594.06h0M351.11 650h0M351.38 628.52h0M351.65 616.39h0M351.92 611.03h0M352.18 614.57h0M352.45 606.32h0M352.72 626.09h0M352.99 632.23h0M353.26 605.73h0M353.53 598.18h0M353.79 628.18h0M354.06 594.39h0M354.33 604.17h0M354.6 614.47h0M354.87 597.79h0M355.14 612.07h0M355.41 606.6h0M355.67 598.85h0M355.94 622.44h0M356.21 597.96h0M356.48 660.06h0M356.75 606.13h0M357.02 607.66h0M357.29 606.98h0M357.55 614.92h0M357.82 595.3h0M358.09 606.44h0M358.36 607.07h0M358.63 607.67h0M358.9 611.96h0M359.17 643.85h0M359.43 609.34h0M359.7 600.97h0M359.97 617.76h0M360.24 613.9h0M360.51 628.57h0M360.78 634.19h0M361.05 639.46h0M361.31 602.21h0M361.58 616.07h0M361.85 608.7h0M362.12 634.5h0M362.39 600.31h0M362.66 648.69h0M362.93 632.8h0M363.19 624.21h0M363.46 635.83h0M363.73 605.47h0M364 597.72h0M364.27 619h0M364.54 607.95h0M364.81 601.16h0M365.07 611.56h0M365.34 615.77h0M365.61 649.81h0M365.88 642.9h0M366.15 644.39h0M366.42 617.38h0M366.69 603.44h0M366.95 622.74h0M367.22 603.12h0M367.49 615.08h0M367.76 616.6h0M368.03 614.59h0M368.3 605.18h0M368.57 615.44h0M368.83 602.85h0M369.1 602.36h0M369.37 617.71h0M369.64 611.86h0M369.91 595.97h0M370.18 614.2h0M370.45 594.51h0M370.71 614.8h0M370.98 608.6h0M371.25 611.81h0M371.52 607.85h0M371.79 608.02h0M372.06 613.95h0M372.33 654.56h0M372.59 629.96h0M372.86 594.43h0M373.13 609.33h0M373.4 610.79h0M373.67 602.02h0M373.94 597.28h0M374.21 615.81h0M374.47 601.22h0M374.74 599.64h0M375.01 626.64h0M375.28 603.24h0M375.55 620.64h0M375.82 611.58h0M376.08 599.88h0M376.35 604.3h0M376.62 600.21h0M376.89 603.39h0M377.16 609.09h0M377.43 603.4h0M377.7 593.95h0M377.96 616.79h0M378.23 608.17h0M378.5 607.67h0M378.77 614.86h0M379.04 605.84h0M379.31 600.73h0M379.58 607.92h0M379.84 607.11h0M380.11 593.69h0M380.38 610.76h0M380.65 598.21h0M380.92 597.05h0M381.19 612.67h0M381.46 606.52h0M381.72 622.54h0M381.99 648.2h0M382.26 609.41h0M382.53 650.19h0M382.8 605.52h0M383.07 603.38h0M383.34 627.87h0M383.6 642.76h0M383.87 632.91h0M384.14 599.48h0M384.41 599.16h0M384.68 606.2h0M384.95 620.05h0M385.22 626.66h0M385.48 615.35h0M385.75 622.68h0M386.02 608.86h0M386.29 615.19h0M386.56 627.38h0M386.83 603.86h0M387.1 595.92h0M387.36 623.68h0M387.63 617.01h0M387.9 611.44h0M388.17 595.62h0M388.44 602.52h0M388.71 612.45h0M388.98 641.13h0M389.24 584.52h0M389.51 625.88h0M389.78 646.4h0M390.05 594.05h0M390.32 624.84h0M390.59 597.8h0M390.86 622.42h0M391.12 605.61h0M391.39 625.17h0M391.66 605.43h0M391.93 640.69h0M392.2 621.43h0M392.47 605.98h0M392.74 605.26h0M393 599.7h0M393.27 623.77h0M393.54 609.96h0M393.81 617.02h0M394.08 626.03h0M394.35 625.66h0M394.62 624.46h0M394.88 631.16h0M395.15 620.56h0M395.42 630.39h0M395.69 639.97h0M395.96 599.07h0M396.23 592.33h0M396.5 605.64h0M396.76 614.67h0M397.03 602.86h0M397.3 620.72h0M397.57 628.29h0M397.84 614.45h0M398.11 592.82h0M398.38 604.11h0M398.64 599.12h0M398.91 595.91h0M399.18 610.17h0M399.45 595.41h0M399.72 608.11h0M399.99 614.07h0M400.25 619.69h0M400.52 616.65h0M400.79 608.39h0M401.06 598.21h0M401.33 595.83h0M401.6 626.34h0M401.87 629.87h0M402.13 617.82h0M402.4 601.4h0M402.67 638.86h0M402.94 612.81h0M403.21 670.02h0M403.48 607.42h0M403.75 602.81h0M404.01 629.58h0M404.28 622.25h0M404.55 596.71h0M404.82 600.21h0M405.09 611.28h0M405.36 607.33h0M405.63 596.66h0M405.89 613.56h0M406.16 606.79h0M406.43 621.1h0M406.7 599h0M406.97 607.45h0M407.24 620.54h0M407.51 642.34h0M407.77 621.95h0M408.04 602.54h0M408.31 607.38h0M408.58 605.28h0M408.85 625.93h0M409.12 629.51h0M409.39 619.27h0M409.65 625.09h0M409.92 600.54h0M410.19 621.41h0M410.46 615.35h0M410.73 606.4h0M411 608.82h0M411.27 614.87h0M411.53 602.82h0M411.8 603.39h0M412.07 615.96h0M412.34 615.54h0M412.61 615.99h0M412.88 603.39h0M413.15 590.58h0M413.41 617.73h0M413.68 620.86h0M413.95 615.12h0M414.22 599.41h0M414.49 612.85h0M414.76 615.75h0M415.03 611.13h0M415.29 607.79h0M415.56 610.29h0M415.83 598.99h0M416.1 631.69h0M416.37 614.2h0M416.64 613.52h0M416.91 622.82h0M417.17 633.03h0M417.44 604.8h0M417.71 600.84h0M417.98 616.41h0M418.25 623.45h0M418.52 643.62h0M418.79 639.27h0M419.05 601.78h0M419.32 633.62h0M419.59 612.68h0M419.86 611.9h0M420.13 626.26h0M420.4 596.77h0M420.67 607.5h0M420.93 631.93h0M421.2 623.16h0M421.47 602.16h0M421.74 610.58h0M422.01 629.88h0M422.28 609.51h0M422.54 591.61h0M422.81 634.79h0M423.08 631.44h0M423.35 616.23h0M423.62 619.04h0M423.89 601.15h0M424.16 603.22h0M424.42 609.99h0M424.69 605.08h0M424.96 602.69h0M425.23 614.21h0M425.5 635.08h0M425.77 608.74h0M426.04 598.54h0M426.3 585.59h0M426.57 609.13h0M426.84 627.47h0M427.11 629.65h0M427.38 612.52h0M427.65 621.5h0M427.92 602.63h0M428.18 623h0M428.45 606.1h0M428.72 637.98h0M428.99 629.84h0M429.26 615.03h0M429.53 614.82h0M429.8 604.9h0M430.06 600.92h0M430.33 605.24h0M430.6 611.99h0M430.87 631.4h0M431.14 609.21h0M431.41 610.93h0M431.68 630.29h0M431.94 617.57h0M432.21 608.37h0M432.48 614.89h0M432.75 622.84h0M433.02 599.37h0M433.29 620.81h0M433.56 610.15h0M433.82 612.6h0M434.09 633.29h0M434.36 588.96h0M434.63 587.19h0M434.9 619.4h0M435.17 606.65h0M435.44 630.76h0M435.7 587.85h0M435.97 621.15h0M436.24 596.33h0M436.51 607.4h0M436.78 623.33h0M437.05 610.75h0M437.32 617.72h0M437.58 599.58h0M437.85 603.96h0M438.12 642.5h0M438.39 584.68h0M438.66 607.76h0M438.93 608.12h0M439.2 616.53h0M439.46 612.54h0M439.73 640.88h0M440 614.78h0M440.27 624.73h0M440.54 633.32h0M440.81 607.53h0M441.08 593.94h0M441.34 588.89h0M441.61 676.86h0M441.88 598.12h0M442.15 621.44h0M442.42 603.01h0M442.69 603.64h0M442.96 622.07h0M443.22 604.71h0M443.49 636.43h0M443.76 595.65h0M444.03 600.53h0M444.3 599.19h0M444.57 615.56h0M444.83 623.65h0M445.1 609.48h0M445.37 620.23h0M445.64 610.67h0M445.91 618.77h0M446.18 590.2h0M446.45 617h0M446.71 604.95h0M446.98 599.22h0M447.25 631.13h0M447.52 622.46h0M447.79 614.13h0M448.06 621.49h0M448.33 623.98h0M448.59 624.13h0M448.86 623.56h0M449.13 598.67h0M449.4 614.95h0M449.67 621.33h0M449.94 635.18h0M450.21 635.29h0M450.47 610.68h0M450.74 621.13h0M451.01 600.91h0M451.28 601.39h0M451.55 603.42h0M451.82 625.62h0M452.09 624.49h0M452.35 600.93h0M452.62 606.18h0M452.89 598.9h0M453.16 615.13h0M453.43 628.56h0M453.7 615.65h0M453.97 599.43h0M454.23 608.3h0M454.5 599.71h0M454.77 618.26h0M455.04 624.12h0M455.31 604.77h0M455.58 611.53h0M455.85 616.65h0M456.11 631.3h0M456.38 622.46h0M456.65 608.72h0M456.92 618.43h0M457.19 628.12h0M457.46 617.41h0M457.73 598.76h0M457.99 605.35h0M458.26 590.8h0M458.53 606.38h0M458.8 600.59h0M459.07 602.95h0M459.34 608.71h0M459.61 593.38h0M459.87 613.18h0M460.14 629.7h0M460.41 603.05h0M460.68 638.99h0M460.95 601.54h0M461.22 621.32h0M461.49 635.68h0M461.75 596.92h0M462.02 605.09h0M462.29 613.03h0M462.56 611.99h0M462.83 611.27h0M463.1 588.58h0M463.37 596.42h0M463.63 628.01h0M463.9 629.99h0M464.17 616h0M464.44 627.25h0M464.71 598.58h0M464.98 613.52h0M465.25 607.48h0M465.51 618.76h0M465.78 594.94h0M466.05 622.29h0M466.32 623.3h0M466.59 614.52h0M466.86 625.15h0M467.12 601.68h0M467.39 604.56h0M467.66 597.13h0M467.93 600.86h0M468.2 643.47h0M468.47 601.04h0M468.74 605.27h0M469 612.24h0M469.27 612.16h0M469.54 606.82h0M469.81 598.05h0M470.08 599.59h0M470.35 603.43h0M470.62 627.09h0M470.88 618.8h0M471.15 587.78h0M471.42 635.65h0M471.69 613.25h0M471.96 629.33h0M472.23 600.66h0M472.5 634.84h0M472.76 618.03h0M473.03 627.15h0M473.3 626.28h0M473.57 605.65h0M473.84 607.48h0M474.11 631.57h0M474.38 605.31h0M474.64 608.74h0M474.91 607.01h0M475.18 594.23h0M475.45 601.45h0M475.72 610.72h0M475.99 629.06h0M476.26 614.02h0M476.52 622.16h0M476.79 603.46h0M477.06 601.48h0M477.33 611.71h0M477.6 623.11h0M477.87 615.19h0M478.14 648.53h0M478.4 605.97h0M478.67 619.6h0M478.94 592.47h0M479.21 613.57h0M479.48 610.78h0M479.75 601.8h0M480.02 645.99h0M480.28 610.7h0M480.55 596.03h0M480.82 603.96h0M481.09 603.04h0M481.36 595.68h0M481.63 627.83h0M481.9 635.66h0M482.16 604.17h0M482.43 610.35h0M482.7 600.9h0M482.97 636.15h0M483.24 655.25h0M483.51 593.02h0M483.78 604.12h0M484.04 594.48h0M484.31 619.93h0M484.58 601.85h0M484.85 614.02h0M485.12 639.2h0M485.39 595.87h0M485.66 629.14h0M485.92 601.2h0M486.19 623.16h0M486.46 607.33h0M486.73 612.47h0M487 606.05h0M487.27 603.71h0M487.54 601.04h0M487.8 604.93h0M488.07 614.31h0M488.34 606.82h0M488.61 610.76h0M488.88 610.94h0M489.15 593.29h0M489.42 600.6h0M489.68 607.69h0M489.95 606.17h0M490.22 650.18h0M490.49 645.77h0M490.76 596.97h0M491.03 598.51h0M491.29 610.77h0M491.56 601.54h0M491.83 598.92h0M492.1 616.69h0M492.37 624.38h0M492.64 631.16h0M492.91 599.72h0M493.17 596.05h0M493.44 600.92h0M493.71 592.15h0M493.98 604.23h0M494.25 632.38h0M494.52 597.66h0M494.79 631.45h0M495.05 597.95h0M495.32 606.8h0M495.59 597.55h0M495.86 625.55h0M496.13 609.33h0M496.4 608.07h0M496.67 602.16h0M496.93 614.35h0M497.2 624.62h0M497.47 613.05h0M497.74 633.24h0M498.01 633.7h0M498.28 655.11h0M498.55 599.82h0M498.81 620h0M499.08 616.19h0M499.35 609.06h0M499.62 612.36h0M499.89 610h0M500.16 626.64h0M500.43 597.98h0M500.69 605.15h0M500.96 594.06h0M501.23 625.76h0M501.5 609.52h0M501.77 610.11h0M502.04 590.07h0M502.31 624.6h0M502.57 612h0M502.84 595.55h0M503.11 618.27h0M503.38 643.68h0M503.65 612.07h0M503.92 642.61h0M504.19 648.26h0M504.45 608.98h0M504.72 649.26h0M504.99 620.72h0M505.26 610.46h0M505.53 642.41h0M505.8 619.22h0M506.07 622.93h0M506.33 621.08h0M506.6 597.77h0M506.87 622.26h0M507.14 606.36h0M507.41 614.26h0M507.68 611.64h0M507.95 598.91h0M508.21 612.24h0M508.48 605.55h0M508.75 626.28h0M509.02 605.47h0M509.29 618.79h0M509.56 617.51h0M509.83 638.12h0M510.09 597.12h0M510.36 623.28h0M510.63 613.89h0M510.9 603.28h0M511.17 607.75h0M511.44 627.05h0M511.71 644.56h0M511.97 618.09h0M512.24 610.05h0M512.51 614.15h0M512.78 600.27h0M513.05 610.76h0M513.32 625.29h0M513.58 611.31h0M513.85 600.21h0M514.12 637.32h0M514.39 640.82h0M514.66 634.09h0M514.93 613.8h0M515.2 599.7h0M515.46 614.51h0M515.73 616.97h0M516 602.59h0M516.27 605.19h0M516.54 602.25h0M516.81 621.94h0M517.08 611.84h0M517.34 607.58h0M517.61 592.95h0M517.88 621.29h0M518.15 603.69h0M518.42 603.06h0M518.69 623.21h0M518.96 591.24h0M519.22 631.14h0M519.49 609.08h0M519.76 610.87h0M520.03 635.35h0M520.3 620.51h0M520.57 604.95h0M520.84 622.17h0M521.1 628.51h0M521.37 604.11h0M521.64 601.36h0M521.91 619.17h0M522.18 588.41h0M522.45 605.77h0M522.72 625.42h0M522.98 617.31h0M523.25 596.53h0M523.52 619.48h0M523.79 601.3h0M524.06 607.03h0M524.33 593.57h0M524.6 619.32h0M524.86 598.86h0M525.13 633.02h0M525.4 624.67h0M525.67 591.25h0M525.94 607.3h0M526.21 611.63h0M526.48 642.71h0M526.74 620.86h0M527.01 607.55h0M527.28 616.23h0M527.55 609.92h0M527.82 614.15h0M528.09 597.46h0M528.36 599.77h0M528.62 600.95h0M528.89 610.64h0M529.16 617.74h0M529.43 625.65h0M529.7 604.47h0M529.97 606.83h0M530.24 622.06h0M530.5 602.49h0M530.77 643.69h0M531.04 597.61h0M531.31 613.43h0M531.58 606.84h0M531.85 627.64h0M532.12 632.02h0M532.38 626.33h0M532.65 611.44h0M532.92 600.29h0M533.19 602.64h0M533.46 610.55h0M533.73 628.21h0M534 601.52h0M534.26 623.77h0M534.53 613.58h0M534.8 607.99h0M535.07 611.19h0M535.34 596.32h0M535.61 606.32h0M535.88 616.43h0M536.14 621.66h0M536.41 632.45h0M536.68 613.7h0M536.95 591.45h0M537.22 605.13h0M537.49 619.46h0M537.75 613.47h0M538.02 637.02h0M538.29 633.68h0M538.56 632.9h0M538.83 618.47h0M539.1 612.49h0M539.37 628.14h0M539.63 647.03h0M539.9 622h0M540.17 595.01h0M540.44 602.28h0M540.71 592.98h0M540.98 622.86h0M541.25 627.3h0M541.51 665.87h0M541.78 599.01h0M542.05 619.32h0M542.32 605.85h0M542.59 617.91h0M542.86 620.92h0M543.13 601.35h0M543.39 615.14h0M543.66 613.22h0M543.93 653.53h0M544.2 610.05h0M544.47 618.07h0M544.74 610.58h0M545.01 604.49h0M545.27 604.48h0M545.54 607.9h0M545.81 638.41h0M546.08 650.74h0M546.35 619.81h0M546.62 621.58h0M546.89 606.12h0M547.15 602.56h0M547.42 602.13h0M547.69 613.22h0M547.96 635.86h0M548.23 590.91h0M548.5 614.35h0M548.77 604.31h0M549.03 612.25h0M549.3 609.57h0M549.57 618.71h0M549.84 624.88h0M550.11 602.11h0M550.38 610.83h0M550.65 622.67h0M550.91 590.4h0M551.18 620.49h0M551.45 620.4h0M551.72 649.53h0M551.99 600.27h0M552.26 604.17h0M552.53 596.56h0M552.79 600.75h0M553.06 608.24h0M553.33 610.48h0M553.6 601.13h0M553.87 609.07h0M554.14 612.79h0M554.41 598.83h0M554.67 598.53h0M554.94 593.65h0M555.21 606.48h0M555.48 611.99h0M555.75 600.17h0M556.02 613.3h0M556.29 606.22h0M556.55 608.67h0M556.82 597.2h0M557.09 628.96h0M557.36 624.04h0M557.63 601.14h0M557.9 615.6h0M558.17 604.36h0M558.43 593.63h0M558.7 600.45h0M558.97 609.82h0M559.24 609.4h0M559.51 601.16h0M559.78 611.04h0M560.04 621.94h0M560.31 615.49h0M560.58 611.45h0M560.85 621.99h0M561.12 628.83h0M561.39 599.86h0M561.66 594.49h0M561.92 637.8h0M562.19 648.09h0M562.46 632.34h0M562.73 611.87h0M563 619.01h0M563.27 616.95h0M563.54 616.52h0M563.8 597.14h0M564.07 621.92h0M564.34 606.91h0M564.61 590.54h0M564.88 616.86h0M565.15 594.52h0M565.42 620.1h0M565.68 593.48h0M565.95 614.49h0M566.22 598.67h0M566.49 606.75h0M566.76 606.56h0M567.03 600.39h0M567.3 623.27h0M567.56 604.55h0M567.83 597.71h0M568.1 613.45h0M568.37 607.19h0M568.64 610.6h0M568.91 630.19h0M569.18 601.45h0M569.44 609.85h0M569.71 619.71h0M569.98 613.6h0M570.25 610.25h0M570.52 617.85h0M570.79 595.42h0M571.06 619.77h0M571.32 613.53h0M571.59 600.64h0M571.86 651.38h0M572.13 623.19h0M572.4 598.49h0M572.67 619.93h0M572.94 610.05h0M573.2 596.87h0M573.47 610.39h0M573.74 601.67h0M574.01 625.39h0M574.28 608.12h0M574.55 600.84h0M574.82 633.89h0M575.08 595.7h0M575.35 603.79h0M575.62 617.44h0M575.89 611.57h0M576.16 623.51h0M576.43 609.48h0M576.7 601.56h0M576.96 612.27h0M577.23 619.71h0M577.5 613.84h0M577.77 626.5h0M578.04 595.66h0M578.31 624.22h0M578.58 602.87h0M578.84 596.43h0M579.11 625.65h0M579.38 611.03h0M579.65 611.09h0M579.92 614h0M580.19 616.84h0M580.46 603.79h0M580.72 641.32h0M580.99 606.51h0M581.26 631.76h0M581.53 628.62h0M581.8 611.17h0M582.07 596.47h0M582.33 611.41h0M582.6 650.75h0M582.87 609.52h0M583.14 600.96h0M583.41 637.81h0M583.68 615.51h0M583.95 618.83h0M584.21 622.19h0M584.48 603.51h0M584.75 612.11h0M585.02 602.98h0M585.29 624.22h0M585.56 623.29h0M585.83 611.73h0M586.09 596.39h0M586.36 632.82h0M586.63 607.71h0M586.9 626.63h0M587.17 623.97h0M587.44 610.32h0M587.71 625.61h0M587.97 630.87h0M588.24 619.58h0M588.51 606.63h0M588.78 621.09h0M589.05 601.47h0M589.32 614.41h0M589.59 632.24h0M589.85 591.51h0M590.12 597.51h0M590.39 591.17h0M590.66 622.54h0M590.93 599.93h0M591.2 619.35h0M591.47 605.64h0M591.73 589.59h0M592 600.92h0M592.27 591.28h0M592.54 603.42h0M592.81 609.13h0M593.08 611.68h0M593.35 606.95h0M593.61 597.46h0M593.88 603.11h0M594.15 600.8h0M594.42 598.81h0M594.69 623.87h0M594.96 598.38h0M595.23 607.51h0M595.49 618.19h0M595.76 645.66h0M596.03 603.91h0M596.3 599.62h0M596.57 628.49h0M596.84 595.2h0M597.11 607.95h0M597.37 607.52h0M597.64 610.76h0M597.91 606.1h0M598.18 608.84h0M598.45 635.07h0M598.72 614.02h0M598.99 613.7h0M599.25 631.36h0M599.52 592.27h0M599.79 627.85h0M600.06 606.07h0M600.33 598.67h0M600.6 609.42h0M600.87 610.57h0M601.13 605.74h0M601.4 615.61h0M601.67 621.98h0M601.94 607.38h0M602.21 592.94h0M602.48 624.46h0M602.75 603.03h0M603.01 600.1h0M603.28 616h0M603.55 596.78h0M603.82 618.86h0M604.09 626.68h0M604.36 600.74h0M604.62 597.54h0M604.89 595.65h0M605.16 641.38h0M605.43 606.4h0M605.7 612.93h0M605.97 616.99h0M606.24 611.06h0M606.5 620.99h0M606.77 636.22h0M607.04 629.71h0M607.31 613.52h0M607.58 598.45h0M607.85 601.55h0M608.12 622.12h0M608.38 603.86h0M608.65 594.44h0M608.92 605.97h0M609.19 648.64h0M609.46 622.59h0M609.73 599.65h0M610 601.03h0M610.26 603.1h0M610.53 596.07h0M610.8 620.02h0M611.07 611.82h0M611.34 603.27h0M611.61 625.68h0M611.88 630.66h0M612.14 621.38h0M612.41 623.34h0M612.68 590.69h0M612.95 639.37h0M613.22 598.92h0M613.49 621.96h0M613.76 613.21h0M614.02 588.56h0M614.29 604.41h0M614.56 630.72h0M614.83 648.94h0M615.1 603.69h0M615.37 608.29h0M615.64 622.43h0M615.9 618.62h0M616.17 625.05h0M616.44 606.16h0M616.71 614.92h0M616.98 622.67h0M617.25 605.96h0M617.52 620.39h0M617.78 638.18h0M618.05 621.94h0M618.32 637.53h0M618.59 618.07h0M618.86 604h0M619.13 597.92h0M619.4 605.99h0M619.66 611.69h0M619.93 617.85h0M620.2 609.18h0M620.47 602.66h0M620.74 591.25h0M621.01 603.43h0M621.28 605.48h0M621.54 624.52h0M621.81 600.81h0M622.08 611.28h0M622.35 601.01h0M622.62 617.66h0M622.89 608.33h0M623.16 623.19h0M623.42 598.4h0M623.69 602.03h0M623.96 594.53h0M624.23 597.57h0M624.5 616.64h0M624.77 624.15h0M625.04 594.36h0M625.3 619.33h0M625.57 610.99h0M625.84 626h0M626.11 621.08h0M626.38 611.78h0M626.65 632.4h0M626.92 604.66h0M627.18 605.65h0M627.45 624.69h0M627.72 621.7h0M627.99 608.04h0M628.26 623.59h0M628.53 617.84h0M628.79 615.86h0M629.06 613.55h0M629.33 614.76h0M629.6 638.97h0M629.87 642.34h0M630.14 614.47h0M630.41 607.46h0M630.67 616.55h0M630.94 632.16h0M631.21 622.96h0M631.48 624.94h0M631.75 605.3h0M632.02 603.61h0M632.29 616.81h0M632.55 608.53h0M632.82 604.16h0M633.09 638.9h0M633.36 619.33h0M633.63 629.93h0M633.9 623.51h0M634.17 601.7h0M634.43 612.88h0M634.7 613.2h0M634.97 614.93h0M635.24 608.82h0M635.51 605.94h0M635.78 612.72h0M636.05 611.43h0M636.31 619.15h0M636.58 616.5h0M636.85 604.32h0M637.12 631.44h0M637.39 611.07h0M637.66 606.05h0M637.93 597.97h0M638.19 607.4h0M638.46 609.58h0M638.73 606.51h0" fill="none" stroke="#0000ff" stroke-width="3.6" stroke-linecap="round"/><path d="M89 648.47L89.27 605.92L89.54 593.77L89.81 586.13L90.07 591.2L90.34 601.6L90.61 622.29L90.88 607.35L91.15 597.28L91.42 620.95L91.69 601.93L91.95 603.46L92.22 602.53L92.49 585.81L92.76 592.03L93.03 591.46L93.3 583.16L93.57 609.03L93.83 597.34L94.1 595.66L94.37 611.14L94.64 593.84L94.91 586.12L95.18 583.88L95.45 581.67L95.71 578.12L95.98 580.3L96.25 591.01L96.52 591.7L96.79 578.41L97.06 571.77L97.33 573.77L97.59 577.54L97.86 575.41L98.13 581.73L98.4 596.14L98.67 608.57L98.94 591.5L99.21 589.46L99.47 594.36L99.74 589.65L100.01 578.08L100.28 571.41L100.55 582.53L100.82 603.38L101.08 582.5L101.35 587.46L101.62 595.49L101.89 600.72L102.16 598.44L102.43 588.62L102.7 589.43L102.96 597.34L103.23 592.02L103.5 583.25L103.77 583.18L104.04 600.94L104.31 598.91L104.58 589.42L104.84 590.73L105.11 594.97L105.38 601.98L105.65 599.87L105.92 590.55L106.19 581.17L106.46 583.32L106.72 593.24L106.99 596L107.26 585.45L107.53 572.92L107.8 566.39L108.07 568.77L108.34 579.14L108.6 591.86L108.87 602.56L109.14 595.82L109.41 590.98L109.68 600.69L109.95 604.87L110.22 587.81L110.48 590.78L110.75 596.28L111.02 586.06L111.29 581.89L111.56 587.28L111.83 595.75L112.1 586.85L112.36 584.6L112.63 588L112.9 591.63L113.17 591.21L113.44 586.25L113.71 580.8L113.98 585.73L114.24 583.8L114.51 576.56L114.78 580.64L115.05 597.89L115.32 616.51L115.59 619.6L115.86 590.09L116.12 585.45L116.39 594.69L116.66 592.92L116.93 598.45L117.2 598.65L117.47 601.98L117.74 612.9L118 612.61L118.27 601.45L118.54 595.74L118.81 571.09L119.08 565.39L119.35 568.88L119.62 580.78L119.88 597.91L120.15 592.8L120.42 581.58L120.69 577.87L120.96 581.8L121.23 592.7L121.5 590.39L121.76 585.53L122.03 592.78L122.3 612.48L122.57 371.92L122.84 329.67L123.11 310.9L123.38 310.86L123.64 329.56L123.91 371.69L124.18 620.39L124.45 598.66L124.72 593.7L124.99 592.29L125.25 589.85L125.52 593.74L125.79 600.04L126.06 610.23L126.33 609.76L126.6 594.79L126.87 602.51L127.13 604.5L127.4 588.33L127.67 582.74L127.94 585.99L128.21 588.49L128.48 587.14L128.75 591.99L129.01 617.06L129.28 589.84L129.55 599.33L129.82 593.99L130.09 582.1L130.36 592.31L130.63 594.09L130.89 595.5L131.16 597.87L131.43 591.83L131.7 591.63L131.97 597.57L132.24 606.43L132.51 611.51L132.77 602.37L133.04 587.48L133.31 587.21L133.58 602.92L133.85 602.41L134.12 596.1L134.39 591.21L134.65 590.88L134.92 586.78L135.19 580.7L135.46 588.17L135.73 603.39L136 593.99L136.27 589.44L136.53 590.8L136.8 589.48L137.07 572.64L137.34 565.65L137.61 569.54L137.88 576.11L138.15 579.55L138.41 586.39L138.68 579.02L138.95 568.48L139.22 564.65L139.49 565.15L139.76 569.59L140.03 578.97L140.29 595.4L140.56 593.28L140.83 587.45L141.1 584.44L141.37 590.4L141.64 606.01L141.91 608.7L142.17 613.36L142.44 621.57L142.71 600.58L142.98 589.5L143.25 582.85L143.52 584.54L143.79 588.6L144.05 590.08L144.32 597.78L144.59 600.52L144.86 585.67L145.13 590.75L145.4 598.76L145.67 599.7L145.93 598.38L146.2 585.35L146.47 580.06L146.74 576.83L147.01 569.95L147.28 570.36L147.54 590.76L147.81 596.19L148.08 592.77L148.35 618.48L148.62 607.36L148.89 624.41L149.16 616.27L149.42 597.47L149.69 579.56L149.96 572.75L150.23 574.31L150.5 577.79L150.77 575.99L151.04 579.54L151.3 594.5L151.57 613.68L151.84 592.77L152.11 594.62L152.38 647.04L152.65 596.72L152.92 599.48L153.18 592.89L153.45 579.38L153.72 581.56L153.99 579.67L154.26 582.94L154.53 579.22L154.8 573.29L155.06 585.61L155.33 595.57L155.6 586.72L155.87 591.48L156.14 609.95L156.41 613.05L156.68 595.96L156.94 588.38L157.21 589.29L157.48 596.31L157.75 608.79L158.02 603.4L158.29 599.49L158.56 607.1L158.82 604.41L159.09 595.57L159.36 589.25L159.63 587.9L159.9 594.12L160.17 598.76L160.44 588.86L160.7 583.32L160.97 584.01L161.24 578.13L161.51 578.21L161.78 595.42L162.05 596.03L162.32 588.01L162.58 586.43L162.85 574.26L163.12 574.54L163.39 585.14L163.66 591.82L163.93 599.92L164.2 586.3L164.46 582.57L164.73 594.34L165 585.6L165.27 578.71L165.54 588.79L165.81 585.62L166.08 573.22L166.34 575.87L166.61 597.92L166.88 606.05L167.15 599.98L167.42 593.61L167.69 581.81L167.96 589.28L168.22 609.92L168.49 608.09L168.76 606.95L169.03 608.64L169.3 598.73L169.57 592.23L169.83 591.76L170.1 591L170.37 597.12L170.64 612.4L170.91 593.46L171.18 588.93L171.45 593.23L171.71 595.52L171.98 585.51L172.25 598.62L172.52 604.4L172.79 603.53L173.06 610.49L173.33 599.41L173.59 593.25L173.86 599.78L174.13 586.5L174.4 573.06L174.67 568.56L174.94 574.29L175.21 595.92L175.47 596.81L175.74 580.17L176.01 578.45L176.28 588.09L176.55 594.09L176.82 591.93L177.09 591.85L177.35 581.71L177.62 582.1L177.89 595.7L178.16 588.72L178.43 578.88L178.7 584.45L178.97 597.49L179.23 585.08L179.5 577.41L179.77 578.61L180.04 580.16L180.31 580.24L180.58 582.04L180.85 589.65L181.11 604.9L181.38 610.54L181.65 599.58L181.92 592.28L182.19 588.2L182.46 593.68L182.73 612.92L182.99 618.93L183.26 595.38L183.53 588.05L183.8 604.03L184.07 585.95L184.34 572.25L184.61 571.38L184.87 574.76L185.14 579.11L185.41 580.76L185.68 584.8L185.95 593.2L186.22 586.72L186.49 587.83L186.75 615.02L187.02 608.49L187.29 589.56L187.56 582.26L187.83 587.52L188.1 585.16L188.37 592.88L188.63 593.02L188.9 590.38L189.17 600.9L189.44 610.19L189.71 622.89L189.98 593.18L190.25 583.06L190.51 586.05L190.78 609.07L191.05 594.49L191.32 589.56L191.59 588.86L191.86 580.1L192.12 583.82L192.39 592.18L192.66 584.57L192.93 578.59L193.2 590.57L193.47 590.99L193.74 577.02L194 575.55L194.27 587.4L194.54 602.83L194.81 602.21L195.08 601.86L195.35 590.11L195.62 579.67L195.88 581.91L196.15 590.17L196.42 589.11L196.69 593.57L196.96 591.22L197.23 580.74L197.5 585.95L197.76 608.44L198.03 588.46L198.3 575.88L198.57 580.62L198.84 597.3L199.11 592.45L199.38 582.41L199.64 576.74L199.91 577.12L200.18 575.21L200.45 574.15L200.72 579.12L200.99 589.62L201.26 591.01L201.52 610.96L201.79 593.17L202.06 590.37L202.33 604.56L202.6 610.87L202.87 606.94L203.14 606.42L203.4 602.37L203.67 594.64L203.94 590.37L204.21 581.53L204.48 576.97L204.75 583.2L205.02 600.32L205.28 604.59L205.55 602.23L205.82 596.07L206.09 596.01L206.36 588.66L206.63 582.93L206.9 590.81L207.16 593.87L207.43 604.31L207.7 616.35L207.97 595.18L208.24 588.36L208.51 595.71L208.78 620.99L209.04 593.81L209.31 587.67L209.58 587.44L209.85 594.43L210.12 599.95L210.39 601.28L210.66 590.98L210.92 589.26L211.19 602.31L211.46 606.46L211.73 592.16L212 590.01L212.27 584.17L212.54 580.61L212.8 581.95L213.07 586.41L213.34 590.26L213.61 592.43L213.88 588.13L214.15 584.45L214.42 585.47L214.68 580.06L214.95 591.86L215.22 597.16L215.49 596.65L215.76 588.02L216.03 576.99L216.29 575.74L216.56 577.33L216.83 575.79L217.1 583.69L217.37 602.55L217.64 593.82L217.91 581.28L218.17 574.09L218.44 571.19L218.71 573.64L218.98 579.38L219.25 580.87L219.52 586.52L219.79 595.13L220.05 602.53L220.32 597.07L220.59 580.56L220.86 586.84L221.13 598.91L221.4 590.94L221.67 623.66L221.93 602.38L222.2 600.64L222.47 601.28L222.74 601.34L223.01 597.65L223.28 590.59L223.55 589.43L223.81 600.67L224.08 600.91L224.35 582.67L224.62 582.01L224.89 583.3L225.16 593.79L225.43 598.03L225.69 590.79L225.96 599.86L226.23 600.79L226.5 583.52L226.77 574.94L227.04 580.45L227.31 580.77L227.57 584.21L227.84 590.54L228.11 588.25L228.38 584.95L228.65 586.12L228.92 587.63L229.19 591.79L229.45 594.31L229.72 593.32L229.99 600.05L230.26 638.23L230.53 608.18L230.8 598.5L231.07 596.49L231.33 584.7L231.6 587.97L231.87 594.05L232.14 587.2L232.41 579.32L232.68 576.29L232.95 579.29L233.21 582.38L233.48 579.59L233.75 581.29L234.02 589.97L234.29 601.63L234.56 633.08L234.83 611.05L235.09 608.97L235.36 593.13L235.63 586.11L235.9 587.07L236.17 584.92L236.44 585.09L236.71 588.16L236.97 584.56L237.24 574.87L237.51 575.05L237.78 580.45L238.05 590.37L238.32 593.71L238.58 590.81L238.85 595.72L239.12 610.89L239.39 591.86L239.66 598.82L239.93 603.44L240.2 587.44L240.46 577.4L240.73 574.53L241 576.74L241.27 581.59L241.54 586.94L241.81 589.85L242.08 588.47L242.34 593.51L242.61 616.31L242.88 595.52L243.15 581.91L243.42 584.31L243.69 606.59L243.96 585.32L244.22 590.07L244.49 604.04L244.76 600.71L245.03 593.12L245.3 592.94L245.57 599.16L245.84 579.47L246.1 575.07L246.37 572.82L246.64 574.05L246.91 584.02L247.18 623.59L247.45 589.44L247.72 594.22L247.98 596.74L248.25 589.8L248.52 593.54L248.79 590.72L249.06 588.13L249.33 595.97L249.6 594.53L249.86 590.48L250.13 591.91L250.4 591.74L250.67 582.44L250.94 571.6L251.21 570.55L251.48 581.34L251.74 597.12L252.01 592.22L252.28 597.62L252.55 596.79L252.82 577.26L253.09 570.53L253.36 572.8L253.62 580.01L253.89 591.33L254.16 614.24L254.43 589.47L254.7 577.03L254.97 578.39L255.24 584.72L255.5 590.82L255.77 615.46L256.04 586.73L256.31 591.16L256.58 615.78L256.85 607.29L257.12 590.7L257.38 577.75L257.65 579.32L257.92 599.72L258.19 614.23L258.46 601.45L258.73 591.88L259 599.39L259.26 602.97L259.53 597.91L259.8 590.58L260.07 580.12L260.34 574.62L260.61 583.05L260.88 613.73L261.14 623.86L261.41 604.95L261.68 604.7L261.95 592.11L262.22 586.46L262.49 593.69L262.75 608.73L263.02 593.64L263.29 585.37L263.56 579.81L263.83 574.15L264.1 575.65L264.37 581.65L264.63 592.21L264.9 606.71L265.17 602.59L265.44 617.7L265.71 598.48L265.98 593.13L266.25 599.03L266.51 624.45L266.78 592.31L267.05 593.81L267.32 593.6L267.59 595.19L267.86 601.82L268.13 590.76L268.39 592.78L268.66 606.75L268.93 594.53L269.2 585.46L269.47 585.77L269.74 599.61L270.01 593.7L270.27 589.56L270.54 595.08L270.81 585.25L271.08 584.61L271.35 589.68L271.62 588.03L271.89 591.89L272.15 611.8L272.42 596.36L272.69 587.75L272.96 589.86L273.23 597.92L273.5 603.44L273.77 595.57L274.03 592.84L274.3 586.97L274.57 587.53L274.84 591.98L275.11 593.98L275.38 588.52L275.65 580.12L275.91 579.31L276.18 581.76L276.45 589.62L276.72 577.79L276.99 569.72L277.26 575.83L277.53 587.48L277.79 585L278.06 577.92L278.33 578.7L278.6 600.68L278.87 591.72L279.14 584.64L279.41 583.84L279.67 578.1L279.94 577.96L280.21 581.12L280.48 587.3L280.75 577.88L281.02 574.03L281.29 579.19L281.55 583.52L281.82 584.77L282.09 582.01L282.36 587.93L282.63 596.01L282.9 587.81L283.17 612.92L283.43 595.09L283.7 602.29L283.97 591.72L284.24 584.16L284.51 607.28L284.78 588.43L285.04 583.76L285.31 591.26L285.58 597.8L285.85 609.92L286.12 596.15L286.39 592.99L286.66 598.31L286.92 602.76L287.19 600.07L287.46 593.51L287.73 585.13L288 584L288.27 592.12L288.54 600.09L288.8 579.34L289.07 571.05L289.34 579.71L289.61 603.32L289.88 609.33L290.15 604.35L290.42 590.76L290.68 584.36L290.95 587.06L291.22 596.7L291.49 597.21L291.76 587.56L292.03 585.59L292.3 595.54L292.56 595.46L292.83 579.2L293.1 576.69L293.37 580.26L293.64 577.7L293.91 578.25L294.18 595.66L294.44 599.15L294.71 587.72L294.98 592.15L295.25 611.05L295.52 612.49L295.79 638.16L296.06 596.52L296.32 585.44L296.59 578.05L296.86 579.41L297.13 590.58L297.4 595.26L297.67 611.91L297.94 602.82L298.2 598.12L298.47 592.97L298.74 595.68L299.01 612.01L299.28 588.04L299.55 578.28L299.82 585.41L300.08 590.16L300.35 583.66L300.62 589.69L300.89 595.14L301.16 586.64L301.43 588.44L301.7 596.8L301.96 603.79L302.23 608.44L302.5 586.76L302.77 570.1L303.04 565.46L303.31 570.3L303.58 580.96L303.84 583.04L304.11 584.91L304.38 602.6L304.65 588.11L304.92 584.1L305.19 589.06L305.46 594.04L305.72 600.82L305.99 596.44L306.26 586.02L306.53 580.94L306.8 579.81L307.07 577.39L307.33 570.44L307.6 566.56L307.87 572.24L308.14 595.52L308.41 594.27L308.68 578.88L308.95 582.41L309.21 595.75L309.48 587.23L309.75 577.7L310.02 571.47L310.29 577.71L310.56 592.98L310.83 597.74L311.09 607L311.36 600.77L311.63 607L311.9 591.95L312.17 584.79L312.44 584.1L312.71 579.71L312.97 579.71L313.24 590.79L313.51 605.14L313.78 583.56L314.05 582.79L314.32 587.94L314.59 580.8L314.85 575.52L315.12 581.46L315.39 595.18L315.66 591.22L315.93 574.84L316.2 570.04L316.47 583.07L316.73 616.99L317 587.93L317.27 580.95L317.54 580.57L317.81 581.68L318.08 587.13L318.35 588.32L318.61 585.15L318.88 598.03L319.15 603.54L319.42 605.67L319.69 589.16L319.96 570.62L320.23 567.99L320.49 578.94L320.76 595.25L321.03 612.27L321.3 591.64L321.57 608.35L321.84 593.22L322.11 590.33L322.37 606.15L322.64 609.27L322.91 592.57L323.18 582.59L323.45 591.05L323.72 603.16L323.99 591.81L324.25 581.82L324.52 581.91L324.79 588.02L325.06 583.67L325.33 574.29L325.6 570.68L325.87 572.34L326.13 579.85L326.4 599.86L326.67 593.12L326.94 585.62L327.21 582.04L327.48 588.8L327.75 598.4L328.01 592.27L328.28 585.97L328.55 582.13L328.82 572.99L329.09 570.58L329.36 576.89L329.62 587.24L329.89 603L330.16 606.97L330.43 609.07L330.7 598.87L330.97 595.45L331.24 593.91L331.5 584.9L331.77 620.46L332.04 583.35L332.31 574.96L332.58 573.99L332.85 579.44L333.12 602.39L333.38 613.43L333.65 582.49L333.92 570.34L334.19 575.35L334.46 586.52L334.73 588.48L335 598.81L335.26 586.35L335.53 580.75L335.8 581.43L336.07 597.82L336.34 591.04L336.61 571.58L336.88 566.96L337.14 571.06L337.41 587.96L337.68 598.01L337.95 572.23L338.22 569.42L338.49 583.51L338.76 599.56L339.02 597L339.29 600.2L339.56 620.72L339.83 597.66L340.1 592.4L340.37 595.72L340.64 615.54L340.9 599.77L341.17 594.93L341.44 604.73L341.71 596.63L341.98 595.32L342.25 602.42L342.52 610.88L342.78 598.43L343.05 589.08L343.32 591.71L343.59 601.56L343.86 600.46L344.13 594.98L344.4 588.77L344.66 592.71L344.93 627.66L345.2 594.01L345.47 583.49L345.74 577.04L346.01 574.8L346.28 579.32L346.54 577.8L346.81 566.56L347.08 568.62L347.35 592.73L347.62 597.14L347.89 592.24L348.16 590.75L348.42 576.37L348.69 566.38L348.96 563.93L349.23 567.77L349.5 577.28L349.77 591.97L350.04 600.1L350.3 603.34L350.57 588.6L350.84 577.67L351.11 575.61L351.38 575.47L351.65 583.05L351.92 598.52L352.18 592.33L352.45 582.01L352.72 575.87L352.99 580.81L353.26 592.15L353.53 587.81L353.79 582.31L354.06 579.96L354.33 583.47L354.6 581.11L354.87 589.88L355.14 601.12L355.41 597.54L355.67 608.3L355.94 600L356.21 587.18L356.48 577.93L356.75 581.11L357.02 591.78L357.29 598.86L357.55 598.68L357.82 588.41L358.09 584.9L358.36 588.17L358.63 596.54L358.9 598.68L359.17 601.18L359.43 598.47L359.7 605.51L359.97 610.96L360.24 587.49L360.51 587.57L360.78 612.65L361.05 580.04L361.31 572.14L361.58 571.76L361.85 576.19L362.12 580.22L362.39 581.87L362.66 582.11L362.93 580.56L363.19 586.31L363.46 600.53L363.73 597.41L364 590.97L364.27 603.75L364.54 617.57L364.81 616.09L365.07 591.31L365.34 588.44L365.61 589.22L365.88 590.43L366.15 593.31L366.42 580.5L366.69 573.98L366.95 584.03L367.22 607.5L367.49 630.52L367.76 615.28L368.03 594.86L368.3 593.65L368.57 603.31L368.83 586.5L369.1 575.85L369.37 580.67L369.64 603.9L369.91 602.62L370.18 590.57L370.45 586.89L370.71 588.65L370.98 583.97L371.25 580.68L371.52 581.44L371.79 583.53L372.06 581.44L372.33 576.96L372.59 579.35L372.86 590.31L373.13 595.92L373.4 595.15L373.67 582.66L373.94 582.76L374.21 591.83L374.47 590.3L374.74 580.38L375.01 572.77L375.28 571.39L375.55 578.2L375.82 583.01L376.08 584.75L376.35 589.46L376.62 597.01L376.89 627.54L377.16 595.4L377.43 593.53L377.7 591.1L377.96 596.57L378.23 598.31L378.5 593.78L378.77 590.2L379.04 582.8L379.31 580.65L379.58 599.71L379.84 589.5L380.11 577.88L380.38 590.99L380.65 599.21L380.92 590.35L381.19 592.53L381.46 578.41L381.72 570.77L381.99 575.75L382.26 584.64L382.53 586.65L382.8 593.24L383.07 592.56L383.34 595.73L383.6 624.54L383.87 596.86L384.14 616.37L384.41 593.4L384.68 592.25L384.95 610.78L385.22 606.68L385.48 590.75L385.75 581.42L386.02 581.48L386.29 582.96L386.56 582.28L386.83 582.65L387.1 586.74L387.36 593.93L387.63 588.23L387.9 582.49L388.17 587.13L388.44 587.44L388.71 580.98L388.98 593.42L389.24 596.39L389.51 579.87L389.78 587.16L390.05 653.6L390.32 600.66L390.59 631.09L390.86 599.82L391.12 602.95L391.39 578.22L391.66 571.43L391.93 581.62L392.2 605.09L392.47 602.28L392.74 591.54L393 578.23L393.27 575.36L393.54 584.34L393.81 629.34L394.08 589.82L394.35 582.48L394.62 582.67L394.88 586.1L395.15 594.4L395.42 581.78L395.69 576.78L395.96 585.99L396.23 595.25L396.5 595.5L396.76 604.08L397.03 610.11L397.3 593.44L397.57 591.55L397.84 612.4L398.11 588.86L398.38 584.65L398.64 584.9L398.91 577.1L399.18 581.71L399.45 596.43L399.72 594.05L399.99 612.82L400.25 593.35L400.52 596.45L400.79 591.45L401.06 598.19L401.33 602.3L401.6 591.77L401.87 594.55L402.13 597.54L402.4 593.92L402.67 601.93L402.94 605.72L403.21 596.8L403.48 596.81L403.75 599.45L404.01 592.65L404.28 590.1L404.55 593.85L404.82 602.09L405.09 614.51L405.36 599.25L405.63 576.03L405.89 569.95L406.16 581.03L406.43 613.37L406.7 602.61L406.97 611.82L407.24 598.33L407.51 611.13L407.77 602.34L408.04 582.88L408.31 576.6L408.58 581.11L408.85 597.61L409.12 621.24L409.39 603.82L409.65 611.87L409.92 601.03L410.19 599.06L410.46 588.34L410.73 582.55L411 583.4L411.27 587.79L411.53 581.03L411.8 575.44L412.07 592.48L412.34 589.86L412.61 584.65L412.88 597.61L413.15 591.94L413.41 591.99L413.68 598.84L413.95 601.2L414.22 598.13L414.49 593.18L414.76 593.05L415.03 597.3L415.29 592.66L415.56 585.57L415.83 594.09L416.1 601.68L416.37 587.25L416.64 594.59L416.91 598.43L417.17 598.6L417.44 592.76L417.71 588.03L417.98 592.63L418.25 589.05L418.52 587.87L418.79 590.72L419.05 582.89L419.32 582.49L419.59 592.91L419.86 600.57L420.13 606.16L420.4 594.52L420.67 604.94L420.93 594.89L421.2 595.83L421.47 597.62L421.74 579.42L422.01 575.39L422.28 578.39L422.54 576.93L422.81 575.5L423.08 583.06L423.35 595.72L423.62 583.22L423.89 574.47L424.16 577.36L424.42 575.44L424.69 576.25L424.96 586.23L425.23 590.39L425.5 585.35L425.77 586.63L426.04 598.69L426.3 649.61L426.57 600.34L426.84 589.76L427.11 578.97L427.38 572.44L427.65 567.87L427.92 569.08L428.18 581.41L428.45 598.36L428.72 593.99L428.99 581.85L429.26 583.94L429.53 601.05L429.8 600.93L430.06 608.86L430.33 583.3L430.6 583.15L430.87 594.66L431.14 593.68L431.41 597.66L431.68 607L431.94 606.3L432.21 606.43L432.48 598.09L432.75 593.94L433.02 592.73L433.29 588L433.56 586.52L433.82 594.73L434.09 608.86L434.36 590.11L434.63 583.45L434.9 584.81L435.17 571.63L435.44 574.15L435.7 613.57L435.97 579.2L436.24 576.12L436.51 589.56L436.78 597.67L437.05 621.72L437.32 597.47L437.58 623.87L437.85 591.9L438.12 592.07L438.39 602.04L438.66 619.52L438.93 607.46L439.2 611.29L439.46 588.43L439.73 587.06L440 624.8L440.27 585.46L440.54 574.99L440.81 576.14L441.08 591.46L441.34 591.22L441.61 570.96L441.88 567.87L442.15 572.91L442.42 575.38L442.69 578.96L442.96 588.01L443.22 599.94L443.49 604.16L443.76 596.13L444.03 593.05L444.3 595.91L444.57 590.46L444.83 582.43L445.1 579.54L445.37 576.63L445.64 583.14L445.91 607.78L446.18 585.87L446.45 581.94L446.71 579.8L446.98 569.26L447.25 569.52L447.52 589.51L447.79 605.74L448.06 579.57L448.33 569.61L448.59 571.01L448.86 593.22L449.13 596.17L449.4 593.84L449.67 607.34L449.94 596L450.21 593.99L450.47 588L450.74 593.69L451.01 607.65L451.28 581.1L451.55 582.66L451.82 598.09L452.09 583.21L452.35 575.9L452.62 581.54L452.89 581.31L453.16 573.17L453.43 568.6L453.7 570.84L453.97 580.89L454.23 585.61L454.5 580.86L454.77 579.69L455.04 593.85L455.31 595.05L455.58 578.76L455.85 577.18L456.11 583.2L456.38 589.73L456.65 593.26L456.92 580.68L457.19 585.27L457.46 604.53L457.73 579.91L457.99 579.57L458.26 591.61L458.53 589.57L458.8 583.73L459.07 592.9L459.34 606.59L459.61 610.54L459.87 622.42L460.14 604.08L460.41 591.6L460.68 597.73L460.95 598.05L461.22 591.71L461.49 605.17L461.75 610.87L462.02 593.33L462.29 587.43L462.56 594.52L462.83 611.76L463.1 586.85L463.37 586.62L463.63 599.99L463.9 606.32L464.17 611.97L464.44 602.19L464.71 592.19L464.98 591.78L465.25 594.73L465.51 595.76L465.78 580.37L466.05 585.55L466.32 602.72L466.59 598.79L466.86 588.7L467.12 578.04L467.39 569.86L467.66 570.01L467.93 576.63L468.2 580.67L468.47 583.62L468.74 591.68L469 596.87L469.27 600.27L469.54 586.6L469.81 574.78L470.08 575.74L470.35 584.69L470.62 583.09L470.88 585.35L471.15 610.56L471.42 599.14L471.69 590.57L471.96 594.23L472.23 597.49L472.5 588.72L472.76 584.21L473.03 587.2L473.3 588.46L473.57 579.99L473.84 579.14L474.11 593.44L474.38 599.49L474.64 599.3L474.91 595.54L475.18 597.54L475.45 597.77L475.72 579.55L475.99 578.52L476.26 585.85L476.52 603.37L476.79 612.45L477.06 602.7L477.33 607.16L477.6 619.67L477.87 595.81L478.14 591.48L478.4 588.4L478.67 590.73L478.94 602.04L479.21 602.7L479.48 595.75L479.75 581.99L480.02 572.25L480.28 577.85L480.55 593.54L480.82 592.05L481.09 578.28L481.36 574.69L481.63 581.75L481.9 593.12L482.16 616.18L482.43 598.23L482.7 593.55L482.97 609.16L483.24 603.03L483.51 606.08L483.78 608.52L484.04 602.61L484.31 603.75L484.58 605.61L484.85 631.41L485.12 601.74L485.39 614.98L485.66 580.15L485.92 575.68L486.19 596.04L486.46 587.02L486.73 577.06L487 583.83L487.27 596.3L487.54 596.36L487.8 584.47L488.07 586.31L488.34 603.63L488.61 620.39L488.88 610.75L489.15 598.3L489.42 602.15L489.68 603.74L489.95 591.07L490.22 578.07L490.49 575.55L490.76 585.22L491.03 597.06L491.29 586.56L491.56 574.64L491.83 571.78L492.1 575.93L492.37 581.17L492.64 580.83L492.91 577.36L493.17 574.71L493.44 577.6L493.71 592.93L493.98 603.76L494.25 594.67L494.52 590.99L494.79 592.32L495.05 600.44L495.32 599.13L495.59 586.44L495.86 582.42L496.13 584.01L496.4 591.65L496.67 598.76L496.93 593.49L497.2 593.09L497.47 577.23L497.74 573.16L498.01 579.29L498.28 582.31L498.55 583.52L498.81 592.96L499.08 592.26L499.35 581.82L499.62 583.78L499.89 584.02L500.16 580.24L500.43 596.13L500.69 587.95L500.96 571.36L501.23 573.46L501.5 584.39L501.77 604.49L502.04 601.8L502.31 590.95L502.57 589.21L502.84 594.3L503.11 604.05L503.38 609.1L503.65 594.19L503.92 588.03L504.19 587.05L504.45 584.3L504.72 583.45L504.99 590.74L505.26 598.76L505.53 593.49L505.8 590.31L506.07 597.63L506.33 590.61L506.6 596.38L506.87 631.34L507.14 608.8L507.41 599.26L507.68 598.76L507.95 599.8L508.21 595.8L508.48 582.38L508.75 575.58L509.02 579.84L509.29 586.59L509.56 582.63L509.83 584.1L510.09 598.1L510.36 599.75L510.63 586.52L510.9 580.24L511.17 577.84L511.44 574.31L511.71 573.09L511.97 573.68L512.24 575.92L512.51 581.16L512.78 590.9L513.05 607.24L513.32 624.59L513.58 610.99L513.85 612.1L514.12 606.08L514.39 604.89L514.66 594.92L514.93 591.89L515.2 595.18L515.46 618.55L515.73 586.88L516 578.14L516.27 584.03L516.54 599.53L516.81 605.23L517.08 615.76L517.34 598.88L517.61 583.69L517.88 590.78L518.15 601.19L518.42 594.44L518.69 591.17L518.96 585.26L519.22 574.73L519.49 573.64L519.76 582.05L520.03 595.58L520.3 620.51L520.57 605.04L520.84 608.21L521.1 602.66L521.37 585.45L521.64 586.92L521.91 598.41L522.18 599.08L522.45 600.55L522.72 603.87L522.98 587.58L523.25 573.54L523.52 570.43L523.79 573.75L524.06 589.1L524.33 623.58L524.6 603.38L524.86 599.43L525.13 591.16L525.4 589.51L525.67 596.04L525.94 583.88L526.21 590.65L526.48 602.17L526.74 600.93L527.01 598.08L527.28 590L527.55 586.33L527.82 596.45L528.09 587.59L528.36 582.3L528.62 592.07L528.89 588.06L529.16 585.66L529.43 584.7L529.7 588.87L529.97 597.99L530.24 595.29L530.5 587.32L530.77 581.33L531.04 581.68L531.31 592.01L531.58 603.83L531.85 598.08L532.12 599.8L532.38 598.77L532.65 577.27L532.92 573.05L533.19 577.32L533.46 581.68L533.73 576.67L534 577.22L534.26 591.2L534.53 576.92L534.8 570.16L535.07 575.56L535.34 591.59L535.61 594.26L535.88 577.52L536.14 586.78L536.41 593.92L536.68 588.71L536.95 587.27L537.22 581.32L537.49 579.25L537.75 581.22L538.02 585.07L538.29 594.95L538.56 612.89L538.83 595.19L539.1 596.24L539.37 599.91L539.63 609.48L539.9 600.98L540.17 586.06L540.44 581.59L540.71 592.38L540.98 605.44L541.25 583.5L541.51 575.93L541.78 581.48L542.05 593.52L542.32 614.01L542.59 600.28L542.86 588.76L543.13 577.65L543.39 570.69L543.66 572.99L543.93 592.04L544.2 634.97L544.47 603.36L544.74 597.07L545.01 593.77L545.27 601.79L545.54 603.33L545.81 593.19L546.08 585.07L546.35 591.1L546.62 594.17L546.89 579.83L547.15 584.96L547.42 611.06L547.69 600.46L547.96 603.82L548.23 583.47L548.5 590.62L548.77 600.54L549.03 593.41L549.3 593.95L549.57 593.56L549.84 591.3L550.11 596.97L550.38 587.4L550.65 574.41L550.91 585.7L551.18 597.53L551.45 591.63L551.72 594.24L551.99 602.63L552.26 604.26L552.53 599.2L552.79 604.73L553.06 587.96L553.33 577.29L553.6 578.71L553.87 591.28L554.14 599.7L554.41 594.18L554.67 596.16L554.94 601.87L555.21 578.53L555.48 570.8L555.75 576.53L556.02 596.75L556.29 595.61L556.55 592.62L556.82 590.65L557.09 582.65L557.36 582.95L557.63 593.12L557.9 601.65L558.17 607.8L558.43 590.38L558.7 577.53L558.97 574.22L559.24 580.03L559.51 595.13L559.78 597.03L560.04 584.58L560.31 581.66L560.58 592.46L560.85 601.73L561.12 585.07L561.39 585.14L561.66 590.15L561.92 589.78L562.19 590.02L562.46 596.94L562.73 604.58L563 597.58L563.27 591.66L563.54 599.37L563.8 593.65L564.07 575.66L564.34 582.9L564.61 607.17L564.88 588.13L565.15 581.73L565.42 574.9L565.68 571.04L565.95 581.88L566.22 600.08L566.49 602.27L566.76 601.75L567.03 587.61L567.3 580.86L567.56 584.28L567.83 587.31L568.1 590.45L568.37 593.86L568.64 593.98L568.91 590.48L569.18 587.55L569.44 588.07L569.71 596.82L569.98 600.72L570.25 619.42L570.52 590.26L570.79 583.56L571.06 586.4L571.32 585.62L571.59 582.47L571.86 581.73L572.13 579.58L572.4 581.95L572.67 585.23L572.94 575.16L573.2 575.83L573.47 593.14L573.74 603.15L574.01 582.77L574.28 571.23L574.55 568.69L574.82 574.67L575.08 581.13L575.35 597.88L575.62 607.56L575.89 617.78L576.16 639.34L576.43 600.69L576.7 588.12L576.96 589.89L577.23 586.39L577.5 576.57L577.77 579.59L578.04 597.95L578.31 598.39L578.58 578.45L578.84 569.2L579.11 567.19L579.38 572L579.65 590.25L579.92 622.53L580.19 597.34L580.46 584.01L580.72 585.76L580.99 593.23L581.26 606.88L581.53 592.86L581.8 579.66L582.07 575.93L582.33 582.24L582.6 594.09L582.87 585.68L583.14 578.02L583.41 571.08L583.68 573.53L583.95 584.65L584.21 592.9L584.48 591.85L584.75 587.99L585.02 591.93L585.29 581.73L585.56 576.6L585.83 582.82L586.09 593.14L586.36 600.56L586.63 595.32L586.9 601.82L587.17 610.67L587.44 594.18L587.71 586.83L587.97 592.34L588.24 587.19L588.51 577.75L588.78 576.73L589.05 579.59L589.32 574.84L589.59 571.27L589.85 578.39L590.12 592.58L590.39 599.31L590.66 614.31L590.93 613.21L591.2 608.63L591.47 600.62L591.73 582.63L592 575.01L592.27 585.38L592.54 596.86L592.81 607.94L593.08 603.61L593.35 587.04L593.61 581.73L593.88 591.34L594.15 599.72L594.42 597.99L594.69 592.97L594.96 587.54L595.23 598.59L595.49 593.96L595.76 584.66L596.03 583.9L596.3 589.08L596.57 602.17L596.84 582.92L597.11 575.07L597.37 573.24L597.64 572.79L597.91 574.47L598.18 582L598.45 588.48L598.72 585.94L598.99 589.74L599.25 614.12L599.52 586.54L599.79 585.74L600.06 588.18L600.33 577.04L600.6 574.05L600.87 584.71L601.13 600.9L601.4 606.52L601.67 591.48L601.94 579.65L602.21 577.07L602.48 586.8L602.75 599.2L603.01 598.9L603.28 592.5L603.55 595.94L603.82 593.82L604.09 596.59L604.36 614.55L604.62 633.89L604.89 612.65L605.16 602.28L605.43 615.19L605.7 598.33L605.97 583.18L606.24 576.31L606.5 574.59L606.77 575.3L607.04 571.82L607.31 574.12L607.58 589.24L607.85 591.39L608.12 578.2L608.38 578.11L608.65 590.72L608.92 570.55L609.19 573.02L609.46 593.01L609.73 593.34L610 582.99L610.26 585.02L610.53 592.59L610.8 596.31L611.07 592.91L611.34 588.1L611.61 585.55L611.88 585.14L612.14 589.11L612.41 593.9L612.68 603.28L612.95 613.51L613.22 597.51L613.49 600.83L613.76 617.13L614.02 626L614.29 592.68L614.56 589.83L614.83 622.01L615.1 592.91L615.37 589.32L615.64 594.71L615.9 580.75L616.17 571.91L616.44 573.61L616.71 580.98L616.98 589.41L617.25 603.21L617.52 592.16L617.78 581.68L618.05 592.05L618.32 593.06L618.59 598.52L618.86 607.91L619.13 594.14L619.4 590.06L619.66 580.11L619.93 574.59L620.2 578.52L620.47 590.78L620.74 604.92L621.01 592.74L621.28 580.34L621.54 578.85L621.81 594.73L622.08 594.73L622.35 584.59L622.62 584.55L622.89 577.84L623.16 577.41L623.42 588.61L623.69 605.06L623.96 590.3L624.23 578.66L624.5 577.73L624.77 591.65L625.04 610.87L625.3 604.64L625.57 586.67L625.84 571.8L626.11 567.92L626.38 580.07L626.65 603.34L626.92 603.03L627.18 594.75L627.45 588.42L627.72 603.92L627.99 584.45L628.26 583.41L628.53 590.19L628.79 590.99L629.06 593.12L629.33 578.98L629.6 570.98L629.87 577.12L630.14 582.71L630.41 589.53L630.67 593.84L630.94 577.6L631.21 577.52L631.48 589.69L631.75 597.62L632.02 601.1L632.29 595.61L632.55 610.37L632.82 599.02L633.09 593.05L633.36 581.89L633.63 580.85L633.9 584.03L634.17 582.83L634.43 590.64L634.7 579.25L634.97 574.66L635.24 587.24L635.51 614.25L635.78 588.66L636.05 585.8L636.31 585.76L636.58 568.27L636.85 564.03L637.12 571.86L637.39 596.51L637.66 592.75L637.93 585.46L638.19 595.19L638.46 636.33L638.73 607.42" fill="none" stroke="#ff0000" stroke-width="0.9" stroke-dasharray="13 7.5" stroke-linejoin="round"/></g><text transform="translate(139.5 242.9) scale(1 1.06)" fill="#000"><tspan font-size="17.2" font-weight="bold">Sine Wave FFT Result</tspan><tspan font-size="15.2" dx="5.5">(Frequency = 8 kHz, Amplitude = 1V)</tspan></text><text class="e" x="362.2" y="735.2" font-size="17.3" fill="#262626" color="#262626" text-anchor="middle">Frequency Bin (a.u.)</text><text class="e" transform="translate(40.4 473.3) rotate(-90)" font-size="17.3" fill="#262626" color="#262626" text-anchor="middle">Amplitude (dB)</text><rect x="185" y="268" width="440.5" height="67.5" fill="#fff" stroke="#262626" stroke-width="1"/><path d="M190 280.5H240.5" stroke="#333" stroke-width="0.8"/><path d="M190 301.7H240.5" stroke="#0000ff" stroke-width="0.8"/><path d="M215.4 301.7h0" stroke="#0000ff" stroke-width="3.4" stroke-linecap="round"/><path d="M190 322.6H240.5" stroke="#ff0000" stroke-width="0.9" stroke-dasharray="13 7.5"/><text class="e" x="244" y="285.9" font-size="15.2" fill="#000" color="#000">#1 (Coherent Sampling X (Fs = 257kHz), Windowing X)</text><text class="e" x="244" y="307.1" font-size="15.2" fill="#000" color="#000">#2 (Coherent Sampling O (Fs = 256kHz), Windowing X)</text><text class="e" x="244" y="328" font-size="15.2" fill="#000" color="#000">#3 (Coherent Sampling X (Fs = 257kHz), Windowing O)</text></svg></body></html>
